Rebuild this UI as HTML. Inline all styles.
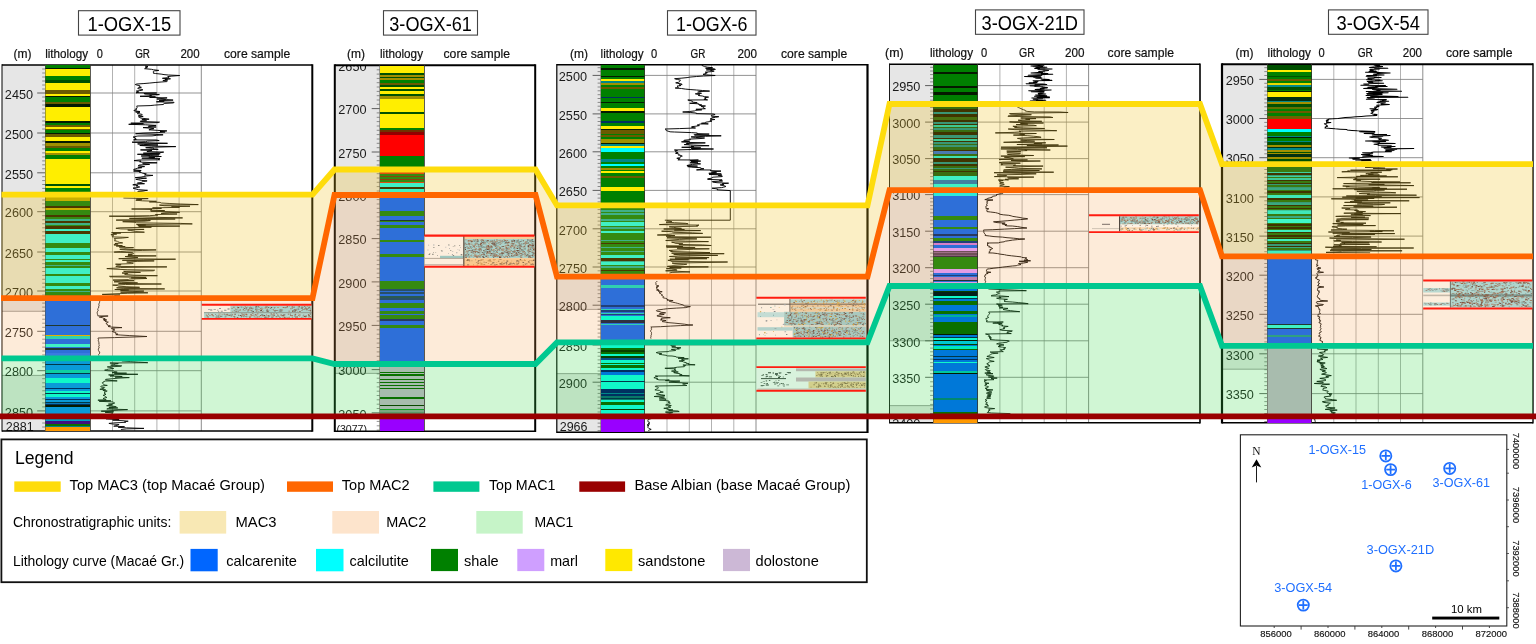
<!DOCTYPE html>
<html lang="en"><head><meta charset="utf-8"><title>Well correlation - Macaé Group</title>
<style>html,body{margin:0;padding:0;background:#fff}body{width:1536px;height:644px;overflow:hidden}svg{display:block}.hd{font-family:"Liberation Sans",sans-serif;font-size:13.6px;fill:#111;stroke:#111;stroke-width:0.22px}.tt{font-family:"Liberation Sans",sans-serif;font-size:19.6px;fill:#000}.dl{font-family:"Liberation Sans",sans-serif;font-size:12.7px;fill:#1a1a1a}.lg{font-family:"Liberation Sans",sans-serif;fill:#000}.mp{font-family:"Liberation Sans",sans-serif;fill:#1f6fff;font-size:12.6px}.ax{font-family:"Liberation Sans",sans-serif;fill:#111;font-size:9.8px;stroke:#111;stroke-width:0.15px}</style></head><body>
<svg width="1536" height="644" viewBox="0 0 1536 644">
<rect width="1536" height="644" fill="#fff"/>
<g id="panels">
<rect x="2.0" y="65.0" width="310.3" height="366.0" fill="#fff"/>
<rect x="2.0" y="65" width="43.2" height="246.3" fill="#e6e6e6"/>
<rect x="2.0" y="375.4" width="43.2" height="55.6" fill="#e6e6e6"/>
<rect x="334.8" y="65.3" width="200.4" height="365.9" fill="#fff"/>
<rect x="334.8" y="65" width="44.9" height="308.4" fill="#e6e6e6"/>
<rect x="556.8" y="64.8" width="310.7" height="367.4" fill="#fff"/>
<rect x="556.8" y="65" width="43.8" height="244.4" fill="#e6e6e6"/>
<rect x="556.8" y="373.6" width="43.8" height="58.4" fill="#e6e6e6"/>
<rect x="889.5" y="64.2" width="310.5" height="358.5" fill="#fff"/>
<rect x="889.5" y="64.5" width="43.6" height="276.3" fill="#e6e6e6"/>
<rect x="889.5" y="405.6" width="43.6" height="16.9" fill="#e6e6e6"/>
<rect x="1222.0" y="64.2" width="311.0" height="358.5" fill="#fff"/>
<rect x="1222.0" y="64.5" width="45.3" height="304.7" fill="#e6e6e6"/>
<line x1="2.0" y1="311.3" x2="45.2" y2="311.3" stroke="#8a8a8a" stroke-width="0.8"/>
<line x1="2.0" y1="375.4" x2="45.2" y2="375.4" stroke="#8a8a8a" stroke-width="0.8"/>
<line x1="334.8" y1="373.4" x2="379.7" y2="373.4" stroke="#8a8a8a" stroke-width="0.8"/>
<line x1="556.8" y1="309.4" x2="600.6" y2="309.4" stroke="#8a8a8a" stroke-width="0.8"/>
<line x1="556.8" y1="373.6" x2="600.6" y2="373.6" stroke="#8a8a8a" stroke-width="0.8"/>
<line x1="889.5" y1="340.8" x2="933.1" y2="340.8" stroke="#8a8a8a" stroke-width="0.8"/>
<line x1="889.5" y1="405.6" x2="933.1" y2="405.6" stroke="#8a8a8a" stroke-width="0.8"/>
<line x1="1222.0" y1="369.2" x2="1267.3" y2="369.2" stroke="#8a8a8a" stroke-width="0.8"/>
</g>
<g id="grid" stroke="#a4a4a4" stroke-width="0.85" fill="none">
<line x1="112.5" y1="65.0" x2="112.5" y2="431.0"/>
<line x1="134.7" y1="65.0" x2="134.7" y2="431.0"/>
<line x1="156.9" y1="65.0" x2="156.9" y2="431.0"/>
<line x1="179.1" y1="65.0" x2="179.1" y2="431.0"/>
<line x1="90.3" y1="93.0" x2="201.3" y2="93.0" stroke="#808080"/>
<line x1="90.3" y1="133.0" x2="201.3" y2="133.0" stroke="#808080"/>
<line x1="90.3" y1="172.8" x2="201.3" y2="172.8" stroke="#808080"/>
<line x1="90.3" y1="211.7" x2="201.3" y2="211.7" stroke="#808080"/>
<line x1="90.3" y1="252.0" x2="201.3" y2="252.0" stroke="#808080"/>
<line x1="90.3" y1="291.0" x2="201.3" y2="291.0" stroke="#808080"/>
<line x1="90.3" y1="331.3" x2="201.3" y2="331.3" stroke="#808080"/>
<line x1="90.3" y1="370.7" x2="201.3" y2="370.7" stroke="#808080"/>
<line x1="90.3" y1="410.9" x2="201.3" y2="410.9" stroke="#808080"/>
<line x1="201.3" y1="65.0" x2="201.3" y2="431.0" stroke="#777"/>
<line x1="667.0" y1="64.8" x2="667.0" y2="432.2"/>
<line x1="689.3" y1="64.8" x2="689.3" y2="432.2"/>
<line x1="711.5" y1="64.8" x2="711.5" y2="432.2"/>
<line x1="733.8" y1="64.8" x2="733.8" y2="432.2"/>
<line x1="644.8" y1="75.4" x2="756.0" y2="75.4" stroke="#808080"/>
<line x1="644.8" y1="113.9" x2="756.0" y2="113.9" stroke="#808080"/>
<line x1="644.8" y1="151.8" x2="756.0" y2="151.8" stroke="#808080"/>
<line x1="644.8" y1="190.4" x2="756.0" y2="190.4" stroke="#808080"/>
<line x1="644.8" y1="228.8" x2="756.0" y2="228.8" stroke="#808080"/>
<line x1="644.8" y1="267.0" x2="756.0" y2="267.0" stroke="#808080"/>
<line x1="644.8" y1="305.2" x2="756.0" y2="305.2" stroke="#808080"/>
<line x1="644.8" y1="345.0" x2="756.0" y2="345.0" stroke="#808080"/>
<line x1="644.8" y1="382.2" x2="756.0" y2="382.2" stroke="#808080"/>
<line x1="756.0" y1="64.8" x2="756.0" y2="432.2" stroke="#777"/>
<line x1="999.9" y1="64.2" x2="999.9" y2="422.7"/>
<line x1="1022.1" y1="64.2" x2="1022.1" y2="422.7"/>
<line x1="1044.2" y1="64.2" x2="1044.2" y2="422.7"/>
<line x1="1066.4" y1="64.2" x2="1066.4" y2="422.7"/>
<line x1="977.7" y1="85.6" x2="1088.6" y2="85.6" stroke="#808080"/>
<line x1="977.7" y1="122.1" x2="1088.6" y2="122.1" stroke="#808080"/>
<line x1="977.7" y1="158.6" x2="1088.6" y2="158.6" stroke="#808080"/>
<line x1="977.7" y1="194.6" x2="1088.6" y2="194.6" stroke="#808080"/>
<line x1="977.7" y1="231.2" x2="1088.6" y2="231.2" stroke="#808080"/>
<line x1="977.7" y1="267.7" x2="1088.6" y2="267.7" stroke="#808080"/>
<line x1="977.7" y1="304.2" x2="1088.6" y2="304.2" stroke="#808080"/>
<line x1="977.7" y1="340.8" x2="1088.6" y2="340.8" stroke="#808080"/>
<line x1="977.7" y1="377.3" x2="1088.6" y2="377.3" stroke="#808080"/>
<line x1="1088.6" y1="64.2" x2="1088.6" y2="422.7" stroke="#777"/>
<line x1="1333.8" y1="64.2" x2="1333.8" y2="422.7"/>
<line x1="1356.0" y1="64.2" x2="1356.0" y2="422.7"/>
<line x1="1378.3" y1="64.2" x2="1378.3" y2="422.7"/>
<line x1="1400.5" y1="64.2" x2="1400.5" y2="422.7"/>
<line x1="1311.5" y1="79.4" x2="1422.8" y2="79.4" stroke="#808080"/>
<line x1="1311.5" y1="118.5" x2="1422.8" y2="118.5" stroke="#808080"/>
<line x1="1311.5" y1="157.7" x2="1422.8" y2="157.7" stroke="#808080"/>
<line x1="1311.5" y1="196.9" x2="1422.8" y2="196.9" stroke="#808080"/>
<line x1="1311.5" y1="236.1" x2="1422.8" y2="236.1" stroke="#808080"/>
<line x1="1311.5" y1="275.2" x2="1422.8" y2="275.2" stroke="#808080"/>
<line x1="1311.5" y1="314.3" x2="1422.8" y2="314.3" stroke="#808080"/>
<line x1="1311.5" y1="353.8" x2="1422.8" y2="353.8" stroke="#808080"/>
<line x1="1311.5" y1="393.6" x2="1422.8" y2="393.6" stroke="#808080"/>
<line x1="1422.8" y1="64.2" x2="1422.8" y2="422.7" stroke="#777"/>
</g>
<g id="ticks" stroke="#3a3a3a" stroke-width="0.8">
<line x1="37.2" y1="93.0" x2="45.2" y2="93.0"/>
<line x1="37.2" y1="133.0" x2="45.2" y2="133.0"/>
<line x1="37.2" y1="172.8" x2="45.2" y2="172.8"/>
<line x1="37.2" y1="211.7" x2="45.2" y2="211.7"/>
<line x1="37.2" y1="252.0" x2="45.2" y2="252.0"/>
<line x1="37.2" y1="291.0" x2="45.2" y2="291.0"/>
<line x1="37.2" y1="331.3" x2="45.2" y2="331.3"/>
<line x1="37.2" y1="370.7" x2="45.2" y2="370.7"/>
<line x1="37.2" y1="410.9" x2="45.2" y2="410.9"/>
<line x1="42.2" y1="97.0" x2="45.2" y2="97.0" stroke-width="0.55"/>
<line x1="42.2" y1="101.0" x2="45.2" y2="101.0" stroke-width="0.55"/>
<line x1="42.2" y1="105.0" x2="45.2" y2="105.0" stroke-width="0.55"/>
<line x1="42.2" y1="109.0" x2="45.2" y2="109.0" stroke-width="0.55"/>
<line x1="42.2" y1="113.0" x2="45.2" y2="113.0" stroke-width="0.55"/>
<line x1="42.2" y1="117.0" x2="45.2" y2="117.0" stroke-width="0.55"/>
<line x1="42.2" y1="121.0" x2="45.2" y2="121.0" stroke-width="0.55"/>
<line x1="42.2" y1="125.0" x2="45.2" y2="125.0" stroke-width="0.55"/>
<line x1="42.2" y1="129.0" x2="45.2" y2="129.0" stroke-width="0.55"/>
<line x1="42.2" y1="137.0" x2="45.2" y2="137.0" stroke-width="0.55"/>
<line x1="42.2" y1="141.0" x2="45.2" y2="141.0" stroke-width="0.55"/>
<line x1="42.2" y1="144.9" x2="45.2" y2="144.9" stroke-width="0.55"/>
<line x1="42.2" y1="148.9" x2="45.2" y2="148.9" stroke-width="0.55"/>
<line x1="42.2" y1="152.9" x2="45.2" y2="152.9" stroke-width="0.55"/>
<line x1="42.2" y1="156.9" x2="45.2" y2="156.9" stroke-width="0.55"/>
<line x1="42.2" y1="160.9" x2="45.2" y2="160.9" stroke-width="0.55"/>
<line x1="42.2" y1="164.8" x2="45.2" y2="164.8" stroke-width="0.55"/>
<line x1="42.2" y1="168.8" x2="45.2" y2="168.8" stroke-width="0.55"/>
<line x1="42.2" y1="176.7" x2="45.2" y2="176.7" stroke-width="0.55"/>
<line x1="42.2" y1="180.6" x2="45.2" y2="180.6" stroke-width="0.55"/>
<line x1="42.2" y1="184.5" x2="45.2" y2="184.5" stroke-width="0.55"/>
<line x1="42.2" y1="188.4" x2="45.2" y2="188.4" stroke-width="0.55"/>
<line x1="42.2" y1="192.2" x2="45.2" y2="192.2" stroke-width="0.55"/>
<line x1="42.2" y1="196.1" x2="45.2" y2="196.1" stroke-width="0.55"/>
<line x1="42.2" y1="200.0" x2="45.2" y2="200.0" stroke-width="0.55"/>
<line x1="42.2" y1="203.9" x2="45.2" y2="203.9" stroke-width="0.55"/>
<line x1="42.2" y1="207.8" x2="45.2" y2="207.8" stroke-width="0.55"/>
<line x1="42.2" y1="215.7" x2="45.2" y2="215.7" stroke-width="0.55"/>
<line x1="42.2" y1="219.8" x2="45.2" y2="219.8" stroke-width="0.55"/>
<line x1="42.2" y1="223.8" x2="45.2" y2="223.8" stroke-width="0.55"/>
<line x1="42.2" y1="227.8" x2="45.2" y2="227.8" stroke-width="0.55"/>
<line x1="42.2" y1="231.8" x2="45.2" y2="231.8" stroke-width="0.55"/>
<line x1="42.2" y1="235.9" x2="45.2" y2="235.9" stroke-width="0.55"/>
<line x1="42.2" y1="239.9" x2="45.2" y2="239.9" stroke-width="0.55"/>
<line x1="42.2" y1="243.9" x2="45.2" y2="243.9" stroke-width="0.55"/>
<line x1="42.2" y1="248.0" x2="45.2" y2="248.0" stroke-width="0.55"/>
<line x1="42.2" y1="255.9" x2="45.2" y2="255.9" stroke-width="0.55"/>
<line x1="42.2" y1="259.8" x2="45.2" y2="259.8" stroke-width="0.55"/>
<line x1="42.2" y1="263.7" x2="45.2" y2="263.7" stroke-width="0.55"/>
<line x1="42.2" y1="267.6" x2="45.2" y2="267.6" stroke-width="0.55"/>
<line x1="42.2" y1="271.5" x2="45.2" y2="271.5" stroke-width="0.55"/>
<line x1="42.2" y1="275.4" x2="45.2" y2="275.4" stroke-width="0.55"/>
<line x1="42.2" y1="279.3" x2="45.2" y2="279.3" stroke-width="0.55"/>
<line x1="42.2" y1="283.2" x2="45.2" y2="283.2" stroke-width="0.55"/>
<line x1="42.2" y1="287.1" x2="45.2" y2="287.1" stroke-width="0.55"/>
<line x1="42.2" y1="295.0" x2="45.2" y2="295.0" stroke-width="0.55"/>
<line x1="42.2" y1="299.1" x2="45.2" y2="299.1" stroke-width="0.55"/>
<line x1="42.2" y1="303.1" x2="45.2" y2="303.1" stroke-width="0.55"/>
<line x1="42.2" y1="307.1" x2="45.2" y2="307.1" stroke-width="0.55"/>
<line x1="42.2" y1="311.1" x2="45.2" y2="311.1" stroke-width="0.55"/>
<line x1="42.2" y1="315.2" x2="45.2" y2="315.2" stroke-width="0.55"/>
<line x1="42.2" y1="319.2" x2="45.2" y2="319.2" stroke-width="0.55"/>
<line x1="42.2" y1="323.2" x2="45.2" y2="323.2" stroke-width="0.55"/>
<line x1="42.2" y1="327.3" x2="45.2" y2="327.3" stroke-width="0.55"/>
<line x1="42.2" y1="335.2" x2="45.2" y2="335.2" stroke-width="0.55"/>
<line x1="42.2" y1="339.2" x2="45.2" y2="339.2" stroke-width="0.55"/>
<line x1="42.2" y1="343.1" x2="45.2" y2="343.1" stroke-width="0.55"/>
<line x1="42.2" y1="347.1" x2="45.2" y2="347.1" stroke-width="0.55"/>
<line x1="42.2" y1="351.0" x2="45.2" y2="351.0" stroke-width="0.55"/>
<line x1="42.2" y1="354.9" x2="45.2" y2="354.9" stroke-width="0.55"/>
<line x1="42.2" y1="358.9" x2="45.2" y2="358.9" stroke-width="0.55"/>
<line x1="42.2" y1="362.8" x2="45.2" y2="362.8" stroke-width="0.55"/>
<line x1="42.2" y1="366.8" x2="45.2" y2="366.8" stroke-width="0.55"/>
<line x1="42.2" y1="374.7" x2="45.2" y2="374.7" stroke-width="0.55"/>
<line x1="42.2" y1="378.7" x2="45.2" y2="378.7" stroke-width="0.55"/>
<line x1="42.2" y1="382.8" x2="45.2" y2="382.8" stroke-width="0.55"/>
<line x1="42.2" y1="386.8" x2="45.2" y2="386.8" stroke-width="0.55"/>
<line x1="42.2" y1="390.8" x2="45.2" y2="390.8" stroke-width="0.55"/>
<line x1="42.2" y1="394.8" x2="45.2" y2="394.8" stroke-width="0.55"/>
<line x1="42.2" y1="398.8" x2="45.2" y2="398.8" stroke-width="0.55"/>
<line x1="42.2" y1="402.9" x2="45.2" y2="402.9" stroke-width="0.55"/>
<line x1="42.2" y1="406.9" x2="45.2" y2="406.9" stroke-width="0.55"/>
<line x1="42.2" y1="89.0" x2="45.2" y2="89.0" stroke-width="0.55"/>
<line x1="42.2" y1="85.0" x2="45.2" y2="85.0" stroke-width="0.55"/>
<line x1="42.2" y1="81.0" x2="45.2" y2="81.0" stroke-width="0.55"/>
<line x1="42.2" y1="77.0" x2="45.2" y2="77.0" stroke-width="0.55"/>
<line x1="42.2" y1="73.0" x2="45.2" y2="73.0" stroke-width="0.55"/>
<line x1="42.2" y1="69.0" x2="45.2" y2="69.0" stroke-width="0.55"/>
<line x1="42.2" y1="414.9" x2="45.2" y2="414.9" stroke-width="0.55"/>
<line x1="42.2" y1="418.9" x2="45.2" y2="418.9" stroke-width="0.55"/>
<line x1="42.2" y1="423.0" x2="45.2" y2="423.0" stroke-width="0.55"/>
<line x1="42.2" y1="427.0" x2="45.2" y2="427.0" stroke-width="0.55"/>
<line x1="371.7" y1="65.5" x2="379.7" y2="65.5"/>
<line x1="371.7" y1="108.6" x2="379.7" y2="108.6"/>
<line x1="371.7" y1="152.0" x2="379.7" y2="152.0"/>
<line x1="371.7" y1="195.3" x2="379.7" y2="195.3"/>
<line x1="371.7" y1="238.6" x2="379.7" y2="238.6"/>
<line x1="371.7" y1="281.9" x2="379.7" y2="281.9"/>
<line x1="371.7" y1="325.4" x2="379.7" y2="325.4"/>
<line x1="371.7" y1="369.6" x2="379.7" y2="369.6"/>
<line x1="371.7" y1="412.8" x2="379.7" y2="412.8"/>
<line x1="376.7" y1="69.8" x2="379.7" y2="69.8" stroke-width="0.55"/>
<line x1="376.7" y1="74.1" x2="379.7" y2="74.1" stroke-width="0.55"/>
<line x1="376.7" y1="78.4" x2="379.7" y2="78.4" stroke-width="0.55"/>
<line x1="376.7" y1="82.7" x2="379.7" y2="82.7" stroke-width="0.55"/>
<line x1="376.7" y1="87.0" x2="379.7" y2="87.0" stroke-width="0.55"/>
<line x1="376.7" y1="91.4" x2="379.7" y2="91.4" stroke-width="0.55"/>
<line x1="376.7" y1="95.7" x2="379.7" y2="95.7" stroke-width="0.55"/>
<line x1="376.7" y1="100.0" x2="379.7" y2="100.0" stroke-width="0.55"/>
<line x1="376.7" y1="104.3" x2="379.7" y2="104.3" stroke-width="0.55"/>
<line x1="376.7" y1="112.9" x2="379.7" y2="112.9" stroke-width="0.55"/>
<line x1="376.7" y1="117.3" x2="379.7" y2="117.3" stroke-width="0.55"/>
<line x1="376.7" y1="121.6" x2="379.7" y2="121.6" stroke-width="0.55"/>
<line x1="376.7" y1="126.0" x2="379.7" y2="126.0" stroke-width="0.55"/>
<line x1="376.7" y1="130.3" x2="379.7" y2="130.3" stroke-width="0.55"/>
<line x1="376.7" y1="134.6" x2="379.7" y2="134.6" stroke-width="0.55"/>
<line x1="376.7" y1="139.0" x2="379.7" y2="139.0" stroke-width="0.55"/>
<line x1="376.7" y1="143.3" x2="379.7" y2="143.3" stroke-width="0.55"/>
<line x1="376.7" y1="147.7" x2="379.7" y2="147.7" stroke-width="0.55"/>
<line x1="376.7" y1="156.3" x2="379.7" y2="156.3" stroke-width="0.55"/>
<line x1="376.7" y1="160.7" x2="379.7" y2="160.7" stroke-width="0.55"/>
<line x1="376.7" y1="165.0" x2="379.7" y2="165.0" stroke-width="0.55"/>
<line x1="376.7" y1="169.3" x2="379.7" y2="169.3" stroke-width="0.55"/>
<line x1="376.7" y1="173.7" x2="379.7" y2="173.7" stroke-width="0.55"/>
<line x1="376.7" y1="178.0" x2="379.7" y2="178.0" stroke-width="0.55"/>
<line x1="376.7" y1="182.3" x2="379.7" y2="182.3" stroke-width="0.55"/>
<line x1="376.7" y1="186.6" x2="379.7" y2="186.6" stroke-width="0.55"/>
<line x1="376.7" y1="191.0" x2="379.7" y2="191.0" stroke-width="0.55"/>
<line x1="376.7" y1="199.6" x2="379.7" y2="199.6" stroke-width="0.55"/>
<line x1="376.7" y1="204.0" x2="379.7" y2="204.0" stroke-width="0.55"/>
<line x1="376.7" y1="208.3" x2="379.7" y2="208.3" stroke-width="0.55"/>
<line x1="376.7" y1="212.6" x2="379.7" y2="212.6" stroke-width="0.55"/>
<line x1="376.7" y1="216.9" x2="379.7" y2="216.9" stroke-width="0.55"/>
<line x1="376.7" y1="221.3" x2="379.7" y2="221.3" stroke-width="0.55"/>
<line x1="376.7" y1="225.6" x2="379.7" y2="225.6" stroke-width="0.55"/>
<line x1="376.7" y1="229.9" x2="379.7" y2="229.9" stroke-width="0.55"/>
<line x1="376.7" y1="234.3" x2="379.7" y2="234.3" stroke-width="0.55"/>
<line x1="376.7" y1="242.9" x2="379.7" y2="242.9" stroke-width="0.55"/>
<line x1="376.7" y1="247.3" x2="379.7" y2="247.3" stroke-width="0.55"/>
<line x1="376.7" y1="251.6" x2="379.7" y2="251.6" stroke-width="0.55"/>
<line x1="376.7" y1="255.9" x2="379.7" y2="255.9" stroke-width="0.55"/>
<line x1="376.7" y1="260.2" x2="379.7" y2="260.2" stroke-width="0.55"/>
<line x1="376.7" y1="264.6" x2="379.7" y2="264.6" stroke-width="0.55"/>
<line x1="376.7" y1="268.9" x2="379.7" y2="268.9" stroke-width="0.55"/>
<line x1="376.7" y1="273.2" x2="379.7" y2="273.2" stroke-width="0.55"/>
<line x1="376.7" y1="277.6" x2="379.7" y2="277.6" stroke-width="0.55"/>
<line x1="376.7" y1="286.2" x2="379.7" y2="286.2" stroke-width="0.55"/>
<line x1="376.7" y1="290.6" x2="379.7" y2="290.6" stroke-width="0.55"/>
<line x1="376.7" y1="294.9" x2="379.7" y2="294.9" stroke-width="0.55"/>
<line x1="376.7" y1="299.3" x2="379.7" y2="299.3" stroke-width="0.55"/>
<line x1="376.7" y1="303.6" x2="379.7" y2="303.6" stroke-width="0.55"/>
<line x1="376.7" y1="308.0" x2="379.7" y2="308.0" stroke-width="0.55"/>
<line x1="376.7" y1="312.3" x2="379.7" y2="312.3" stroke-width="0.55"/>
<line x1="376.7" y1="316.7" x2="379.7" y2="316.7" stroke-width="0.55"/>
<line x1="376.7" y1="321.0" x2="379.7" y2="321.0" stroke-width="0.55"/>
<line x1="376.7" y1="329.8" x2="379.7" y2="329.8" stroke-width="0.55"/>
<line x1="376.7" y1="334.2" x2="379.7" y2="334.2" stroke-width="0.55"/>
<line x1="376.7" y1="338.7" x2="379.7" y2="338.7" stroke-width="0.55"/>
<line x1="376.7" y1="343.1" x2="379.7" y2="343.1" stroke-width="0.55"/>
<line x1="376.7" y1="347.5" x2="379.7" y2="347.5" stroke-width="0.55"/>
<line x1="376.7" y1="351.9" x2="379.7" y2="351.9" stroke-width="0.55"/>
<line x1="376.7" y1="356.3" x2="379.7" y2="356.3" stroke-width="0.55"/>
<line x1="376.7" y1="360.8" x2="379.7" y2="360.8" stroke-width="0.55"/>
<line x1="376.7" y1="365.2" x2="379.7" y2="365.2" stroke-width="0.55"/>
<line x1="376.7" y1="373.9" x2="379.7" y2="373.9" stroke-width="0.55"/>
<line x1="376.7" y1="378.2" x2="379.7" y2="378.2" stroke-width="0.55"/>
<line x1="376.7" y1="382.6" x2="379.7" y2="382.6" stroke-width="0.55"/>
<line x1="376.7" y1="386.9" x2="379.7" y2="386.9" stroke-width="0.55"/>
<line x1="376.7" y1="391.2" x2="379.7" y2="391.2" stroke-width="0.55"/>
<line x1="376.7" y1="395.5" x2="379.7" y2="395.5" stroke-width="0.55"/>
<line x1="376.7" y1="399.8" x2="379.7" y2="399.8" stroke-width="0.55"/>
<line x1="376.7" y1="404.2" x2="379.7" y2="404.2" stroke-width="0.55"/>
<line x1="376.7" y1="408.5" x2="379.7" y2="408.5" stroke-width="0.55"/>
<line x1="376.7" y1="417.1" x2="379.7" y2="417.1" stroke-width="0.55"/>
<line x1="376.7" y1="421.4" x2="379.7" y2="421.4" stroke-width="0.55"/>
<line x1="376.7" y1="425.8" x2="379.7" y2="425.8" stroke-width="0.55"/>
<line x1="376.7" y1="430.1" x2="379.7" y2="430.1" stroke-width="0.55"/>
<line x1="592.6" y1="75.4" x2="600.6" y2="75.4"/>
<line x1="592.6" y1="113.9" x2="600.6" y2="113.9"/>
<line x1="592.6" y1="151.8" x2="600.6" y2="151.8"/>
<line x1="592.6" y1="190.4" x2="600.6" y2="190.4"/>
<line x1="592.6" y1="228.8" x2="600.6" y2="228.8"/>
<line x1="592.6" y1="267.0" x2="600.6" y2="267.0"/>
<line x1="592.6" y1="305.2" x2="600.6" y2="305.2"/>
<line x1="592.6" y1="345.0" x2="600.6" y2="345.0"/>
<line x1="592.6" y1="382.2" x2="600.6" y2="382.2"/>
<line x1="597.6" y1="79.2" x2="600.6" y2="79.2" stroke-width="0.55"/>
<line x1="597.6" y1="83.1" x2="600.6" y2="83.1" stroke-width="0.55"/>
<line x1="597.6" y1="87.0" x2="600.6" y2="87.0" stroke-width="0.55"/>
<line x1="597.6" y1="90.8" x2="600.6" y2="90.8" stroke-width="0.55"/>
<line x1="597.6" y1="94.7" x2="600.6" y2="94.7" stroke-width="0.55"/>
<line x1="597.6" y1="98.5" x2="600.6" y2="98.5" stroke-width="0.55"/>
<line x1="597.6" y1="102.4" x2="600.6" y2="102.4" stroke-width="0.55"/>
<line x1="597.6" y1="106.2" x2="600.6" y2="106.2" stroke-width="0.55"/>
<line x1="597.6" y1="110.1" x2="600.6" y2="110.1" stroke-width="0.55"/>
<line x1="597.6" y1="117.7" x2="600.6" y2="117.7" stroke-width="0.55"/>
<line x1="597.6" y1="121.5" x2="600.6" y2="121.5" stroke-width="0.55"/>
<line x1="597.6" y1="125.3" x2="600.6" y2="125.3" stroke-width="0.55"/>
<line x1="597.6" y1="129.1" x2="600.6" y2="129.1" stroke-width="0.55"/>
<line x1="597.6" y1="132.9" x2="600.6" y2="132.9" stroke-width="0.55"/>
<line x1="597.6" y1="136.6" x2="600.6" y2="136.6" stroke-width="0.55"/>
<line x1="597.6" y1="140.4" x2="600.6" y2="140.4" stroke-width="0.55"/>
<line x1="597.6" y1="144.2" x2="600.6" y2="144.2" stroke-width="0.55"/>
<line x1="597.6" y1="148.0" x2="600.6" y2="148.0" stroke-width="0.55"/>
<line x1="597.6" y1="155.7" x2="600.6" y2="155.7" stroke-width="0.55"/>
<line x1="597.6" y1="159.5" x2="600.6" y2="159.5" stroke-width="0.55"/>
<line x1="597.6" y1="163.4" x2="600.6" y2="163.4" stroke-width="0.55"/>
<line x1="597.6" y1="167.2" x2="600.6" y2="167.2" stroke-width="0.55"/>
<line x1="597.6" y1="171.1" x2="600.6" y2="171.1" stroke-width="0.55"/>
<line x1="597.6" y1="175.0" x2="600.6" y2="175.0" stroke-width="0.55"/>
<line x1="597.6" y1="178.8" x2="600.6" y2="178.8" stroke-width="0.55"/>
<line x1="597.6" y1="182.7" x2="600.6" y2="182.7" stroke-width="0.55"/>
<line x1="597.6" y1="186.5" x2="600.6" y2="186.5" stroke-width="0.55"/>
<line x1="597.6" y1="194.2" x2="600.6" y2="194.2" stroke-width="0.55"/>
<line x1="597.6" y1="198.1" x2="600.6" y2="198.1" stroke-width="0.55"/>
<line x1="597.6" y1="201.9" x2="600.6" y2="201.9" stroke-width="0.55"/>
<line x1="597.6" y1="205.8" x2="600.6" y2="205.8" stroke-width="0.55"/>
<line x1="597.6" y1="209.6" x2="600.6" y2="209.6" stroke-width="0.55"/>
<line x1="597.6" y1="213.4" x2="600.6" y2="213.4" stroke-width="0.55"/>
<line x1="597.6" y1="217.3" x2="600.6" y2="217.3" stroke-width="0.55"/>
<line x1="597.6" y1="221.1" x2="600.6" y2="221.1" stroke-width="0.55"/>
<line x1="597.6" y1="225.0" x2="600.6" y2="225.0" stroke-width="0.55"/>
<line x1="597.6" y1="232.6" x2="600.6" y2="232.6" stroke-width="0.55"/>
<line x1="597.6" y1="236.4" x2="600.6" y2="236.4" stroke-width="0.55"/>
<line x1="597.6" y1="240.3" x2="600.6" y2="240.3" stroke-width="0.55"/>
<line x1="597.6" y1="244.1" x2="600.6" y2="244.1" stroke-width="0.55"/>
<line x1="597.6" y1="247.9" x2="600.6" y2="247.9" stroke-width="0.55"/>
<line x1="597.6" y1="251.7" x2="600.6" y2="251.7" stroke-width="0.55"/>
<line x1="597.6" y1="255.5" x2="600.6" y2="255.5" stroke-width="0.55"/>
<line x1="597.6" y1="259.4" x2="600.6" y2="259.4" stroke-width="0.55"/>
<line x1="597.6" y1="263.2" x2="600.6" y2="263.2" stroke-width="0.55"/>
<line x1="597.6" y1="270.8" x2="600.6" y2="270.8" stroke-width="0.55"/>
<line x1="597.6" y1="274.6" x2="600.6" y2="274.6" stroke-width="0.55"/>
<line x1="597.6" y1="278.5" x2="600.6" y2="278.5" stroke-width="0.55"/>
<line x1="597.6" y1="282.3" x2="600.6" y2="282.3" stroke-width="0.55"/>
<line x1="597.6" y1="286.1" x2="600.6" y2="286.1" stroke-width="0.55"/>
<line x1="597.6" y1="289.9" x2="600.6" y2="289.9" stroke-width="0.55"/>
<line x1="597.6" y1="293.7" x2="600.6" y2="293.7" stroke-width="0.55"/>
<line x1="597.6" y1="297.6" x2="600.6" y2="297.6" stroke-width="0.55"/>
<line x1="597.6" y1="301.4" x2="600.6" y2="301.4" stroke-width="0.55"/>
<line x1="597.6" y1="309.2" x2="600.6" y2="309.2" stroke-width="0.55"/>
<line x1="597.6" y1="313.2" x2="600.6" y2="313.2" stroke-width="0.55"/>
<line x1="597.6" y1="317.1" x2="600.6" y2="317.1" stroke-width="0.55"/>
<line x1="597.6" y1="321.1" x2="600.6" y2="321.1" stroke-width="0.55"/>
<line x1="597.6" y1="325.1" x2="600.6" y2="325.1" stroke-width="0.55"/>
<line x1="597.6" y1="329.1" x2="600.6" y2="329.1" stroke-width="0.55"/>
<line x1="597.6" y1="333.1" x2="600.6" y2="333.1" stroke-width="0.55"/>
<line x1="597.6" y1="337.0" x2="600.6" y2="337.0" stroke-width="0.55"/>
<line x1="597.6" y1="341.0" x2="600.6" y2="341.0" stroke-width="0.55"/>
<line x1="597.6" y1="348.7" x2="600.6" y2="348.7" stroke-width="0.55"/>
<line x1="597.6" y1="352.4" x2="600.6" y2="352.4" stroke-width="0.55"/>
<line x1="597.6" y1="356.2" x2="600.6" y2="356.2" stroke-width="0.55"/>
<line x1="597.6" y1="359.9" x2="600.6" y2="359.9" stroke-width="0.55"/>
<line x1="597.6" y1="363.6" x2="600.6" y2="363.6" stroke-width="0.55"/>
<line x1="597.6" y1="367.3" x2="600.6" y2="367.3" stroke-width="0.55"/>
<line x1="597.6" y1="371.0" x2="600.6" y2="371.0" stroke-width="0.55"/>
<line x1="597.6" y1="374.8" x2="600.6" y2="374.8" stroke-width="0.55"/>
<line x1="597.6" y1="378.5" x2="600.6" y2="378.5" stroke-width="0.55"/>
<line x1="597.6" y1="71.6" x2="600.6" y2="71.6" stroke-width="0.55"/>
<line x1="597.6" y1="67.7" x2="600.6" y2="67.7" stroke-width="0.55"/>
<line x1="597.6" y1="385.9" x2="600.6" y2="385.9" stroke-width="0.55"/>
<line x1="597.6" y1="389.6" x2="600.6" y2="389.6" stroke-width="0.55"/>
<line x1="597.6" y1="393.4" x2="600.6" y2="393.4" stroke-width="0.55"/>
<line x1="597.6" y1="397.1" x2="600.6" y2="397.1" stroke-width="0.55"/>
<line x1="597.6" y1="400.8" x2="600.6" y2="400.8" stroke-width="0.55"/>
<line x1="597.6" y1="404.5" x2="600.6" y2="404.5" stroke-width="0.55"/>
<line x1="597.6" y1="408.2" x2="600.6" y2="408.2" stroke-width="0.55"/>
<line x1="597.6" y1="412.0" x2="600.6" y2="412.0" stroke-width="0.55"/>
<line x1="597.6" y1="415.7" x2="600.6" y2="415.7" stroke-width="0.55"/>
<line x1="597.6" y1="419.4" x2="600.6" y2="419.4" stroke-width="0.55"/>
<line x1="597.6" y1="423.1" x2="600.6" y2="423.1" stroke-width="0.55"/>
<line x1="597.6" y1="426.8" x2="600.6" y2="426.8" stroke-width="0.55"/>
<line x1="597.6" y1="430.6" x2="600.6" y2="430.6" stroke-width="0.55"/>
<line x1="925.1" y1="85.6" x2="933.1" y2="85.6"/>
<line x1="925.1" y1="122.1" x2="933.1" y2="122.1"/>
<line x1="925.1" y1="158.6" x2="933.1" y2="158.6"/>
<line x1="925.1" y1="194.6" x2="933.1" y2="194.6"/>
<line x1="925.1" y1="231.2" x2="933.1" y2="231.2"/>
<line x1="925.1" y1="267.7" x2="933.1" y2="267.7"/>
<line x1="925.1" y1="304.2" x2="933.1" y2="304.2"/>
<line x1="925.1" y1="340.8" x2="933.1" y2="340.8"/>
<line x1="925.1" y1="377.3" x2="933.1" y2="377.3"/>
<line x1="925.1" y1="422.5" x2="933.1" y2="422.5"/>
<line x1="930.1" y1="89.2" x2="933.1" y2="89.2" stroke-width="0.55"/>
<line x1="930.1" y1="92.9" x2="933.1" y2="92.9" stroke-width="0.55"/>
<line x1="930.1" y1="96.5" x2="933.1" y2="96.5" stroke-width="0.55"/>
<line x1="930.1" y1="100.2" x2="933.1" y2="100.2" stroke-width="0.55"/>
<line x1="930.1" y1="103.8" x2="933.1" y2="103.8" stroke-width="0.55"/>
<line x1="930.1" y1="107.5" x2="933.1" y2="107.5" stroke-width="0.55"/>
<line x1="930.1" y1="111.1" x2="933.1" y2="111.1" stroke-width="0.55"/>
<line x1="930.1" y1="114.8" x2="933.1" y2="114.8" stroke-width="0.55"/>
<line x1="930.1" y1="118.4" x2="933.1" y2="118.4" stroke-width="0.55"/>
<line x1="930.1" y1="125.8" x2="933.1" y2="125.8" stroke-width="0.55"/>
<line x1="930.1" y1="129.4" x2="933.1" y2="129.4" stroke-width="0.55"/>
<line x1="930.1" y1="133.0" x2="933.1" y2="133.0" stroke-width="0.55"/>
<line x1="930.1" y1="136.7" x2="933.1" y2="136.7" stroke-width="0.55"/>
<line x1="930.1" y1="140.3" x2="933.1" y2="140.3" stroke-width="0.55"/>
<line x1="930.1" y1="144.0" x2="933.1" y2="144.0" stroke-width="0.55"/>
<line x1="930.1" y1="147.7" x2="933.1" y2="147.7" stroke-width="0.55"/>
<line x1="930.1" y1="151.3" x2="933.1" y2="151.3" stroke-width="0.55"/>
<line x1="930.1" y1="154.9" x2="933.1" y2="154.9" stroke-width="0.55"/>
<line x1="930.1" y1="162.2" x2="933.1" y2="162.2" stroke-width="0.55"/>
<line x1="930.1" y1="165.8" x2="933.1" y2="165.8" stroke-width="0.55"/>
<line x1="930.1" y1="169.4" x2="933.1" y2="169.4" stroke-width="0.55"/>
<line x1="930.1" y1="173.0" x2="933.1" y2="173.0" stroke-width="0.55"/>
<line x1="930.1" y1="176.6" x2="933.1" y2="176.6" stroke-width="0.55"/>
<line x1="930.1" y1="180.2" x2="933.1" y2="180.2" stroke-width="0.55"/>
<line x1="930.1" y1="183.8" x2="933.1" y2="183.8" stroke-width="0.55"/>
<line x1="930.1" y1="187.4" x2="933.1" y2="187.4" stroke-width="0.55"/>
<line x1="930.1" y1="191.0" x2="933.1" y2="191.0" stroke-width="0.55"/>
<line x1="930.1" y1="198.3" x2="933.1" y2="198.3" stroke-width="0.55"/>
<line x1="930.1" y1="201.9" x2="933.1" y2="201.9" stroke-width="0.55"/>
<line x1="930.1" y1="205.6" x2="933.1" y2="205.6" stroke-width="0.55"/>
<line x1="930.1" y1="209.2" x2="933.1" y2="209.2" stroke-width="0.55"/>
<line x1="930.1" y1="212.9" x2="933.1" y2="212.9" stroke-width="0.55"/>
<line x1="930.1" y1="216.6" x2="933.1" y2="216.6" stroke-width="0.55"/>
<line x1="930.1" y1="220.2" x2="933.1" y2="220.2" stroke-width="0.55"/>
<line x1="930.1" y1="223.9" x2="933.1" y2="223.9" stroke-width="0.55"/>
<line x1="930.1" y1="227.5" x2="933.1" y2="227.5" stroke-width="0.55"/>
<line x1="930.1" y1="234.8" x2="933.1" y2="234.8" stroke-width="0.55"/>
<line x1="930.1" y1="238.5" x2="933.1" y2="238.5" stroke-width="0.55"/>
<line x1="930.1" y1="242.1" x2="933.1" y2="242.1" stroke-width="0.55"/>
<line x1="930.1" y1="245.8" x2="933.1" y2="245.8" stroke-width="0.55"/>
<line x1="930.1" y1="249.4" x2="933.1" y2="249.4" stroke-width="0.55"/>
<line x1="930.1" y1="253.1" x2="933.1" y2="253.1" stroke-width="0.55"/>
<line x1="930.1" y1="256.8" x2="933.1" y2="256.8" stroke-width="0.55"/>
<line x1="930.1" y1="260.4" x2="933.1" y2="260.4" stroke-width="0.55"/>
<line x1="930.1" y1="264.1" x2="933.1" y2="264.1" stroke-width="0.55"/>
<line x1="930.1" y1="271.3" x2="933.1" y2="271.3" stroke-width="0.55"/>
<line x1="930.1" y1="275.0" x2="933.1" y2="275.0" stroke-width="0.55"/>
<line x1="930.1" y1="278.6" x2="933.1" y2="278.6" stroke-width="0.55"/>
<line x1="930.1" y1="282.3" x2="933.1" y2="282.3" stroke-width="0.55"/>
<line x1="930.1" y1="285.9" x2="933.1" y2="285.9" stroke-width="0.55"/>
<line x1="930.1" y1="289.6" x2="933.1" y2="289.6" stroke-width="0.55"/>
<line x1="930.1" y1="293.2" x2="933.1" y2="293.2" stroke-width="0.55"/>
<line x1="930.1" y1="296.9" x2="933.1" y2="296.9" stroke-width="0.55"/>
<line x1="930.1" y1="300.6" x2="933.1" y2="300.6" stroke-width="0.55"/>
<line x1="930.1" y1="307.9" x2="933.1" y2="307.9" stroke-width="0.55"/>
<line x1="930.1" y1="311.5" x2="933.1" y2="311.5" stroke-width="0.55"/>
<line x1="930.1" y1="315.2" x2="933.1" y2="315.2" stroke-width="0.55"/>
<line x1="930.1" y1="318.8" x2="933.1" y2="318.8" stroke-width="0.55"/>
<line x1="930.1" y1="322.5" x2="933.1" y2="322.5" stroke-width="0.55"/>
<line x1="930.1" y1="326.2" x2="933.1" y2="326.2" stroke-width="0.55"/>
<line x1="930.1" y1="329.8" x2="933.1" y2="329.8" stroke-width="0.55"/>
<line x1="930.1" y1="333.5" x2="933.1" y2="333.5" stroke-width="0.55"/>
<line x1="930.1" y1="337.1" x2="933.1" y2="337.1" stroke-width="0.55"/>
<line x1="930.1" y1="344.4" x2="933.1" y2="344.4" stroke-width="0.55"/>
<line x1="930.1" y1="348.1" x2="933.1" y2="348.1" stroke-width="0.55"/>
<line x1="930.1" y1="351.8" x2="933.1" y2="351.8" stroke-width="0.55"/>
<line x1="930.1" y1="355.4" x2="933.1" y2="355.4" stroke-width="0.55"/>
<line x1="930.1" y1="359.1" x2="933.1" y2="359.1" stroke-width="0.55"/>
<line x1="930.1" y1="362.7" x2="933.1" y2="362.7" stroke-width="0.55"/>
<line x1="930.1" y1="366.4" x2="933.1" y2="366.4" stroke-width="0.55"/>
<line x1="930.1" y1="370.0" x2="933.1" y2="370.0" stroke-width="0.55"/>
<line x1="930.1" y1="373.7" x2="933.1" y2="373.7" stroke-width="0.55"/>
<line x1="930.1" y1="381.8" x2="933.1" y2="381.8" stroke-width="0.55"/>
<line x1="930.1" y1="386.3" x2="933.1" y2="386.3" stroke-width="0.55"/>
<line x1="930.1" y1="390.9" x2="933.1" y2="390.9" stroke-width="0.55"/>
<line x1="930.1" y1="395.4" x2="933.1" y2="395.4" stroke-width="0.55"/>
<line x1="930.1" y1="399.9" x2="933.1" y2="399.9" stroke-width="0.55"/>
<line x1="930.1" y1="404.4" x2="933.1" y2="404.4" stroke-width="0.55"/>
<line x1="930.1" y1="408.9" x2="933.1" y2="408.9" stroke-width="0.55"/>
<line x1="930.1" y1="413.5" x2="933.1" y2="413.5" stroke-width="0.55"/>
<line x1="930.1" y1="418.0" x2="933.1" y2="418.0" stroke-width="0.55"/>
<line x1="930.1" y1="81.9" x2="933.1" y2="81.9" stroke-width="0.55"/>
<line x1="930.1" y1="78.3" x2="933.1" y2="78.3" stroke-width="0.55"/>
<line x1="930.1" y1="74.6" x2="933.1" y2="74.6" stroke-width="0.55"/>
<line x1="930.1" y1="71.0" x2="933.1" y2="71.0" stroke-width="0.55"/>
<line x1="930.1" y1="67.3" x2="933.1" y2="67.3" stroke-width="0.55"/>
<line x1="1259.3" y1="79.4" x2="1267.3" y2="79.4"/>
<line x1="1259.3" y1="118.5" x2="1267.3" y2="118.5"/>
<line x1="1259.3" y1="157.7" x2="1267.3" y2="157.7"/>
<line x1="1259.3" y1="196.9" x2="1267.3" y2="196.9"/>
<line x1="1259.3" y1="236.1" x2="1267.3" y2="236.1"/>
<line x1="1259.3" y1="275.2" x2="1267.3" y2="275.2"/>
<line x1="1259.3" y1="314.3" x2="1267.3" y2="314.3"/>
<line x1="1259.3" y1="353.8" x2="1267.3" y2="353.8"/>
<line x1="1259.3" y1="393.6" x2="1267.3" y2="393.6"/>
<line x1="1264.3" y1="83.3" x2="1267.3" y2="83.3" stroke-width="0.55"/>
<line x1="1264.3" y1="87.2" x2="1267.3" y2="87.2" stroke-width="0.55"/>
<line x1="1264.3" y1="91.1" x2="1267.3" y2="91.1" stroke-width="0.55"/>
<line x1="1264.3" y1="95.0" x2="1267.3" y2="95.0" stroke-width="0.55"/>
<line x1="1264.3" y1="99.0" x2="1267.3" y2="99.0" stroke-width="0.55"/>
<line x1="1264.3" y1="102.9" x2="1267.3" y2="102.9" stroke-width="0.55"/>
<line x1="1264.3" y1="106.8" x2="1267.3" y2="106.8" stroke-width="0.55"/>
<line x1="1264.3" y1="110.7" x2="1267.3" y2="110.7" stroke-width="0.55"/>
<line x1="1264.3" y1="114.6" x2="1267.3" y2="114.6" stroke-width="0.55"/>
<line x1="1264.3" y1="122.4" x2="1267.3" y2="122.4" stroke-width="0.55"/>
<line x1="1264.3" y1="126.3" x2="1267.3" y2="126.3" stroke-width="0.55"/>
<line x1="1264.3" y1="130.3" x2="1267.3" y2="130.3" stroke-width="0.55"/>
<line x1="1264.3" y1="134.2" x2="1267.3" y2="134.2" stroke-width="0.55"/>
<line x1="1264.3" y1="138.1" x2="1267.3" y2="138.1" stroke-width="0.55"/>
<line x1="1264.3" y1="142.0" x2="1267.3" y2="142.0" stroke-width="0.55"/>
<line x1="1264.3" y1="145.9" x2="1267.3" y2="145.9" stroke-width="0.55"/>
<line x1="1264.3" y1="149.9" x2="1267.3" y2="149.9" stroke-width="0.55"/>
<line x1="1264.3" y1="153.8" x2="1267.3" y2="153.8" stroke-width="0.55"/>
<line x1="1264.3" y1="161.6" x2="1267.3" y2="161.6" stroke-width="0.55"/>
<line x1="1264.3" y1="165.5" x2="1267.3" y2="165.5" stroke-width="0.55"/>
<line x1="1264.3" y1="169.5" x2="1267.3" y2="169.5" stroke-width="0.55"/>
<line x1="1264.3" y1="173.4" x2="1267.3" y2="173.4" stroke-width="0.55"/>
<line x1="1264.3" y1="177.3" x2="1267.3" y2="177.3" stroke-width="0.55"/>
<line x1="1264.3" y1="181.2" x2="1267.3" y2="181.2" stroke-width="0.55"/>
<line x1="1264.3" y1="185.1" x2="1267.3" y2="185.1" stroke-width="0.55"/>
<line x1="1264.3" y1="189.1" x2="1267.3" y2="189.1" stroke-width="0.55"/>
<line x1="1264.3" y1="193.0" x2="1267.3" y2="193.0" stroke-width="0.55"/>
<line x1="1264.3" y1="200.8" x2="1267.3" y2="200.8" stroke-width="0.55"/>
<line x1="1264.3" y1="204.7" x2="1267.3" y2="204.7" stroke-width="0.55"/>
<line x1="1264.3" y1="208.7" x2="1267.3" y2="208.7" stroke-width="0.55"/>
<line x1="1264.3" y1="212.6" x2="1267.3" y2="212.6" stroke-width="0.55"/>
<line x1="1264.3" y1="216.5" x2="1267.3" y2="216.5" stroke-width="0.55"/>
<line x1="1264.3" y1="220.4" x2="1267.3" y2="220.4" stroke-width="0.55"/>
<line x1="1264.3" y1="224.3" x2="1267.3" y2="224.3" stroke-width="0.55"/>
<line x1="1264.3" y1="228.3" x2="1267.3" y2="228.3" stroke-width="0.55"/>
<line x1="1264.3" y1="232.2" x2="1267.3" y2="232.2" stroke-width="0.55"/>
<line x1="1264.3" y1="240.0" x2="1267.3" y2="240.0" stroke-width="0.55"/>
<line x1="1264.3" y1="243.9" x2="1267.3" y2="243.9" stroke-width="0.55"/>
<line x1="1264.3" y1="247.8" x2="1267.3" y2="247.8" stroke-width="0.55"/>
<line x1="1264.3" y1="251.7" x2="1267.3" y2="251.7" stroke-width="0.55"/>
<line x1="1264.3" y1="255.6" x2="1267.3" y2="255.6" stroke-width="0.55"/>
<line x1="1264.3" y1="259.6" x2="1267.3" y2="259.6" stroke-width="0.55"/>
<line x1="1264.3" y1="263.5" x2="1267.3" y2="263.5" stroke-width="0.55"/>
<line x1="1264.3" y1="267.4" x2="1267.3" y2="267.4" stroke-width="0.55"/>
<line x1="1264.3" y1="271.3" x2="1267.3" y2="271.3" stroke-width="0.55"/>
<line x1="1264.3" y1="279.1" x2="1267.3" y2="279.1" stroke-width="0.55"/>
<line x1="1264.3" y1="283.0" x2="1267.3" y2="283.0" stroke-width="0.55"/>
<line x1="1264.3" y1="286.9" x2="1267.3" y2="286.9" stroke-width="0.55"/>
<line x1="1264.3" y1="290.8" x2="1267.3" y2="290.8" stroke-width="0.55"/>
<line x1="1264.3" y1="294.8" x2="1267.3" y2="294.8" stroke-width="0.55"/>
<line x1="1264.3" y1="298.7" x2="1267.3" y2="298.7" stroke-width="0.55"/>
<line x1="1264.3" y1="302.6" x2="1267.3" y2="302.6" stroke-width="0.55"/>
<line x1="1264.3" y1="306.5" x2="1267.3" y2="306.5" stroke-width="0.55"/>
<line x1="1264.3" y1="310.4" x2="1267.3" y2="310.4" stroke-width="0.55"/>
<line x1="1264.3" y1="318.2" x2="1267.3" y2="318.2" stroke-width="0.55"/>
<line x1="1264.3" y1="322.2" x2="1267.3" y2="322.2" stroke-width="0.55"/>
<line x1="1264.3" y1="326.2" x2="1267.3" y2="326.2" stroke-width="0.55"/>
<line x1="1264.3" y1="330.1" x2="1267.3" y2="330.1" stroke-width="0.55"/>
<line x1="1264.3" y1="334.1" x2="1267.3" y2="334.1" stroke-width="0.55"/>
<line x1="1264.3" y1="338.0" x2="1267.3" y2="338.0" stroke-width="0.55"/>
<line x1="1264.3" y1="341.9" x2="1267.3" y2="341.9" stroke-width="0.55"/>
<line x1="1264.3" y1="345.9" x2="1267.3" y2="345.9" stroke-width="0.55"/>
<line x1="1264.3" y1="349.9" x2="1267.3" y2="349.9" stroke-width="0.55"/>
<line x1="1264.3" y1="357.8" x2="1267.3" y2="357.8" stroke-width="0.55"/>
<line x1="1264.3" y1="361.8" x2="1267.3" y2="361.8" stroke-width="0.55"/>
<line x1="1264.3" y1="365.7" x2="1267.3" y2="365.7" stroke-width="0.55"/>
<line x1="1264.3" y1="369.7" x2="1267.3" y2="369.7" stroke-width="0.55"/>
<line x1="1264.3" y1="373.7" x2="1267.3" y2="373.7" stroke-width="0.55"/>
<line x1="1264.3" y1="377.7" x2="1267.3" y2="377.7" stroke-width="0.55"/>
<line x1="1264.3" y1="381.7" x2="1267.3" y2="381.7" stroke-width="0.55"/>
<line x1="1264.3" y1="385.6" x2="1267.3" y2="385.6" stroke-width="0.55"/>
<line x1="1264.3" y1="389.6" x2="1267.3" y2="389.6" stroke-width="0.55"/>
<line x1="1264.3" y1="75.5" x2="1267.3" y2="75.5" stroke-width="0.55"/>
<line x1="1264.3" y1="71.6" x2="1267.3" y2="71.6" stroke-width="0.55"/>
<line x1="1264.3" y1="67.7" x2="1267.3" y2="67.7" stroke-width="0.55"/>
<line x1="1264.3" y1="397.6" x2="1267.3" y2="397.6" stroke-width="0.55"/>
<line x1="1264.3" y1="401.6" x2="1267.3" y2="401.6" stroke-width="0.55"/>
<line x1="1264.3" y1="405.5" x2="1267.3" y2="405.5" stroke-width="0.55"/>
<line x1="1264.3" y1="409.5" x2="1267.3" y2="409.5" stroke-width="0.55"/>
<line x1="1264.3" y1="413.5" x2="1267.3" y2="413.5" stroke-width="0.55"/>
<line x1="1264.3" y1="417.5" x2="1267.3" y2="417.5" stroke-width="0.55"/>
<line x1="1264.3" y1="421.5" x2="1267.3" y2="421.5" stroke-width="0.55"/>
</g>
<defs>
<clipPath id="cp0"><rect x="2.0" y="65.0" width="310.3" height="366.0"/></clipPath>
<clipPath id="cp1"><rect x="334.8" y="65.3" width="200.4" height="365.9"/></clipPath>
<clipPath id="cp2"><rect x="556.8" y="64.8" width="310.7" height="367.4"/></clipPath>
<clipPath id="cp3"><rect x="889.5" y="64.2" width="310.5" height="358.5"/></clipPath>
<clipPath id="cp4"><rect x="1222.0" y="64.2" width="311.0" height="358.5"/></clipPath>
</defs>
<g class="dl" clip-path="url(#cp0)" text-anchor="end">
<text x="33.1" y="98.7">2450</text>
<text x="33.1" y="138.7">2500</text>
<text x="33.1" y="178.5">2550</text>
<text x="33.1" y="217.4">2600</text>
<text x="33.1" y="257.7">2650</text>
<text x="33.1" y="296.7">2700</text>
<text x="33.1" y="337.0">2750</text>
<text x="33.1" y="376.4">2800</text>
<text x="33.1" y="416.6">2850</text>
<text x="33.6" y="431.3" font-size="12.5">2881</text>
</g>
<g class="dl" clip-path="url(#cp1)" text-anchor="end">
<text x="366.5" y="71.2">2650</text>
<text x="366.5" y="114.3">2700</text>
<text x="366.5" y="157.7">2750</text>
<text x="366.5" y="201.0">2800</text>
<text x="366.5" y="244.3">2850</text>
<text x="366.5" y="287.6">2900</text>
<text x="366.5" y="331.1">2950</text>
<text x="366.5" y="375.3">3000</text>
<text x="366.5" y="418.5">3050</text>
<text x="367.0" y="433.2" font-size="10.6">(3077)</text>
</g>
<g class="dl" clip-path="url(#cp2)" text-anchor="end">
<text x="587.0" y="81.1">2500</text>
<text x="587.0" y="119.6">2550</text>
<text x="587.0" y="157.5">2600</text>
<text x="587.0" y="196.1">2650</text>
<text x="587.0" y="234.5">2700</text>
<text x="587.0" y="272.7">2750</text>
<text x="587.0" y="310.9">2800</text>
<text x="587.0" y="350.7">2850</text>
<text x="587.0" y="387.9">2900</text>
<text x="587.5" y="430.6" font-size="12.5">2966</text>
</g>
<g class="dl" clip-path="url(#cp3)" text-anchor="end">
<text x="920.4" y="91.3">2950</text>
<text x="920.4" y="127.8">3000</text>
<text x="920.4" y="164.3">3050</text>
<text x="920.4" y="200.3">3100</text>
<text x="920.4" y="236.9">3150</text>
<text x="920.4" y="273.4">3200</text>
<text x="920.4" y="309.9">3250</text>
<text x="920.4" y="346.5">3300</text>
<text x="920.4" y="383.0">3350</text>
<text x="920.4" y="428.2">3400</text>
</g>
<g class="dl" clip-path="url(#cp4)" text-anchor="end">
<text x="1253.9" y="85.1">2950</text>
<text x="1253.9" y="124.2">3000</text>
<text x="1253.9" y="163.4">3050</text>
<text x="1253.9" y="202.6">3100</text>
<text x="1253.9" y="241.8">3150</text>
<text x="1253.9" y="280.9">3200</text>
<text x="1253.9" y="320.0">3250</text>
<text x="1253.9" y="359.5">3300</text>
<text x="1253.9" y="399.3">3350</text>
</g>
<g id="gr">
<polyline points="145.2,66.0 148.0,66.5 145.3,67.1 147.3,67.6 145.5,68.2 144.6,68.7 151.4,69.3 153.6,69.8 158.8,70.4 154.4,70.9 153.3,71.5 153.1,72.0 153.4,72.6 153.0,73.0 155.3,73.5 161.1,74.1 164.0,74.6 168.3,75.0 179.7,75.5 171.9,76.1 167.7,76.6 169.1,77.2 167.4,77.7 162.4,78.3 170.5,78.8 164.9,79.4 167.6,79.9 162.9,80.5 167.4,81.0 166.6,81.6 161.1,82.0 155.1,82.5 149.2,83.1 143.1,83.6 136.7,84.0 135.3,84.5 137.0,85.1 139.7,85.6 139.5,86.2 139.3,86.7 141.4,87.3 138.2,87.8 137.7,88.4 139.0,88.9 142.5,89.5 142.9,90.0 139.9,90.6 136.3,91.1 138.5,91.7 138.8,92.2 136.0,92.8 156.7,93.0 143.9,93.5 145.1,94.1 159.4,94.6 149.6,95.2 151.6,95.7 140.0,96.3 155.5,96.8 149.6,97.4 167.1,97.9 162.1,98.5 156.8,99.0 166.3,99.6 173.1,100.1 159.0,100.7 164.2,101.2 156.4,101.8 174.1,102.3 173.6,102.9 164.8,103.4 163.3,104.0 163.3,104.5 154.8,105.1 150.1,105.6 136.7,106.0 136.8,106.5 137.3,107.1 137.1,107.6 137.0,108.2 135.8,108.7 135.6,109.3 136.7,109.8 133.9,110.4 134.4,110.9 139.9,111.5 135.6,112.0 139.8,112.6 137.8,113.1 137.2,113.7 141.7,114.2 142.3,114.8 140.7,115.3 138.2,115.9 143.2,116.4 138.7,117.0 139.5,117.5 141.0,118.1 145.0,118.6 149.1,119.2 141.9,119.7 145.5,120.3 146.6,120.8 140.4,121.0 140.3,121.5 159.5,122.1 158.3,122.6 130.8,123.2 143.4,123.7 128.7,124.3 145.6,124.8 156.1,125.4 148.6,125.9 148.5,126.5 156.2,127.0 143.0,127.6 149.1,128.1 154.0,128.7 151.7,129.2 148.9,129.8 157.9,130.4 166.9,130.9 160.0,131.5 165.1,132.0 158.1,132.6 143.1,133.1 135.6,133.7 152.0,134.2 163.1,134.8 156.8,135.3 152.0,135.9 137.9,136.0 134.4,136.6 133.1,137.1 135.1,137.7 134.6,138.2 136.0,138.8 136.5,139.3 133.5,139.9 156.3,140.0 159.2,140.6 147.3,141.1 145.5,141.7 132.1,142.2 149.8,142.8 167.5,143.3 137.6,143.9 143.3,144.4 158.0,145.0 139.8,145.5 151.6,146.1 175.8,146.6 154.6,147.2 145.7,147.7 152.3,148.3 154.4,148.8 158.2,149.4 140.5,149.9 152.0,150.5 149.6,151.0 146.9,151.6 163.7,152.1 159.7,152.7 143.3,153.2 160.2,153.8 137.4,154.3 159.0,154.9 150.8,155.4 141.2,156.0 161.3,156.5 148.8,157.1 154.8,157.6 141.8,158.2 160.0,158.7 158.2,159.3 159.6,159.8 139.0,160.0 134.0,160.6 141.0,161.1 139.6,161.7 142.2,162.2 157.1,162.8 142.6,163.3 143.3,163.9 149.6,164.4 139.5,165.0 138.3,165.5 141.1,166.1 144.6,166.6 137.9,167.2 141.8,167.7 137.4,168.3 135.8,168.8 133.7,169.4 133.9,169.9 141.2,170.5 133.5,171.0 140.4,171.6 139.2,172.1 141.7,172.7 142.6,173.2 146.4,173.8 145.9,174.3 144.5,174.9 152.9,175.4 146.5,176.0 143.9,176.5 141.0,177.1 135.2,177.6 146.5,178.2 140.4,178.7 135.8,179.3 138.5,179.8 141.7,180.4 147.1,180.9 143.4,181.5 141.9,182.0 141.1,182.6 137.4,183.1 144.5,183.7 136.7,184.2 132.8,184.8 137.8,185.3 136.0,185.9 138.4,186.4 139.7,187.0 138.2,187.5 133.0,188.1 134.7,188.6 136.2,189.2 138.7,189.7 147.5,190.3 143.9,190.8 138.1,191.4 137.6,191.9 142.4,192.0 145.8,192.6 147.7,193.1 151.9,193.7 153.0,194.2 155.0,194.8 160.6,195.3 158.4,195.9" fill="none" stroke="#000" stroke-width="0.94" stroke-linejoin="round"/>
<polyline points="123.4,198.0 148.2,198.6 136.4,199.1 141.9,199.7 135.8,200.2 142.3,200.8 156.5,201.3 149.3,201.9 160.0,202.4 161.3,203.0 169.9,203.5 180.7,204.0 198.3,204.6 159.4,205.1 164.1,205.7 190.0,206.2 171.5,206.8 179.5,207.3 152.5,207.9 161.5,208.4 131.6,209.0 152.0,209.5 150.4,210.1 164.7,210.6 150.7,211.2 168.1,211.7 179.7,212.3 164.4,212.8 161.1,213.4 169.8,213.9 177.1,214.0 155.4,214.6 157.8,215.1 149.4,215.7 109.2,216.2 142.9,216.8 155.6,217.3 182.6,217.9 129.4,218.4 175.2,219.0 147.2,219.5 116.1,220.1 150.4,220.6 145.1,221.2 122.7,221.7 135.0,222.3 136.6,222.8 180.3,223.4 192.3,223.9 136.5,224.5 145.7,225.0 137.8,225.6 179.8,226.1 138.7,226.7 151.4,227.2 119.2,227.8 115.9,228.3 120.8,228.9 144.1,229.4 127.7,230.0 130.5,230.5 134.1,231.1 135.6,231.6 144.4,232.2 111.5,232.7 120.9,233.0 113.0,233.6 116.7,234.1 110.9,234.7 112.8,235.2 113.7,235.8 111.9,236.3 112.5,236.9 128.4,237.4 122.7,238.0 114.3,238.5 114.3,239.1 115.3,239.6 115.4,240.2 114.4,240.7 117.5,241.3 118.0,241.8 119.6,242.4 122.7,242.9 114.9,243.5 118.1,244.0 114.0,244.6 114.0,245.1 122.4,245.7 116.1,246.0 125.2,246.6 119.2,247.1 133.6,247.7 125.7,248.2 125.2,248.8 119.8,249.3 156.1,249.9 142.6,250.4 126.8,251.0 120.5,251.5 114.2,252.1 132.7,252.6 133.4,253.2 133.5,253.7 128.0,254.3 132.3,254.8 127.9,255.4 156.2,255.9 125.1,256.5 130.0,257.0 137.9,257.6 131.0,258.1 118.7,258.7 175.6,259.2 143.7,259.8 122.3,260.3 154.2,260.9 137.2,261.4 126.7,262.0 130.0,262.5 133.4,263.1 131.8,263.6 115.5,264.2 121.1,264.7 118.5,265.3 117.4,265.8 115.8,266.4 166.9,266.9 120.6,267.5 117.0,268.0 106.8,268.6 113.3,269.1 127.1,269.7 154.6,270.2 153.3,270.8 123.6,271.3 126.6,271.9 140.5,272.4 122.0,273.0 127.7,273.5 124.5,274.1 126.2,274.6 134.3,275.2 157.4,275.7 109.5,276.3 110.2,276.8 146.2,277.4 131.2,277.9 146.9,278.5 129.6,279.0 128.6,279.6 113.0,280.1 134.1,280.7 120.8,281.2 114.0,281.8 121.6,282.3 137.6,282.9 118.5,283.4 161.4,284.0 125.7,284.5 112.7,285.1 117.5,285.6 118.5,286.2 126.9,286.7 139.6,287.3 116.6,287.8 123.2,288.4 164.7,288.9 114.8,289.5 128.7,290.0 120.5,290.6 143.9,291.1 132.9,291.7 120.6,292.2 147.9,292.8 127.8,293.3 112.5,293.9 102.2,294.4 120.0,295.0 114.4,295.5" fill="none" stroke="#000" stroke-width="0.86" stroke-linejoin="round"/>
<polyline points="99.3,301.0 99.7,301.6 99.5,302.1 99.5,302.7 99.3,303.2 98.9,303.8 98.8,304.3 99.0,304.9 99.1,305.4 98.9,306.0 98.9,306.5 98.2,307.1 98.8,307.6 98.4,308.2 97.8,308.7 97.9,309.3 97.7,309.8 98.1,310.4 98.2,310.9 97.5,311.5 97.1,312.0 97.2,312.6 97.1,313.1 97.4,313.7 97.4,314.2 97.7,314.8 97.8,315.3 97.8,315.9 108.1,316.0 100.7,316.6 99.3,317.1 102.4,317.7 103.3,318.2 105.2,318.8 103.3,319.3 106.7,319.9 103.8,320.4 106.2,321.0 105.3,321.5 108.3,322.1 107.4,322.6 106.2,323.2 106.1,323.7 107.4,324.3 107.1,324.8 108.2,325.4 110.4,325.9 108.1,326.5 111.2,327.0 122.0,327.6 111.6,328.1 111.4,328.7 114.7,329.2 113.1,329.8 114.5,330.3 113.9,330.9 112.2,331.4 113.3,332.0 115.9,332.5 115.8,333.1 115.5,333.6 118.0,334.2 115.8,334.7 120.1,335.0 129.8,335.6 139.8,336.1 147.0,336.5 131.0,337.1 114.5,337.6 98.1,338.0 98.1,338.6 98.4,339.1 98.5,339.7 98.4,340.2 98.3,340.8 98.7,341.3 98.4,341.9 98.8,342.4 99.1,343.0 99.0,343.5 98.6,344.1 99.2,344.6 99.3,345.2 99.1,345.7 98.7,346.3 98.8,346.8 98.9,347.4 99.4,347.9 98.5,348.5 98.6,349.0 98.3,349.6 98.2,350.1 98.8,350.7 99.2,351.2 98.9,351.8 99.8,352.3 99.6,352.9 99.5,353.4 99.2,354.0 98.6,354.5 98.5,355.1 99.0,355.6" fill="none" stroke="#000" stroke-width="0.86" stroke-linejoin="round"/>
<polyline points="121.8,361.0 130.8,361.6 138.5,362.1 147.8,362.7 109.9,363.0 118.3,363.6 115.3,364.1 114.1,364.7 110.7,365.2 121.7,365.8 120.9,366.3 107.3,366.9 111.4,367.4 110.7,368.0 113.7,368.5 108.6,369.1 106.6,369.6 104.6,370.2 107.0,370.7 113.9,371.0 114.4,371.6 117.2,372.1 112.0,372.7 126.6,373.2 114.3,373.8 137.9,374.3 108.6,374.9 113.8,375.4 110.0,376.0 122.2,376.5 115.1,377.1 129.3,377.6 118.0,378.2 112.5,378.7 105.8,379.3 105.3,379.8 109.9,380.4 117.2,380.9 105.6,381.0 103.7,381.6 103.8,382.1 102.3,382.7 102.4,383.2 103.1,383.8 103.9,384.3 104.1,384.9 107.3,385.4 101.6,386.0 100.7,386.5 101.2,387.1 104.6,387.6 104.1,388.2 101.8,388.7 99.9,389.3 105.6,389.8 102.9,390.4 107.2,390.9 106.7,391.5 104.0,392.0 104.9,392.6 105.0,393.1 104.2,393.7 106.0,394.2 105.0,394.8 103.1,395.3 104.7,395.9 105.3,396.4 106.1,397.0 106.9,397.5 104.2,398.0 103.0,398.6 104.9,399.1 106.2,399.7 97.9,400.2 110.9,400.8 99.2,401.3 112.7,401.9 113.6,402.4 114.7,403.0 114.0,403.5 108.4,404.1 112.2,404.6 111.9,405.2 106.6,405.7 114.0,406.3 116.3,406.8 108.9,407.4 117.8,407.9 108.2,408.5 106.8,409.0 127.6,409.6 118.8,410.1 110.0,410.7 101.2,411.2 113.7,411.8 105.1,412.3 112.8,412.9 106.1,419.0 119.1,419.6 112.7,420.1 123.0,420.7 128.2,421.2 124.5,421.8 125.7,422.3 113.7,422.9 108.9,423.4 112.5,424.0 119.1,424.5 118.0,425.1 115.9,425.6 113.7,426.2 124.5,426.7 118.2,427.3 126.6,427.8 144.0,428.4 126.8,428.9 120.9,429.5" fill="none" stroke="#000" stroke-width="0.86" stroke-linejoin="round"/>
<polyline points="702.5,65.0 702.1,65.5 703.4,66.1 704.5,66.6 707.4,67.2 712.6,67.7 705.6,68.3 714.2,68.8 715.4,69.4 706.3,69.9 712.3,70.0 710.6,70.5 714.2,71.1 711.6,71.6 705.2,72.2 707.4,72.7 706.6,73.3 704.5,73.8 703.0,74.4 706.7,74.9 715.2,75.5 703.6,76.0 696.5,76.5 689.9,77.1 687.1,77.6 681.1,78.2 674.6,78.7 675.5,79.0 677.5,79.5 680.5,80.1 680.1,80.6 679.6,81.2 679.6,81.7 678.6,82.3 675.7,82.8 677.7,83.4 681.3,83.9 682.2,84.5 679.0,85.0 680.8,85.6 677.0,86.1 677.8,86.7 678.0,87.2 678.4,87.8 675.2,88.0 681.6,88.5 685.3,89.1 690.9,89.6 696.5,90.0 702.5,90.5 709.6,91.1 698.5,91.6 697.7,92.2 698.5,92.7 701.5,93.3 695.3,93.8 698.2,94.4 699.9,94.9 698.3,95.5 702.3,96.0 704.3,96.6 708.6,97.1 704.7,97.7 706.1,98.2 704.8,98.8 703.9,99.3 707.6,99.9 687.8,100.0 689.8,100.5 692.3,101.1 692.0,101.6 693.3,102.2 697.2,102.7 689.7,103.3 698.8,103.8 698.4,104.4 701.7,104.9 699.6,105.5 705.5,106.0 701.2,106.5 703.8,107.1 703.6,107.6 703.3,108.2 705.4,108.7 695.9,109.3 701.8,109.8 695.7,110.4 694.5,110.9 689.7,111.5 682.7,112.0 690.8,112.5 696.5,113.1 696.2,113.6 713.3,114.0 715.1,114.5 712.6,115.1 711.3,115.6 711.6,116.2 718.8,116.7 715.5,117.3 712.0,117.8 711.7,118.4 710.2,118.9 714.9,119.5 710.1,120.0 710.2,120.6 712.0,121.1 709.1,121.7 705.9,122.2 704.8,122.8 701.4,123.3 708.3,123.9 700.3,124.0 698.7,124.5 697.2,125.1 699.4,125.6 695.9,126.2 691.7,126.7 691.5,127.3 694.1,127.8 695.5,128.0 679.3,128.6 665.2,129.0 666.1,129.6 665.8,130.1 666.7,130.7 668.1,131.2 670.1,131.8 674.4,132.0 691.3,132.6 697.4,133.0 696.9,133.6 709.2,134.1 694.1,134.7 694.6,135.2 721.2,135.8 705.7,136.3 691.1,136.9 695.4,137.4 704.6,138.0 701.0,138.5 689.6,139.1 690.5,139.6 684.6,140.2 683.7,140.7 689.5,141.3 681.5,141.8 688.4,142.4 705.3,142.9 686.4,143.5 688.9,144.0 684.2,144.6 693.4,145.1 709.1,145.7 690.9,146.2 694.0,146.8 681.7,147.3 700.8,147.9 691.1,148.4 713.5,149.0 691.3,149.5 674.4,150.0 677.5,150.6 675.4,151.1 675.7,151.7 675.9,152.2 678.1,152.8 675.5,153.3 678.4,153.9 679.3,154.4 678.3,155.0 681.4,155.5 682.3,156.1 680.4,156.6 680.5,157.2 679.4,157.7 676.8,158.3 680.1,158.8 678.9,159.4 677.9,159.9 698.4,160.0 690.2,160.6 700.7,161.1 690.9,161.7 698.0,162.2 690.1,162.8 696.1,163.3 700.6,163.9 692.4,164.4 689.2,165.0 686.9,165.5 697.5,166.1 687.6,166.6 691.7,167.2 700.6,167.7 700.6,168.3 704.0,168.8 701.3,169.4 696.5,169.9 710.9,170.0 710.1,170.6 721.0,171.1 713.1,171.7 711.5,172.2 716.6,172.8 708.8,173.3 721.3,173.9 709.1,174.4 721.8,175.0 718.3,175.5 722.5,176.1 722.1,176.6 712.5,177.2 712.5,177.7 711.1,178.3 707.6,178.8 707.7,179.4 722.1,179.9 719.5,180.5 722.6,181.0 712.2,181.6 712.6,182.1 717.0,182.7 728.6,183.2 722.1,183.8 724.0,184.3 720.1,184.9 722.1,185.4 725.0,186.0 725.9,186.5 723.8,187.1 721.7,187.6 712.1,188.2 715.7,188.7 717.9,189.3 717.2,189.8 730.3,190.6 730.3,220.2 664.8,220.2" fill="none" stroke="#000" stroke-width="0.94" stroke-linejoin="round"/>
<polyline points="666.9,220.5 669.7,221.1 671.8,221.6 666.0,222.2 674.5,222.7 685.7,223.3 688.1,223.8 669.4,224.0 659.3,224.6 699.0,225.1 696.5,225.7 697.6,226.2 669.2,226.8 673.6,227.3 676.9,227.9 681.5,228.4 663.7,229.0 684.4,229.5 674.3,230.1 700.7,230.6 661.6,231.2 671.5,231.7 673.3,232.3 692.4,232.8 702.7,233.4 672.6,233.9 666.3,234.5 657.3,235.0 674.9,235.6 666.0,236.1 671.9,236.7 710.9,237.2 667.0,237.8 681.1,238.3 696.9,238.9 679.7,239.4 670.9,240.0 665.7,240.5 685.5,241.1 708.5,241.6 671.6,242.2 674.1,242.7 675.2,243.3 682.9,243.8 678.9,244.4 702.5,244.9 711.2,245.5 666.0,246.0 682.9,246.6 666.5,247.1 695.1,247.7 677.0,248.2 709.3,248.8 693.3,249.3 677.9,249.9 669.0,250.4 672.4,251.0 670.6,251.5 694.2,252.1 710.0,252.6 671.6,253.2 724.2,253.7 673.7,254.3 680.4,254.8 717.8,255.4 678.7,255.9 669.4,256.5 677.6,257.0 709.1,257.6 675.0,258.1 707.0,258.7 669.8,259.2 688.7,259.8 667.9,260.3 671.3,260.9 671.3,261.4 727.6,262.0 706.1,262.5 672.1,263.1 674.9,263.6 686.8,264.2 683.5,264.7 673.4,265.3 673.1,265.8 667.3,266.4 708.4,266.9 669.7,267.5 681.3,268.0 666.4,268.6 671.6,269.1 676.4,269.7 677.1,270.2 665.6,270.8 677.8,271.3 690.0,271.9 672.1,272.4 669.4,273.0" fill="none" stroke="#000" stroke-width="0.86" stroke-linejoin="round"/>
<polyline points="656.8,281.0 656.8,281.6 656.3,282.1 655.6,282.7 656.0,283.2 655.9,283.8 655.8,284.3 656.4,284.9 656.6,285.4 659.0,286.0 656.6,286.5 657.8,287.1 656.0,287.6 656.7,288.2 656.9,288.7 657.2,289.3 658.6,289.8 656.5,290.0 659.3,290.6 658.0,291.1 662.2,291.7 660.3,292.2 659.0,292.8 660.1,293.3 661.1,293.9 661.3,294.4 662.5,295.0 661.6,295.5 662.8,296.1 663.6,296.6 663.2,297.2 662.9,297.7 665.4,298.3 667.0,298.8 667.0,299.4 668.3,299.9 667.0,300.0 673.1,300.6 669.2,301.1 670.7,301.7 672.6,302.2 675.6,302.8 677.4,303.3 679.5,303.9 680.9,304.4 683.5,305.0 683.7,305.5 684.7,306.1 690.4,306.6 688.1,307.0 685.9,307.6 676.6,308.1 667.5,308.7 663.6,309.2 658.9,309.8 657.5,310.0 656.4,310.6 656.7,311.1 660.4,311.7 660.5,312.2 665.6,312.8 661.2,313.3 659.3,313.9 664.2,314.4 660.0,315.0 657.2,315.5 657.1,316.1 661.0,316.6 663.2,317.2 670.3,317.7 661.3,318.3 661.0,318.8 662.1,319.4 660.4,319.9 666.1,320.5 662.8,321.0 662.1,321.6 665.1,322.0 668.0,322.6 674.1,323.1 680.0,323.7 684.7,324.2 688.2,324.8 692.9,325.0 680.5,325.6 670.6,326.1 660.4,326.7 650.8,327.0 651.5,327.6 651.8,328.1 651.1,328.7 651.5,329.2 651.3,329.8 650.7,330.3 650.9,330.9 650.7,331.4 651.0,332.0 651.5,332.5 651.1,333.1 651.5,333.6 651.3,334.2 651.6,334.7 650.9,335.3 651.0,335.8 651.0,336.4 651.1,336.9 650.7,337.5 651.0,338.0 650.9,338.6" fill="none" stroke="#000" stroke-width="0.86" stroke-linejoin="round"/>
<polyline points="670.2,345.0 672.1,345.6 675.7,346.1 671.7,346.7 671.9,347.2 681.0,347.8 677.1,348.3 679.4,348.9 671.3,349.4 675.1,350.0 675.7,350.5 669.4,351.1 668.2,351.6 658.6,352.0 656.2,352.6 657.7,353.1 661.8,353.7 659.2,354.2 662.5,354.8 666.1,355.3 667.5,355.9 672.0,356.0 675.9,356.6 676.1,357.1 684.2,357.7 678.0,358.2 688.4,358.8 683.1,359.3 681.4,359.9 684.4,360.4 679.1,361.0 683.0,361.5 683.5,362.1 686.2,362.6 686.0,363.2 689.1,363.7 688.4,364.3 695.1,364.8 682.9,365.0 685.6,365.6 683.9,366.1 684.3,366.7 677.3,367.2 673.8,367.8 664.9,368.3 675.6,368.9 674.3,369.4 675.7,370.0 676.0,370.5 671.5,371.1 675.7,371.6 678.3,372.0 673.7,372.6 675.4,373.1 679.8,373.7 679.6,374.2 682.1,374.8 679.5,375.3 689.4,375.9 655.3,376.0 657.7,376.6 655.4,377.1 653.9,377.7 655.4,378.2 657.9,378.8 656.7,379.3 659.2,379.9 669.3,380.0 665.4,380.6 679.9,381.1 670.5,381.7 669.0,382.2 682.1,382.8 688.0,383.3 682.6,383.9 684.8,384.4 685.5,385.0 686.9,385.5 655.5,386.0 655.3,386.6 657.9,387.1 658.5,387.7 657.8,388.2 656.9,388.8 656.2,389.3 654.9,389.9 659.5,390.4 660.6,391.0 660.5,391.5 663.3,392.1 659.9,392.6 658.6,393.2 656.2,393.7 658.1,394.3 661.8,394.8 665.0,395.4 659.9,395.9 654.1,396.5 664.5,397.0 660.8,397.6 659.2,398.1 665.0,398.7 666.1,399.2 665.1,399.8 659.3,400.0 666.1,400.6 668.8,401.1 669.5,401.7 667.9,402.2 670.1,402.8 670.1,403.3 669.7,403.9 666.8,404.4 665.6,405.0 671.3,405.5 668.7,406.1 668.5,406.6 670.8,407.2 669.1,407.7 663.8,408.3 668.1,408.8 667.5,409.4 672.9,409.9 668.6,410.5 677.9,411.0 679.2,411.6 665.4,412.1 672.7,412.7 648.0,419.5 647.8,420.1 647.9,420.6 647.7,421.2 648.1,421.7 649.6,422.3 649.2,422.8 648.2,423.4 649.8,423.9 647.8,424.5 647.0,425.0 649.0,425.6 647.5,426.1 648.3,426.7 647.8,427.2 648.2,427.8 648.7,428.3 650.0,428.9 651.2,429.4 649.4,430.0 648.3,430.5" fill="none" stroke="#000" stroke-width="0.86" stroke-linejoin="round"/>
<polyline points="1042.0,65.0 1043.5,65.3 1034.6,65.7 1030.9,66.0 1042.9,66.3 1032.8,66.6 1037.1,67.0 1046.9,67.3 1037.9,67.6 1035.8,68.0 1039.5,68.3 1034.7,68.6 1052.1,69.0 1045.3,69.3 1037.9,69.6 1044.2,69.9 1043.0,70.3 1048.5,70.6 1043.7,70.9 1044.7,71.3 1038.7,71.6 1041.2,71.9 1042.5,72.3 1037.9,72.6 1031.0,72.9 1042.9,73.2 1047.9,73.6 1041.4,73.9 1052.8,74.2 1044.4,74.6 1033.3,74.9 1028.1,75.2 1041.9,75.6 1030.0,75.9 1040.3,76.2 1024.5,76.5 1040.8,76.9 1036.3,77.2 1033.6,77.5 1042.0,77.9 1035.7,78.2 1040.5,78.5 1041.0,78.9 1044.6,79.2 1049.3,79.5 1041.8,79.8 1051.9,80.2 1051.8,80.5 1033.1,80.8 1035.2,81.2 1038.0,81.5 1036.5,81.8 1033.4,82.2 1037.1,82.5 1029.1,82.8 1036.3,83.1 1032.5,83.5 1026.1,83.8 1042.7,84.1 1046.8,84.5 1041.6,84.8 1034.9,85.1 1039.9,85.5 1030.0,85.8 1033.7,86.1 1035.1,86.4 1043.1,86.8 1041.0,87.1 1047.5,87.4 1042.1,87.8 1047.1,88.1 1040.2,88.4 1044.0,88.8 1040.1,89.1 1035.1,89.4 1042.1,89.7 1051.2,90.1 1040.7,90.4 1028.7,90.7 1039.4,91.1 1044.0,91.4 1031.3,91.7 1037.5,92.1 1040.3,92.4 1043.6,92.7 1041.8,93.0 1038.2,93.4 1038.6,93.7 1045.8,94.0 1038.5,94.4 1038.4,94.7 1035.6,95.0 1043.8,95.4 1046.7,95.7 1044.1,96.0 1034.4,96.3 1046.9,96.7 1049.5,97.0 1037.1,97.3 1049.6,97.7 1031.8,98.0 1040.7,98.3 1042.7,98.7 1034.6,99.0 1033.3,99.3 1037.7,99.6 1036.5,100.0 1045.8,100.3 1042.0,100.6 1029.8,101.0" fill="none" stroke="#000" stroke-width="1.01" stroke-linejoin="round"/>
<polyline points="1017.3,107.0 1018.4,107.5 1019.8,108.1 1021.0,108.6 1022.0,109.2 1023.4,109.7 1025.3,110.3 1025.0,110.8 1027.1,111.4 1034.3,111.9 1059.8,112.0 1068.1,112.5 1028.0,113.1 1009.5,113.6 1011.0,114.2 1031.4,114.7 1022.2,115.3 1008.3,115.8 1008.0,116.4 1049.9,116.9 1052.9,117.5 1020.7,118.0 1036.0,118.6 1025.5,119.1 1030.0,119.7 1018.1,120.2 1022.6,120.8 1041.8,121.3 1009.5,121.9 1015.0,122.4 1043.5,123.0 1020.5,123.5 1027.8,124.1 1016.0,124.6 1033.7,125.2 1036.4,125.7 1012.9,126.3 1016.9,126.8 1014.5,127.4 1023.9,127.9 1044.6,128.5 1008.2,129.0 1014.1,129.6 1040.8,130.1 1056.8,130.7 1019.1,131.2 1020.9,131.8 1014.2,132.3 995.3,132.9 1036.4,133.5 1019.5,134.0 1024.7,134.6 1013.4,135.1 1027.8,135.7 1033.3,136.2 1039.2,136.8 1041.1,137.3 1023.3,137.9 1017.4,138.4 1021.2,139.0 1054.3,139.5 1020.5,140.1 1027.3,140.6 1034.7,141.2 1017.7,141.7 1003.6,142.3 1045.8,142.8 1033.9,143.4 1042.1,143.9 1016.9,144.5 1058.5,145.0 1026.9,145.6 1067.4,146.1 1034.9,146.7 1001.0,147.2 1047.0,147.8 1022.2,148.3 1000.9,148.9 1017.6,149.4 1050.3,150.0 1024.7,150.0 1027.1,150.6 1006.7,151.1 1020.8,151.7 1007.6,152.2 1006.8,152.8 1020.5,153.3 1019.3,153.9 1007.4,154.4 1012.5,155.0 1033.7,155.5 1000.9,156.1 1024.8,156.6 1004.3,157.2 1009.1,157.7 1011.1,158.3 1013.4,158.8 999.1,159.4 1027.5,159.9 1011.1,160.5 1040.4,161.0 1021.1,161.6 1002.6,162.1 999.2,162.7 1020.4,163.2 1000.9,163.8 1002.7,164.3 1000.8,164.9 1015.6,165.0 1013.3,165.6 1043.1,166.1 1020.9,166.7 1005.6,167.2 1014.3,167.8 1018.7,168.3 1041.9,168.9 1011.5,169.4 1003.7,170.0 1039.4,170.5 1003.0,171.1 1004.9,171.6 1053.7,172.2 994.0,172.7 1020.4,173.3 1036.2,173.8 1022.1,174.4 997.0,174.9 1006.6,175.5 1005.6,176.0 994.3,176.6 1033.9,177.1 1007.6,177.7 1008.2,178.2 1018.7,178.8 1005.1,179.3 1008.5,179.9 998.3,180.0 1003.2,180.6 999.2,181.1 1000.2,181.7 1000.0,182.2 1003.7,182.8 999.9,183.3 1000.1,183.9 1004.3,184.4 1002.9,185.0 1000.5,185.5 999.8,186.1 1009.4,186.6 1004.2,187.2 1004.1,187.7" fill="none" stroke="#000" stroke-width="0.86" stroke-linejoin="round"/>
<polyline points="1003.2,193.0 1001.6,193.6 998.9,194.1 996.2,194.7 996.9,195.2 995.6,195.8 992.7,196.3 991.7,196.9 992.1,197.4 989.1,198.0 987.3,198.5 986.9,199.1 984.8,199.6 993.0,200.0 987.2,200.6 986.6,201.1 987.7,201.7 987.7,202.2 986.6,202.8 987.2,203.3 987.3,203.9 986.5,204.4 987.0,205.0 987.3,205.5 986.0,206.1 985.8,206.6 986.2,207.2 985.8,207.7 985.8,208.3 988.8,208.8 987.2,209.4 986.5,209.9 986.9,210.5 986.9,211.0 987.0,211.6 990.5,212.0 995.4,212.6 997.3,213.1 999.5,213.7 999.5,214.2 1003.2,214.8 1008.8,215.3 1011.3,215.9 1012.8,216.4 1016.8,217.0 1020.1,217.5 1022.5,218.1 1027.4,218.6 1027.8,219.0 1020.3,219.6 1014.2,220.1 1007.9,220.7 1001.9,221.2 993.5,221.8 994.2,222.0 997.0,222.6 1005.2,223.1 1002.0,223.7 1002.8,224.2 1007.0,224.8 1004.9,225.3 1006.9,225.9 1012.3,226.0 1017.7,226.6 1020.3,227.1 1024.0,227.7 1026.9,228.0 1014.7,228.6 1004.5,229.1 992.8,229.7 983.5,230.0 983.6,230.6 983.6,231.1 983.9,231.7 984.0,232.2 983.8,232.8 984.4,233.3 984.6,233.9 985.4,234.4 985.5,235.0 985.1,235.5 989.5,236.0 994.0,236.6 1002.4,237.1 1007.0,237.7 1013.6,238.2 1019.3,238.8 1024.8,239.0 1017.5,239.6 1012.5,240.1 1008.9,240.7 1005.3,241.2 1004.1,241.8 1000.1,242.3 998.4,242.9 987.0,243.0 988.4,243.6 987.2,244.1 988.0,244.7 987.0,245.2 987.9,245.8 989.5,246.3 988.8,246.9 991.1,247.4 991.2,248.0 992.7,248.5 991.7,249.1 989.9,249.6 989.9,250.2 990.5,250.7 989.3,251.3 989.4,251.8 989.6,252.4 988.7,252.9 992.9,253.0 997.7,253.6 999.9,254.1 1004.5,254.7 1006.6,255.2 1011.5,255.8 1016.1,256.3 1021.4,256.9 1021.9,257.4 1026.8,258.0 1025.3,258.0 1025.7,258.6 1026.1,259.1 1027.7,259.7 1023.9,260.2 1030.6,260.8 1019.1,261.3 1028.0,261.9 1027.2,262.4 1023.7,263.0 1018.5,263.5 1019.5,264.1 1021.0,264.6 1017.6,265.2 1016.2,265.7 1012.3,266.0 1006.9,266.6 1002.6,267.1 998.2,267.7 993.9,268.2 989.5,268.8 987.3,269.0 987.1,269.6 986.3,270.1 986.5,270.7 986.4,271.2 987.1,271.8 990.9,272.3 986.4,272.9 988.1,273.4 986.2,274.0 985.4,274.5 985.8,275.1 984.7,275.6 984.7,276.2 984.4,276.7 985.6,277.3 985.4,277.8 985.4,278.4 985.2,278.9 985.0,279.5 985.4,280.0 985.1,280.6 985.5,281.1 985.7,281.7 985.1,282.2 985.3,282.8" fill="none" stroke="#000" stroke-width="0.92" stroke-linejoin="round"/>
<polyline points="988.4,289.0 1002.1,289.6 1014.1,290.1 1026.4,290.7 998.9,291.0 999.5,291.6 996.4,292.1 997.5,292.7 999.5,293.2 998.5,293.8 997.0,294.3 995.7,294.9 991.6,295.4 991.0,296.0 1001.8,296.0 1009.0,296.6 998.9,297.1 1001.1,297.7 996.6,298.2 999.1,298.8 1007.5,299.3 1003.9,299.9 1004.8,300.4 1005.0,301.0 1004.3,301.5 1012.4,302.0 1018.2,302.6 1024.0,303.1 1028.2,303.7 996.5,304.0 999.0,304.6 1002.3,305.1 998.2,305.7 998.8,306.2 1000.4,306.8 1003.0,307.3 999.1,307.9 1008.0,308.4 1004.8,309.0 1003.0,309.5 1005.9,310.0 1010.4,310.6 1014.1,311.1 1019.8,311.7 988.7,312.0 988.8,312.6 989.7,313.1 989.6,313.7 989.0,314.2 988.5,314.8 988.0,315.3 988.3,315.9 987.8,316.4 987.4,317.0 988.6,317.5 987.4,318.1 985.9,318.6 985.8,319.2 986.4,319.7 986.4,320.3 987.5,320.8 986.1,321.4 986.9,321.9 1003.3,322.0 996.4,322.6 992.8,323.1 1002.2,323.7 998.6,324.2 1000.3,324.8 1003.0,325.3 1001.7,325.9 1008.2,326.4 1004.3,327.0 1004.9,327.5 1003.0,328.1 1004.7,328.6 1002.2,329.2 999.8,329.7 1001.6,330.3 1012.4,330.8 1011.9,331.4 1007.4,331.9 1008.3,332.5 1006.7,333.0 1011.3,333.6 985.5,334.0 988.0,334.6 989.6,335.1 988.7,335.7 988.2,336.2 990.7,336.8 989.1,337.3 991.5,337.9 989.6,338.4 991.1,339.0 990.0,339.5 995.7,340.0 1008.3,340.6 1009.3,341.1 1007.4,341.7 1007.3,342.2 1002.5,342.8 998.3,343.3 996.6,343.9 1001.1,344.4 1004.0,345.0 998.9,345.5 1000.3,346.1 998.1,346.6 1002.5,347.2 1005.8,347.7 1005.0,348.3 1003.6,348.8 1004.6,349.4 1000.2,349.9 1001.6,350.5 1001.8,351.0 1003.3,351.6 990.2,352.0 991.3,352.6 998.2,353.1 992.4,353.7 991.1,354.2 990.3,354.8 989.1,355.3 988.5,355.9 986.9,356.4 991.0,357.0 994.2,357.5 989.6,358.1 986.3,358.6 987.7,359.2 988.5,359.7 989.9,360.3 990.9,360.8 994.2,361.4 989.6,361.9 988.7,362.5 988.6,363.0 986.9,363.6 986.9,364.1 988.7,364.7 988.4,365.2 990.0,365.8 987.4,366.3 984.9,366.9 985.3,367.4 988.5,368.0 988.8,368.5 986.5,369.1 985.3,369.6 985.9,370.2 990.3,370.7 989.2,371.3 989.2,371.8 986.9,372.0 990.6,372.6 984.8,373.1 993.0,373.7 987.0,374.2 986.2,374.8 987.3,375.3 993.6,375.9 993.7,376.4 988.3,377.0 991.0,377.5 997.2,378.1 991.0,378.6 993.0,379.2 994.0,379.7 984.0,380.0 986.4,380.6 985.0,381.1 984.2,381.7 985.1,382.2 985.9,382.8 989.0,383.3 984.9,383.9 987.0,384.4 985.4,385.0 984.7,385.5 986.4,386.1 988.4,386.6 988.3,387.2 987.2,387.7 985.1,388.3 987.1,388.8 986.1,389.4 992.9,389.9 986.6,390.5 989.0,391.0 989.8,391.6 991.9,392.1 987.2,392.7 986.4,393.2 991.5,393.8 991.2,394.3 987.5,394.9 990.8,395.4 987.4,396.0 990.5,396.5 986.7,397.1 988.4,397.6 990.7,398.2 986.6,398.7 986.2,399.3 985.2,399.8 986.9,400.4 985.9,400.9 985.5,401.5 985.7,402.0 987.2,402.6 987.3,403.1 986.3,403.7 985.5,404.2 988.0,404.8 987.4,405.3 988.6,405.9 986.0,406.4 984.5,407.0 985.3,407.5 988.9,408.1 994.7,408.6 988.6,409.2 989.6,409.7 990.0,410.3 988.4,410.8 989.0,411.4 987.8,411.9 987.3,412.5 991.6,413.0 1010.4,413.6" fill="none" stroke="#000" stroke-width="0.86" stroke-linejoin="round"/>
<polyline points="1373.7,65.0 1379.6,65.4 1375.2,65.8 1380.2,66.2 1382.6,66.6 1373.2,67.0 1369.3,67.4 1370.4,67.8 1387.9,68.2 1374.6,68.6 1379.5,69.0 1370.8,69.4 1369.8,69.8 1373.2,70.2 1370.1,70.6 1376.0,71.0 1369.0,71.4 1377.1,71.8 1365.5,72.2 1379.1,72.6 1390.2,73.0 1377.7,73.4 1376.5,73.8 1373.3,74.2 1375.6,74.6 1384.1,75.0 1366.8,75.4 1376.8,75.8 1366.1,76.2 1368.5,76.6 1367.8,77.0 1381.2,77.4 1374.7,77.8 1374.1,78.2 1367.9,78.6 1369.5,79.0 1372.0,79.4 1366.6,79.8 1380.0,80.0 1375.4,80.4 1382.3,80.8 1371.7,81.2 1367.3,81.6 1372.0,82.0 1372.9,82.4 1368.4,82.8 1383.7,83.2 1374.3,83.6 1363.7,84.0 1368.3,84.4 1368.7,84.8 1360.8,85.2 1385.5,85.6 1375.6,86.0 1387.2,86.4 1373.4,86.8 1367.8,87.2 1377.4,87.6 1369.7,88.0 1363.6,88.4 1379.4,88.8 1397.0,89.2 1372.5,89.6 1375.1,90.0 1380.2,90.4 1376.6,90.8 1401.6,91.2 1366.2,91.6 1382.9,92.0 1368.6,92.4 1388.2,92.8 1371.1,93.2 1366.8,93.6 1382.1,94.0 1382.1,94.4 1367.2,94.8 1377.3,95.2 1366.0,95.6 1379.8,96.0 1398.1,96.4 1370.6,96.8 1407.9,97.2 1367.1,97.6 1374.4,98.0 1367.9,98.4 1369.2,98.8 1366.3,99.2 1386.4,99.6 1379.8,100.0 1386.0,100.4 1382.4,100.8 1388.7,101.2 1380.3,101.6 1378.4,102.0 1376.9,102.4 1385.4,102.8 1382.6,103.2 1381.0,103.6 1381.3,104.0 1389.4,104.4 1385.3,104.8 1376.6,105.2 1378.7,105.6 1377.1,106.0 1379.0,106.4 1376.8,106.8 1374.4,107.2 1376.8,107.6 1375.1,108.0 1375.9,108.4 1369.9,108.8 1374.2,109.2 1377.7,109.6 1376.3,110.0 1371.1,110.4 1373.5,110.8 1374.0,111.2 1371.7,111.6 1373.2,112.0 1372.0,112.4 1372.6,112.8 1370.9,113.2 1372.1,113.6 1372.5,114.0 1377.1,114.4 1376.2,114.8 1373.8,115.2 1376.8,115.6 1366.2,116.0 1361.4,116.4 1355.9,116.8 1350.8,117.2 1345.2,117.6 1341.6,118.0 1338.1,118.4 1333.0,118.8 1329.3,119.0 1327.8,119.4 1328.5,119.8 1326.2,120.2 1326.8,120.6 1328.3,121.0 1326.4,121.4 1326.8,121.8 1326.6,122.2 1330.8,122.6 1326.8,123.0 1326.2,123.4 1324.4,123.8 1325.2,124.2 1325.8,124.6 1326.2,125.0 1327.1,125.4 1326.7,125.8 1327.6,126.2 1326.2,126.6 1325.2,127.0 1325.7,127.4 1325.7,127.8 1325.0,128.0 1331.3,128.4 1335.1,128.8 1340.1,129.2 1347.0,129.6 1347.1,130.0 1351.9,130.4 1357.3,130.8 1362.0,131.0 1374.9,131.4 1359.6,131.8 1366.3,132.2 1374.8,132.6 1371.4,133.0 1364.1,133.4 1373.5,133.8 1374.8,134.2 1386.7,134.6 1372.2,135.0 1390.2,135.4 1382.5,135.8 1382.9,136.2 1373.5,136.6 1369.7,137.0 1372.2,137.4 1378.1,137.8 1381.6,138.2 1378.7,138.6 1380.2,139.0 1378.9,139.4 1385.0,139.8 1388.5,140.2 1383.4,140.6 1365.5,141.0 1385.7,141.4 1372.8,141.8 1377.1,142.2 1379.6,142.6 1377.9,143.0 1395.2,143.4 1379.1,143.8 1374.0,144.2 1376.7,144.6 1378.7,145.0 1378.7,145.4 1391.3,145.8 1387.3,146.2 1395.1,146.6 1381.3,147.0 1384.9,147.4 1391.1,147.8 1384.1,148.2 1413.8,148.6 1385.2,149.0 1396.8,149.4 1387.8,149.8 1386.2,150.2 1394.1,150.6 1385.3,151.0 1388.1,151.4 1391.5,151.8 1373.9,152.0 1371.0,152.4 1362.6,152.8 1372.7,153.2 1370.4,153.6 1369.5,154.0 1361.4,154.4 1369.3,154.8 1372.5,155.2 1371.0,155.6 1362.6,156.0 1383.3,156.4 1370.0,156.8 1363.7,157.2 1361.7,157.6 1349.2,158.0 1359.4,158.4 1352.7,158.8 1353.0,159.2 1370.5,159.6 1355.7,160.0 1371.2,160.4 1361.1,160.8" fill="none" stroke="#000" stroke-width="1.01" stroke-linejoin="round"/>
<polyline points="1370.5,167.0 1365.1,167.4 1380.0,167.8 1385.1,168.2 1373.1,168.6 1397.5,169.0 1386.3,169.4 1392.3,169.8 1350.5,170.2 1390.7,170.6 1347.5,171.0 1349.7,171.4 1341.8,171.8 1381.8,172.2 1370.7,172.6 1377.8,173.0 1367.3,173.4 1365.8,173.8 1373.4,174.2 1368.4,174.6 1379.5,175.0 1360.4,175.4 1364.4,175.8 1386.7,176.0 1356.2,176.4 1397.9,176.8 1352.6,177.2 1337.1,177.6 1357.2,178.0 1356.4,178.4 1354.6,178.8 1380.1,179.2 1353.3,179.6 1360.0,180.0 1360.8,180.4 1356.2,180.8 1361.9,181.2 1372.6,181.6 1400.1,182.0 1371.6,182.4 1410.6,182.8 1363.0,183.2 1343.5,183.6 1356.0,184.0 1384.4,184.4 1368.7,184.8 1396.1,185.2 1413.9,185.6 1342.7,186.0 1349.3,186.4 1345.9,186.8 1357.6,187.2 1379.7,187.6 1372.3,188.0 1387.0,188.4 1332.7,188.8 1407.0,189.2 1354.3,189.6 1384.6,190.0 1376.7,190.4 1373.4,190.8 1356.8,191.2 1358.5,191.6 1376.4,192.0 1390.2,192.4 1395.8,192.8 1362.9,193.2 1359.2,193.6 1369.8,194.0 1367.2,194.4 1396.0,194.8 1416.5,195.2 1375.7,195.6 1346.3,196.0 1364.0,196.4 1381.7,196.8 1342.3,197.2 1419.5,197.6 1355.6,198.0 1374.2,198.4 1331.3,198.8 1350.8,199.2 1356.2,199.6 1368.1,200.0 1354.2,200.4 1409.2,200.8 1352.7,201.2 1350.1,201.6 1361.9,202.0 1344.5,202.4 1390.3,202.8 1373.5,203.2 1361.3,203.6 1357.2,204.0 1384.6,204.4 1381.0,204.8 1362.4,205.2 1343.5,205.6 1372.9,206.0 1373.1,206.4 1353.6,206.8 1397.0,207.2 1376.9,207.6 1341.7,208.0 1348.2,208.4 1350.1,208.8 1347.4,209.2 1345.4,209.6 1357.5,210.0 1354.5,210.4 1358.7,210.8 1356.6,211.2 1365.6,211.6 1356.3,212.0 1362.7,212.4 1359.0,212.8 1343.8,213.2 1400.8,213.6 1354.2,214.0 1362.5,214.4 1350.9,214.8 1363.2,215.2 1370.5,215.6 1341.6,216.0 1335.7,216.4 1352.3,216.8 1365.0,217.2 1351.2,217.6 1368.9,218.0 1341.2,218.4 1341.1,218.8 1336.5,219.2 1368.5,219.6 1344.0,220.0 1339.1,220.4 1335.9,220.8 1339.7,221.2 1336.2,221.6 1337.1,222.0 1343.5,222.4 1340.8,222.8 1366.0,223.2 1332.7,223.6 1340.5,224.0 1363.3,224.4 1339.0,224.8 1337.5,225.2 1375.6,225.6 1345.4,226.0 1334.0,226.4 1331.9,226.8 1334.1,227.2 1337.6,227.6 1336.7,228.0 1337.5,228.4 1342.3,228.8 1346.9,229.2 1342.8,229.6 1331.1,230.0 1374.5,230.4 1394.0,230.8 1369.9,231.2 1382.4,231.6 1328.4,232.0 1349.4,232.4 1349.5,232.8 1332.7,233.2 1394.8,233.6 1341.9,234.0 1374.9,234.4 1340.5,234.8 1337.3,235.2 1336.5,235.6 1339.8,236.0 1334.1,236.4 1370.9,236.8 1371.0,237.2 1352.4,237.6 1329.5,238.0 1333.7,238.4 1378.4,238.8 1404.5,239.2 1378.0,239.6 1336.2,240.0 1340.7,240.4 1333.7,240.8 1334.1,241.2 1352.4,241.6 1381.6,242.0 1341.5,242.4 1369.2,242.8 1344.2,243.2 1344.9,243.6 1339.9,244.0 1369.7,244.4 1333.9,244.8 1340.5,245.2 1339.3,245.6 1341.7,246.0 1333.1,246.4 1376.6,246.8 1325.3,247.2 1334.0,247.6 1413.7,248.0 1361.5,248.4 1333.3,248.8 1331.1,249.2 1371.4,249.6 1330.7,250.0 1330.0,250.4 1402.1,250.8 1342.3,251.2 1341.6,251.6 1333.3,252.0 1326.0,252.4 1370.1,252.8" fill="none" stroke="#000" stroke-width="0.84" stroke-linejoin="round"/>
<polyline points="1315.8,259.0 1315.3,259.7 1317.9,260.4 1317.2,261.1 1317.6,261.8 1317.4,262.5 1317.5,263.2 1316.8,263.9 1316.6,264.6 1318.2,265.3 1316.4,266.0 1317.2,266.7 1317.9,267.4 1320.9,268.1 1316.9,268.8 1317.5,269.5 1319.6,270.2 1319.0,270.9 1317.7,271.6 1323.5,272.3 1317.3,273.0 1316.6,273.7 1317.6,274.4 1317.5,275.1 1318.2,275.8 1316.7,276.5 1317.2,277.2 1315.3,277.9 1316.7,278.6 1317.0,279.3 1319.5,280.0 1319.3,280.7 1319.0,281.4 1317.8,282.1 1318.3,282.8 1319.6,283.5 1318.1,284.2 1319.0,284.9 1317.5,285.6 1319.0,286.3 1323.9,287.0 1317.9,287.7 1318.1,288.4 1317.1,289.1 1317.7,289.8 1317.5,290.5 1319.6,291.2 1318.3,291.9 1319.5,292.6 1318.5,293.3 1317.8,294.0 1318.4,294.7 1317.5,295.4 1317.5,296.1 1317.0,296.8 1318.3,297.5 1318.3,298.2 1320.1,298.9 1319.7,299.6 1320.2,300.3 1327.7,301.0 1316.8,301.7 1316.3,302.4 1317.3,303.1 1317.1,303.8 1323.4,304.5 1322.8,305.2 1315.4,305.9 1318.3,306.6 1318.5,307.3 1318.2,308.0 1319.4,308.7 1318.9,309.4 1320.3,310.1 1319.5,310.8 1319.6,311.5 1319.3,312.2 1320.1,312.9 1320.4,313.6 1318.2,314.3 1317.7,315.0 1318.1,315.7 1317.8,316.4 1320.1,317.1 1319.2,317.8 1318.7,318.5 1320.1,319.2 1319.0,319.9 1320.6,320.6 1320.5,321.3 1319.1,322.0 1319.0,322.7 1320.8,323.4 1321.3,324.1 1321.0,324.8 1320.1,325.5 1321.0,326.2 1320.4,326.9 1320.3,327.6 1321.0,328.3 1320.8,329.0 1320.5,329.7 1320.0,330.4 1320.7,331.1 1321.4,331.8 1320.1,332.5 1319.0,333.2 1319.4,333.9 1320.2,334.6 1319.8,335.3 1318.5,336.0 1319.7,336.7 1321.0,337.4 1321.1,338.1 1320.0,338.8 1320.2,339.5 1319.6,340.2 1321.0,340.9 1322.7,341.6 1321.9,342.3 1323.0,343.0 1317.3,349.0 1327.9,349.7 1326.2,350.4 1324.0,351.1 1325.3,351.8 1319.5,352.5 1321.6,353.2 1322.1,353.9 1323.6,354.6 1323.2,355.3 1318.4,356.0 1321.9,356.7 1327.6,357.4 1320.4,358.1 1322.0,358.8 1322.9,359.5 1317.0,360.2 1320.2,360.9 1316.9,361.6 1318.7,362.3 1325.2,363.0 1319.8,363.7 1321.9,364.4 1323.5,365.1 1320.8,365.8 1324.4,366.5 1321.1,367.2 1324.6,367.9 1326.9,368.6 1319.9,369.3 1321.2,370.0 1325.4,370.7 1322.3,371.4 1325.8,372.1 1326.4,372.8 1324.0,373.5 1321.6,374.2 1326.9,374.9 1331.3,375.6 1325.8,376.3 1328.7,377.0 1326.1,377.7 1319.8,378.4 1324.6,379.1 1324.9,379.8 1326.0,380.0 1324.3,380.7 1316.8,381.4 1323.1,382.1 1323.2,382.8 1314.3,383.5 1329.6,384.2 1322.1,384.9 1321.7,385.6 1320.8,386.3 1325.5,387.0 1326.9,387.7 1323.2,388.4 1323.4,389.1 1322.6,389.8 1324.7,390.5 1328.2,391.2 1327.8,391.9 1327.2,392.6 1327.4,393.3 1331.9,394.0 1329.0,394.7 1330.9,395.4 1330.8,396.1 1324.3,396.8 1324.2,397.5 1325.6,398.2 1325.4,398.9 1332.5,399.6 1336.7,400.3 1326.5,401.0 1322.3,401.7 1323.4,402.4 1330.4,403.1 1329.4,403.8 1327.7,404.5 1328.5,405.2 1325.4,405.9 1326.1,406.6 1327.1,407.3 1335.1,408.0 1329.3,408.7 1325.2,409.4 1337.2,410.1 1329.8,410.8 1332.3,411.5 1331.1,412.2 1335.4,412.9 1314.7,419.0 1314.4,419.7 1314.9,420.4 1315.3,421.1 1315.1,421.8" fill="none" stroke="#000" stroke-width="0.92" stroke-linejoin="round"/>
</g>
<g id="borders" fill="none" stroke="#000">
<line x1="2.0" y1="64.2" x2="2.0" y2="431.7" stroke-width="1.0"/>
<line x1="312.3" y1="64.2" x2="312.3" y2="431.7" stroke-width="2.0"/>
<line x1="2.0" y1="65.0" x2="312.3" y2="65.0" stroke-width="1.5"/>
<line x1="2.0" y1="431.0" x2="312.3" y2="431.0" stroke-width="1.4"/>
<line x1="334.8" y1="64.3" x2="334.8" y2="431.9" stroke-width="2.0"/>
<line x1="535.2" y1="64.3" x2="535.2" y2="431.9" stroke-width="2.0"/>
<line x1="334.8" y1="65.3" x2="535.2" y2="65.3" stroke-width="1.9"/>
<line x1="334.8" y1="431.2" x2="535.2" y2="431.2" stroke-width="1.4"/>
<line x1="556.8" y1="64.0" x2="556.8" y2="432.9" stroke-width="1.2"/>
<line x1="867.5" y1="64.0" x2="867.5" y2="432.9" stroke-width="2.2"/>
<line x1="556.8" y1="64.8" x2="867.5" y2="64.8" stroke-width="1.5"/>
<line x1="556.8" y1="432.2" x2="867.5" y2="432.2" stroke-width="1.4"/>
<line x1="889.5" y1="63.5" x2="889.5" y2="423.4" stroke-width="0.9"/>
<line x1="1200.0" y1="63.5" x2="1200.0" y2="423.4" stroke-width="1.6"/>
<line x1="889.5" y1="64.2" x2="1200.0" y2="64.2" stroke-width="1.5"/>
<line x1="889.5" y1="422.7" x2="1200.0" y2="422.7" stroke-width="1.5"/>
<line x1="1222.0" y1="63.2" x2="1222.0" y2="423.4" stroke-width="2.2"/>
<line x1="1533.0" y1="63.2" x2="1533.0" y2="423.4" stroke-width="1.4"/>
<line x1="1222.0" y1="64.2" x2="1533.0" y2="64.2" stroke-width="1.9"/>
<line x1="1222.0" y1="422.7" x2="1533.0" y2="422.7" stroke-width="1.4"/>
</g>
<g id="zones">
<polygon points="1.5,194.7 312.5,194.7 334.5,169.5 535.5,169.5 557.0,205.4 867.5,205.4 889.5,104.0 1200.0,104.0 1222.0,164.2 1533.0,164.2 1533.0,256.4 1222.0,256.4 1200.0,190.2 889.5,190.2 867.5,276.7 557.0,276.7 535.5,195.0 334.5,195.0 312.5,298.1 1.0,298.1" fill="#f0c220" fill-opacity="0.26"/>
<polygon points="1.0,298.1 312.5,298.1 334.5,195.0 535.5,195.0 557.0,276.7 867.5,276.7 889.5,190.2 1200.0,190.2 1222.0,256.4 1533.0,256.4 1533.0,345.8 1222.0,345.8 1200.0,286.0 889.5,286.0 867.5,342.4 557.0,342.4 535.5,364.0 334.5,364.0 312.5,358.4 1.5,358.4" fill="#f8a050" fill-opacity="0.215"/>
<polygon points="1.5,358.4 312.5,358.4 334.5,364.0 535.5,364.0 557.0,342.4 867.5,342.4 889.5,286.0 1200.0,286.0 1222.0,345.8 1533.0,345.8 1533.0,416.3 1.5,416.3" fill="#38d848" fill-opacity="0.235"/>
</g>
<g id="litho" shape-rendering="crispEdges">
<rect x="45.2" y="65.00" width="45.1" height="3.45" fill="#008000"/><rect x="45.2" y="68.20" width="45.1" height="1.15" fill="#051a00"/><rect x="45.2" y="69.10" width="45.1" height="6.85" fill="#ffee00"/><rect x="45.2" y="75.70" width="45.1" height="4.95" fill="#008000"/><rect x="45.2" y="80.40" width="45.1" height="2.35" fill="#005000"/><rect x="45.2" y="82.50" width="45.1" height="7.75" fill="#ffee00"/><rect x="45.2" y="90.00" width="45.1" height="3.95" fill="#6b5a00"/><rect x="45.2" y="93.70" width="45.1" height="2.45" fill="#ffee00"/><rect x="45.2" y="95.90" width="45.1" height="1.65" fill="#051a00"/><rect x="45.2" y="97.30" width="45.1" height="5.25" fill="#008000"/><rect x="45.2" y="102.30" width="45.1" height="2.05" fill="#6b5a00"/><rect x="45.2" y="104.10" width="45.1" height="2.95" fill="#051a00"/><rect x="45.2" y="106.80" width="45.1" height="14.45" fill="#ffee00"/><rect x="45.2" y="121.00" width="45.1" height="2.05" fill="#051a00"/><rect x="45.2" y="122.80" width="45.1" height="2.45" fill="#008000"/><rect x="45.2" y="125.00" width="45.1" height="2.55" fill="#6b5a00"/><rect x="45.2" y="127.30" width="45.1" height="1.95" fill="#ffee00"/><rect x="45.2" y="129.00" width="45.1" height="1.65" fill="#6b5a00"/><rect x="45.2" y="130.40" width="45.1" height="2.85" fill="#008000"/><rect x="45.2" y="133.00" width="45.1" height="1.45" fill="#051a00"/><rect x="45.2" y="134.20" width="45.1" height="2.55" fill="#6b5a00"/><rect x="45.2" y="136.50" width="45.1" height="4.75" fill="#ffee00"/><rect x="45.2" y="141.00" width="45.1" height="1.95" fill="#051a00"/><rect x="45.2" y="142.70" width="45.1" height="3.05" fill="#a09000"/><rect x="45.2" y="145.50" width="45.1" height="2.25" fill="#6b5a00"/><rect x="45.2" y="147.50" width="45.1" height="3.75" fill="#008000"/><rect x="45.2" y="151.00" width="45.1" height="2.25" fill="#ffee00"/><rect x="45.2" y="153.00" width="45.1" height="2.25" fill="#a09000"/><rect x="45.2" y="155.00" width="45.1" height="4.35" fill="#008000"/><rect x="45.2" y="159.10" width="45.1" height="25.55" fill="#ffee00"/><rect x="45.2" y="184.40" width="45.1" height="1.85" fill="#005000"/><rect x="45.2" y="186.00" width="45.1" height="2.35" fill="#ffee00"/><rect x="45.2" y="188.10" width="45.1" height="4.15" fill="#008000"/><rect x="45.2" y="192.00" width="45.1" height="5.65" fill="#ffee00"/><rect x="45.2" y="197.40" width="45.1" height="3.65" fill="#c8b000"/><rect x="45.2" y="200.80" width="45.1" height="5.75" fill="#358a10"/><rect x="45.2" y="206.30" width="45.1" height="1.95" fill="#4a3800"/><rect x="45.2" y="208.00" width="45.1" height="2.65" fill="#c8b000"/><rect x="45.2" y="210.40" width="45.1" height="4.35" fill="#358a10"/><rect x="45.2" y="214.50" width="45.1" height="2.55" fill="#4a3800"/><rect x="45.2" y="216.80" width="45.1" height="2.45" fill="#358a10"/><rect x="45.2" y="219.00" width="45.1" height="2.25" fill="#40b088"/><rect x="45.2" y="221.00" width="45.1" height="2.65" fill="#4a3800"/><rect x="45.2" y="223.40" width="45.1" height="1.45" fill="#40b088"/><rect x="45.2" y="224.60" width="45.1" height="1.65" fill="#358a10"/><rect x="45.2" y="226.00" width="45.1" height="3.65" fill="#4a3800"/><rect x="45.2" y="229.40" width="45.1" height="2.25" fill="#40f0c4"/><rect x="45.2" y="231.40" width="45.1" height="2.75" fill="#4a3800"/><rect x="45.2" y="233.90" width="45.1" height="9.75" fill="#40f0c4"/><rect x="45.2" y="243.40" width="45.1" height="4.65" fill="#358a10"/><rect x="45.2" y="247.80" width="45.1" height="4.05" fill="#40f0c4"/><rect x="45.2" y="251.60" width="45.1" height="3.25" fill="#358a10"/><rect x="45.2" y="254.60" width="45.1" height="4.15" fill="#40f0c4"/><rect x="45.2" y="258.50" width="45.1" height="1.75" fill="#358a10"/><rect x="45.2" y="260.00" width="45.1" height="2.05" fill="#40f0c4"/><rect x="45.2" y="261.80" width="45.1" height="3.45" fill="#358a10"/><rect x="45.2" y="265.00" width="45.1" height="1.05" fill="#40b088"/><rect x="45.2" y="265.80" width="45.1" height="2.75" fill="#358a10"/><rect x="45.2" y="268.30" width="45.1" height="5.95" fill="#40f0c4"/><rect x="45.2" y="274.00" width="45.1" height="2.55" fill="#358a10"/><rect x="45.2" y="276.30" width="45.1" height="6.95" fill="#40f0c4"/><rect x="45.2" y="283.00" width="45.1" height="2.75" fill="#358a10"/><rect x="45.2" y="285.50" width="45.1" height="3.55" fill="#40f0c4"/><rect x="45.2" y="288.80" width="45.1" height="1.95" fill="#358a10"/><rect x="45.2" y="290.50" width="45.1" height="1.25" fill="#40b088"/><rect x="45.2" y="291.50" width="45.1" height="2.25" fill="#358a10"/><rect x="45.2" y="293.50" width="45.1" height="1.05" fill="#40b088"/><rect x="45.2" y="294.30" width="45.1" height="2.95" fill="#358a10"/><rect x="45.2" y="297.00" width="45.1" height="27.95" fill="#2e6fd8"/><rect x="45.2" y="324.70" width="45.1" height="1.25" fill="#203830"/><rect x="45.2" y="325.70" width="45.1" height="9.25" fill="#2e6fd8"/><rect x="45.2" y="334.70" width="45.1" height="1.95" fill="#e0b000"/><rect x="45.2" y="336.40" width="45.1" height="2.85" fill="#30d0b0"/><rect x="45.2" y="339.00" width="45.1" height="5.15" fill="#2e6fd8"/><rect x="45.2" y="343.90" width="45.1" height="3.15" fill="#40f0c4"/><rect x="45.2" y="346.80" width="45.1" height="1.45" fill="#2e6fd8"/><rect x="45.2" y="348.00" width="45.1" height="2.25" fill="#203830"/><rect x="45.2" y="350.00" width="45.1" height="2.95" fill="#2e6fd8"/><rect x="45.2" y="352.70" width="45.1" height="4.55" fill="#3a7ae0"/><rect x="45.2" y="357.00" width="45.1" height="6.75" fill="#0a9ad8"/><rect x="45.2" y="363.50" width="45.1" height="1.55" fill="#003848"/><rect x="45.2" y="364.80" width="45.1" height="5.75" fill="#0a9ad8"/><rect x="45.2" y="370.30" width="45.1" height="2.75" fill="#10d0a0"/><rect x="45.2" y="372.80" width="45.1" height="0.95" fill="#003848"/><rect x="45.2" y="373.50" width="45.1" height="4.95" fill="#0a9ad8"/><rect x="45.2" y="378.20" width="45.1" height="5.05" fill="#10f8c8"/><rect x="45.2" y="383.00" width="45.1" height="5.05" fill="#0a9ad8"/><rect x="45.2" y="387.80" width="45.1" height="0.95" fill="#003060"/><rect x="45.2" y="388.50" width="45.1" height="2.95" fill="#0a9ad8"/><rect x="45.2" y="391.20" width="45.1" height="2.05" fill="#10f8c8"/><rect x="45.2" y="393.00" width="45.1" height="1.25" fill="#003848"/><rect x="45.2" y="394.00" width="45.1" height="2.95" fill="#10f8c8"/><rect x="45.2" y="396.70" width="45.1" height="2.55" fill="#0a9ad8"/><rect x="45.2" y="399.00" width="45.1" height="1.05" fill="#003060"/><rect x="45.2" y="399.80" width="45.1" height="1.95" fill="#0a9ad8"/><rect x="45.2" y="401.50" width="45.1" height="1.25" fill="#003848"/><rect x="45.2" y="402.50" width="45.1" height="1.75" fill="#0878b8"/><rect x="45.2" y="404.00" width="45.1" height="1.25" fill="#003060"/><rect x="45.2" y="405.00" width="45.1" height="1.75" fill="#051a00"/><rect x="45.2" y="406.50" width="45.1" height="8.75" fill="#0a9ad8"/><rect x="45.2" y="415.00" width="45.1" height="6.25" fill="#00a0c0"/><rect x="45.2" y="421.00" width="45.1" height="2.75" fill="#401080"/><rect x="45.2" y="423.50" width="45.1" height="2.25" fill="#0a7000"/><rect x="45.2" y="425.50" width="45.1" height="1.75" fill="#008888"/><rect x="45.2" y="427.00" width="45.1" height="4.05" fill="#ff9900"/>
<line x1="45.2" y1="65.0" x2="45.2" y2="431.0" stroke="#4a4a3a" stroke-width="0.5"/>
<line x1="90.3" y1="65.0" x2="90.3" y2="431.0" stroke="#33332a" stroke-width="0.8"/>
<rect x="379.7" y="65.80" width="44.3" height="7.65" fill="#ffee00"/><rect x="379.7" y="73.20" width="44.3" height="2.05" fill="#005000"/><rect x="379.7" y="75.00" width="44.3" height="2.25" fill="#a09000"/><rect x="379.7" y="77.00" width="44.3" height="1.25" fill="#005000"/><rect x="379.7" y="78.00" width="44.3" height="2.25" fill="#a09000"/><rect x="379.7" y="80.00" width="44.3" height="3.05" fill="#008000"/><rect x="379.7" y="82.80" width="44.3" height="1.95" fill="#6b5a00"/><rect x="379.7" y="84.50" width="44.3" height="2.35" fill="#005000"/><rect x="379.7" y="86.60" width="44.3" height="2.65" fill="#ffee00"/><rect x="379.7" y="89.00" width="44.3" height="2.65" fill="#005000"/><rect x="379.7" y="91.40" width="44.3" height="2.55" fill="#ffee00"/><rect x="379.7" y="93.70" width="44.3" height="2.55" fill="#005000"/><rect x="379.7" y="96.00" width="44.3" height="2.85" fill="#a09000"/><rect x="379.7" y="98.60" width="44.3" height="13.95" fill="#ffee00"/><rect x="379.7" y="112.30" width="44.3" height="1.45" fill="#005000"/><rect x="379.7" y="113.50" width="44.3" height="14.65" fill="#ffee00"/><rect x="379.7" y="127.90" width="44.3" height="2.35" fill="#008000"/><rect x="379.7" y="130.00" width="44.3" height="2.65" fill="#703000"/><rect x="379.7" y="132.40" width="44.3" height="2.55" fill="#900000"/><rect x="379.7" y="134.70" width="44.3" height="21.75" fill="#ff0000"/><rect x="379.7" y="156.20" width="44.3" height="12.05" fill="#008000"/><rect x="379.7" y="168.00" width="44.3" height="6.25" fill="#e05010"/><rect x="379.7" y="174.00" width="44.3" height="1.75" fill="#358a10"/><rect x="379.7" y="175.50" width="44.3" height="1.75" fill="#8a4010"/><rect x="379.7" y="177.00" width="44.3" height="1.75" fill="#358a10"/><rect x="379.7" y="178.50" width="44.3" height="1.75" fill="#8a4010"/><rect x="379.7" y="180.00" width="44.3" height="1.75" fill="#358a10"/><rect x="379.7" y="181.50" width="44.3" height="2.05" fill="#e05010"/><rect x="379.7" y="183.30" width="44.3" height="4.35" fill="#40f0c4"/><rect x="379.7" y="187.40" width="44.3" height="1.65" fill="#4a3800"/><rect x="379.7" y="188.80" width="44.3" height="4.45" fill="#40f0c4"/><rect x="379.7" y="193.00" width="44.3" height="18.25" fill="#2e6fd8"/><rect x="379.7" y="211.00" width="44.3" height="5.65" fill="#358a10"/><rect x="379.7" y="216.40" width="44.3" height="3.35" fill="#2e6fd8"/><rect x="379.7" y="219.50" width="44.3" height="1.25" fill="#203830"/><rect x="379.7" y="220.50" width="44.3" height="1.25" fill="#358a10"/><rect x="379.7" y="221.50" width="44.3" height="1.05" fill="#203830"/><rect x="379.7" y="222.30" width="44.3" height="2.95" fill="#2e6fd8"/><rect x="379.7" y="225.00" width="44.3" height="2.95" fill="#358a10"/><rect x="379.7" y="227.70" width="44.3" height="12.55" fill="#2e6fd8"/><rect x="379.7" y="240.00" width="44.3" height="2.25" fill="#358a10"/><rect x="379.7" y="242.00" width="44.3" height="12.25" fill="#2e6fd8"/><rect x="379.7" y="254.00" width="44.3" height="2.95" fill="#358a10"/><rect x="379.7" y="256.70" width="44.3" height="24.85" fill="#2e6fd8"/><rect x="379.7" y="281.30" width="44.3" height="7.75" fill="#358a10"/><rect x="379.7" y="288.80" width="44.3" height="1.95" fill="#28506a"/><rect x="379.7" y="290.50" width="44.3" height="1.25" fill="#2e6fd8"/><rect x="379.7" y="291.50" width="44.3" height="2.25" fill="#28506a"/><rect x="379.7" y="293.50" width="44.3" height="2.25" fill="#2e6fd8"/><rect x="379.7" y="295.50" width="44.3" height="2.75" fill="#2a5a50"/><rect x="379.7" y="298.00" width="44.3" height="2.25" fill="#28506a"/><rect x="379.7" y="300.00" width="44.3" height="3.65" fill="#2e6fd8"/><rect x="379.7" y="303.40" width="44.3" height="4.35" fill="#358a10"/><rect x="379.7" y="307.50" width="44.3" height="3.75" fill="#2e6fd8"/><rect x="379.7" y="311.00" width="44.3" height="3.25" fill="#358a10"/><rect x="379.7" y="314.00" width="44.3" height="1.55" fill="#2e6fd8"/><rect x="379.7" y="315.30" width="44.3" height="3.45" fill="#358a10"/><rect x="379.7" y="318.50" width="44.3" height="2.25" fill="#283a60"/><rect x="379.7" y="320.50" width="44.3" height="4.45" fill="#2e6fd8"/><rect x="379.7" y="324.70" width="44.3" height="3.35" fill="#358a10"/><rect x="379.7" y="327.80" width="44.3" height="34.45" fill="#2e6fd8"/><rect x="379.7" y="362.00" width="44.3" height="10.25" fill="#a8bcae"/><rect x="379.7" y="372.00" width="44.3" height="1.55" fill="#0a7000"/><rect x="379.7" y="373.30" width="44.3" height="0.95" fill="#a8bcae"/><rect x="379.7" y="374.00" width="44.3" height="1.75" fill="#0a7000"/><rect x="379.7" y="375.50" width="44.3" height="3.75" fill="#a8bcae"/><rect x="379.7" y="379.00" width="44.3" height="1.25" fill="#0a7000"/><rect x="379.7" y="380.00" width="44.3" height="2.25" fill="#a8bcae"/><rect x="379.7" y="382.00" width="44.3" height="1.25" fill="#0a7000"/><rect x="379.7" y="383.00" width="44.3" height="2.25" fill="#a8bcae"/><rect x="379.7" y="385.00" width="44.3" height="1.25" fill="#0a7000"/><rect x="379.7" y="386.00" width="44.3" height="2.45" fill="#a8bcae"/><rect x="379.7" y="388.20" width="44.3" height="1.05" fill="#0a7000"/><rect x="379.7" y="389.00" width="44.3" height="7.85" fill="#a8bcae"/><rect x="379.7" y="396.60" width="44.3" height="2.25" fill="#0a7000"/><rect x="379.7" y="398.60" width="44.3" height="6.35" fill="#a8bcae"/><rect x="379.7" y="404.70" width="44.3" height="1.55" fill="#0a4800"/><rect x="379.7" y="406.00" width="44.3" height="2.75" fill="#a8bcae"/><rect x="379.7" y="408.50" width="44.3" height="1.75" fill="#10a020"/><rect x="379.7" y="410.00" width="44.3" height="2.25" fill="#78a880"/><rect x="379.7" y="412.00" width="44.3" height="4.25" fill="#5a9868"/><rect x="379.7" y="416.00" width="44.3" height="15.25" fill="#9900ff"/>
<line x1="379.7" y1="65.3" x2="379.7" y2="431.2" stroke="#4a4a3a" stroke-width="0.5"/>
<line x1="424.0" y1="65.3" x2="424.0" y2="431.2" stroke="#33332a" stroke-width="0.8"/>
<rect x="600.6" y="64.80" width="44.2" height="3.15" fill="#008000"/><rect x="600.6" y="67.70" width="44.2" height="2.05" fill="#051a00"/><rect x="600.6" y="69.50" width="44.2" height="6.45" fill="#008000"/><rect x="600.6" y="75.70" width="44.2" height="1.55" fill="#051a00"/><rect x="600.6" y="77.00" width="44.2" height="1.95" fill="#008000"/><rect x="600.6" y="78.70" width="44.2" height="2.95" fill="#ffee00"/><rect x="600.6" y="81.40" width="44.2" height="1.65" fill="#008888"/><rect x="600.6" y="82.80" width="44.2" height="2.45" fill="#a09000"/><rect x="600.6" y="85.00" width="44.2" height="2.15" fill="#008000"/><rect x="600.6" y="86.90" width="44.2" height="2.05" fill="#6b5a00"/><rect x="600.6" y="88.70" width="44.2" height="8.05" fill="#008000"/><rect x="600.6" y="96.50" width="44.2" height="1.95" fill="#003060"/><rect x="600.6" y="98.20" width="44.2" height="3.75" fill="#008000"/><rect x="600.6" y="101.70" width="44.2" height="1.55" fill="#051a00"/><rect x="600.6" y="103.00" width="44.2" height="5.05" fill="#008000"/><rect x="600.6" y="107.80" width="44.2" height="3.45" fill="#ffee00"/><rect x="600.6" y="111.00" width="44.2" height="1.85" fill="#051a00"/><rect x="600.6" y="112.60" width="44.2" height="8.65" fill="#008000"/><rect x="600.6" y="121.00" width="44.2" height="2.05" fill="#003060"/><rect x="600.6" y="122.80" width="44.2" height="3.45" fill="#008000"/><rect x="600.6" y="126.00" width="44.2" height="3.55" fill="#ffee00"/><rect x="600.6" y="129.30" width="44.2" height="1.35" fill="#051a00"/><rect x="600.6" y="130.40" width="44.2" height="3.65" fill="#6b5a00"/><rect x="600.6" y="133.80" width="44.2" height="1.65" fill="#008000"/><rect x="600.6" y="135.20" width="44.2" height="1.55" fill="#6b5a00"/><rect x="600.6" y="136.50" width="44.2" height="2.35" fill="#008000"/><rect x="600.6" y="138.60" width="44.2" height="4.35" fill="#a09000"/><rect x="600.6" y="142.70" width="44.2" height="1.85" fill="#051a00"/><rect x="600.6" y="144.30" width="44.2" height="1.65" fill="#008888"/><rect x="600.6" y="145.70" width="44.2" height="2.55" fill="#ffee00"/><rect x="600.6" y="148.00" width="44.2" height="4.25" fill="#00ffff"/><rect x="600.6" y="152.00" width="44.2" height="7.65" fill="#008000"/><rect x="600.6" y="159.40" width="44.2" height="2.75" fill="#008888"/><rect x="600.6" y="161.90" width="44.2" height="1.85" fill="#008000"/><rect x="600.6" y="163.50" width="44.2" height="2.75" fill="#00ffff"/><rect x="600.6" y="166.00" width="44.2" height="2.65" fill="#008000"/><rect x="600.6" y="168.40" width="44.2" height="1.85" fill="#a09000"/><rect x="600.6" y="170.00" width="44.2" height="1.25" fill="#008000"/><rect x="600.6" y="171.00" width="44.2" height="2.05" fill="#ffee00"/><rect x="600.6" y="172.80" width="44.2" height="3.65" fill="#008000"/><rect x="600.6" y="176.20" width="44.2" height="2.05" fill="#6b5a00"/><rect x="600.6" y="178.00" width="44.2" height="9.05" fill="#008000"/><rect x="600.6" y="186.80" width="44.2" height="4.75" fill="#ffee00"/><rect x="600.6" y="191.30" width="44.2" height="12.95" fill="#008000"/><rect x="600.6" y="204.00" width="44.2" height="6.65" fill="#358a10"/><rect x="600.6" y="210.40" width="44.2" height="1.65" fill="#40b088"/><rect x="600.6" y="211.80" width="44.2" height="1.45" fill="#358a10"/><rect x="600.6" y="213.00" width="44.2" height="2.25" fill="#40b088"/><rect x="600.6" y="215.00" width="44.2" height="3.85" fill="#358a10"/><rect x="600.6" y="218.60" width="44.2" height="2.95" fill="#40b088"/><rect x="600.6" y="221.30" width="44.2" height="1.25" fill="#358a10"/><rect x="600.6" y="222.30" width="44.2" height="3.45" fill="#40f0c4"/><rect x="600.6" y="225.50" width="44.2" height="1.95" fill="#358a10"/><rect x="600.6" y="227.20" width="44.2" height="1.85" fill="#40b088"/><rect x="600.6" y="228.80" width="44.2" height="2.35" fill="#358a10"/><rect x="600.6" y="230.90" width="44.2" height="2.55" fill="#40f0c4"/><rect x="600.6" y="233.20" width="44.2" height="2.55" fill="#358a10"/><rect x="600.6" y="235.50" width="44.2" height="0.95" fill="#40b088"/><rect x="600.6" y="236.20" width="44.2" height="4.35" fill="#358a10"/><rect x="600.6" y="240.30" width="44.2" height="0.95" fill="#40b088"/><rect x="600.6" y="241.00" width="44.2" height="2.25" fill="#358a10"/><rect x="600.6" y="243.00" width="44.2" height="1.25" fill="#4a3800"/><rect x="600.6" y="244.00" width="44.2" height="3.45" fill="#358a10"/><rect x="600.6" y="247.20" width="44.2" height="1.05" fill="#40b088"/><rect x="600.6" y="248.00" width="44.2" height="3.55" fill="#358a10"/><rect x="600.6" y="251.30" width="44.2" height="0.95" fill="#40b088"/><rect x="600.6" y="252.00" width="44.2" height="3.05" fill="#358a10"/><rect x="600.6" y="254.80" width="44.2" height="2.95" fill="#40f0c4"/><rect x="600.6" y="257.50" width="44.2" height="3.75" fill="#4a3800"/><rect x="600.6" y="261.00" width="44.2" height="1.55" fill="#40b088"/><rect x="600.6" y="262.30" width="44.2" height="2.95" fill="#40f0c4"/><rect x="600.6" y="265.00" width="44.2" height="1.65" fill="#358a10"/><rect x="600.6" y="266.40" width="44.2" height="1.65" fill="#40b088"/><rect x="600.6" y="267.80" width="44.2" height="2.45" fill="#358a10"/><rect x="600.6" y="270.00" width="44.2" height="1.25" fill="#4a3800"/><rect x="600.6" y="271.00" width="44.2" height="4.25" fill="#358a10"/><rect x="600.6" y="275.00" width="44.2" height="10.45" fill="#2e6fd8"/><rect x="600.6" y="285.20" width="44.2" height="2.65" fill="#30d0b0"/><rect x="600.6" y="287.60" width="44.2" height="17.65" fill="#2e6fd8"/><rect x="600.6" y="305.00" width="44.2" height="1.75" fill="#20407a"/><rect x="600.6" y="306.50" width="44.2" height="2.75" fill="#2e6fd8"/><rect x="600.6" y="309.00" width="44.2" height="1.25" fill="#30d0b0"/><rect x="600.6" y="310.00" width="44.2" height="1.75" fill="#20407a"/><rect x="600.6" y="311.50" width="44.2" height="1.55" fill="#2e6fd8"/><rect x="600.6" y="312.80" width="44.2" height="1.25" fill="#30d0b0"/><rect x="600.6" y="313.80" width="44.2" height="1.45" fill="#20407a"/><rect x="600.6" y="315.00" width="44.2" height="1.65" fill="#2e6fd8"/><rect x="600.6" y="316.40" width="44.2" height="3.65" fill="#10f8c8"/><rect x="600.6" y="319.80" width="44.2" height="2.95" fill="#303040"/><rect x="600.6" y="322.50" width="44.2" height="1.25" fill="#2e6fd8"/><rect x="600.6" y="323.50" width="44.2" height="1.25" fill="#30d0b0"/><rect x="600.6" y="324.50" width="44.2" height="16.75" fill="#2e6fd8"/><rect x="600.6" y="341.00" width="44.2" height="6.75" fill="#10f8c8"/><rect x="600.6" y="347.50" width="44.2" height="2.75" fill="#0a7000"/><rect x="600.6" y="350.00" width="44.2" height="1.75" fill="#064000"/><rect x="600.6" y="351.50" width="44.2" height="2.25" fill="#0a7000"/><rect x="600.6" y="353.50" width="44.2" height="2.75" fill="#10f8c8"/><rect x="600.6" y="356.00" width="44.2" height="2.25" fill="#064000"/><rect x="600.6" y="358.00" width="44.2" height="2.25" fill="#0a5088"/><rect x="600.6" y="360.00" width="44.2" height="2.75" fill="#10f8c8"/><rect x="600.6" y="362.50" width="44.2" height="1.75" fill="#0a7000"/><rect x="600.6" y="364.00" width="44.2" height="1.25" fill="#10f8c8"/><rect x="600.6" y="365.00" width="44.2" height="3.25" fill="#0a7000"/><rect x="600.6" y="368.00" width="44.2" height="1.75" fill="#10f8c8"/><rect x="600.6" y="369.50" width="44.2" height="2.75" fill="#003060"/><rect x="600.6" y="372.00" width="44.2" height="3.25" fill="#0078d8"/><rect x="600.6" y="375.00" width="44.2" height="5.75" fill="#10f8c8"/><rect x="600.6" y="380.50" width="44.2" height="1.75" fill="#003848"/><rect x="600.6" y="382.00" width="44.2" height="7.05" fill="#10f8c8"/><rect x="600.6" y="388.80" width="44.2" height="4.45" fill="#003060"/><rect x="600.6" y="393.00" width="44.2" height="1.25" fill="#008888"/><rect x="600.6" y="394.00" width="44.2" height="2.25" fill="#003060"/><rect x="600.6" y="396.00" width="44.2" height="2.25" fill="#087868"/><rect x="600.6" y="398.00" width="44.2" height="1.25" fill="#003848"/><rect x="600.6" y="399.00" width="44.2" height="1.25" fill="#087868"/><rect x="600.6" y="400.00" width="44.2" height="2.25" fill="#10f8c8"/><rect x="600.6" y="402.00" width="44.2" height="3.25" fill="#0a7000"/><rect x="600.6" y="405.00" width="44.2" height="4.25" fill="#10f8c8"/><rect x="600.6" y="409.00" width="44.2" height="1.25" fill="#064000"/><rect x="600.6" y="410.00" width="44.2" height="5.25" fill="#10f8c8"/><rect x="600.6" y="415.00" width="44.2" height="17.25" fill="#9900ff"/>
<line x1="600.6" y1="64.8" x2="600.6" y2="432.2" stroke="#4a4a3a" stroke-width="0.5"/>
<line x1="644.8" y1="64.8" x2="644.8" y2="432.2" stroke="#33332a" stroke-width="0.8"/>
<rect x="933.1" y="64.50" width="44.6" height="8.05" fill="#008000"/><rect x="933.1" y="72.30" width="44.6" height="1.65" fill="#051a00"/><rect x="933.1" y="73.70" width="44.6" height="12.85" fill="#008000"/><rect x="933.1" y="86.30" width="44.6" height="1.65" fill="#051a00"/><rect x="933.1" y="87.70" width="44.6" height="4.95" fill="#008000"/><rect x="933.1" y="92.40" width="44.6" height="2.35" fill="#051a00"/><rect x="933.1" y="94.50" width="44.6" height="7.75" fill="#008000"/><rect x="933.1" y="102.00" width="44.6" height="5.25" fill="#ffee00"/><rect x="933.1" y="107.00" width="44.6" height="2.45" fill="#3a6e10"/><rect x="933.1" y="109.20" width="44.6" height="2.55" fill="#403400"/><rect x="933.1" y="111.50" width="44.6" height="2.95" fill="#3a9674"/><rect x="933.1" y="114.20" width="44.6" height="2.75" fill="#403400"/><rect x="933.1" y="116.70" width="44.6" height="3.55" fill="#4a7010"/><rect x="933.1" y="120.00" width="44.6" height="2.15" fill="#403400"/><rect x="933.1" y="121.90" width="44.6" height="1.85" fill="#3a9674"/><rect x="933.1" y="123.50" width="44.6" height="1.65" fill="#403400"/><rect x="933.1" y="124.90" width="44.6" height="1.85" fill="#40c890"/><rect x="933.1" y="126.50" width="44.6" height="1.65" fill="#3a6e10"/><rect x="933.1" y="127.90" width="44.6" height="2.05" fill="#3a9674"/><rect x="933.1" y="129.70" width="44.6" height="2.25" fill="#3a6e10"/><rect x="933.1" y="131.70" width="44.6" height="3.65" fill="#403400"/><rect x="933.1" y="135.10" width="44.6" height="3.45" fill="#3a9674"/><rect x="933.1" y="138.30" width="44.6" height="1.25" fill="#403400"/><rect x="933.1" y="139.30" width="44.6" height="1.55" fill="#40c890"/><rect x="933.1" y="140.60" width="44.6" height="1.25" fill="#403400"/><rect x="933.1" y="141.60" width="44.6" height="2.65" fill="#3a9674"/><rect x="933.1" y="144.00" width="44.6" height="1.45" fill="#3a6e10"/><rect x="933.1" y="145.20" width="44.6" height="1.55" fill="#3a9674"/><rect x="933.1" y="146.50" width="44.6" height="3.55" fill="#3a6e10"/><rect x="933.1" y="149.80" width="44.6" height="1.45" fill="#403400"/><rect x="933.1" y="151.00" width="44.6" height="3.65" fill="#4a7ab0"/><rect x="933.1" y="154.40" width="44.6" height="1.95" fill="#3a6e10"/><rect x="933.1" y="156.10" width="44.6" height="2.15" fill="#40e0b0"/><rect x="933.1" y="158.00" width="44.6" height="3.85" fill="#403400"/><rect x="933.1" y="161.60" width="44.6" height="2.65" fill="#3a9674"/><rect x="933.1" y="164.00" width="44.6" height="2.25" fill="#403400"/><rect x="933.1" y="166.00" width="44.6" height="2.25" fill="#3a6e10"/><rect x="933.1" y="168.00" width="44.6" height="1.05" fill="#3a9674"/><rect x="933.1" y="168.80" width="44.6" height="2.45" fill="#3a6e10"/><rect x="933.1" y="171.00" width="44.6" height="1.05" fill="#403400"/><rect x="933.1" y="171.80" width="44.6" height="1.95" fill="#3a6e10"/><rect x="933.1" y="173.50" width="44.6" height="1.05" fill="#3a9674"/><rect x="933.1" y="174.30" width="44.6" height="1.75" fill="#3a6e10"/><rect x="933.1" y="175.80" width="44.6" height="4.05" fill="#40f0c4"/><rect x="933.1" y="179.60" width="44.6" height="4.15" fill="#4080a0"/><rect x="933.1" y="183.50" width="44.6" height="4.75" fill="#40f0c4"/><rect x="933.1" y="188.00" width="44.6" height="8.55" fill="#30e8d8"/><rect x="933.1" y="196.30" width="44.6" height="19.85" fill="#2e6fd8"/><rect x="933.1" y="215.90" width="44.6" height="4.75" fill="#358a10"/><rect x="933.1" y="220.40" width="44.6" height="6.95" fill="#2e6fd8"/><rect x="933.1" y="227.10" width="44.6" height="2.45" fill="#358a10"/><rect x="933.1" y="229.30" width="44.6" height="5.35" fill="#2e6fd8"/><rect x="933.1" y="234.40" width="44.6" height="1.55" fill="#283a60"/><rect x="933.1" y="235.70" width="44.6" height="2.35" fill="#2e6fd8"/><rect x="933.1" y="237.80" width="44.6" height="3.25" fill="#358a10"/><rect x="933.1" y="240.80" width="44.6" height="1.95" fill="#20407a"/><rect x="933.1" y="242.50" width="44.6" height="2.75" fill="#d880c8"/><rect x="933.1" y="245.00" width="44.6" height="2.75" fill="#2e6fd8"/><rect x="933.1" y="247.50" width="44.6" height="3.95" fill="#e49ce4"/><rect x="933.1" y="251.20" width="44.6" height="1.45" fill="#705058"/><rect x="933.1" y="252.40" width="44.6" height="1.25" fill="#a07088"/><rect x="933.1" y="253.40" width="44.6" height="1.45" fill="#705058"/><rect x="933.1" y="254.60" width="44.6" height="1.25" fill="#8a6078"/><rect x="933.1" y="255.60" width="44.6" height="1.85" fill="#4a3840"/><rect x="933.1" y="257.20" width="44.6" height="12.05" fill="#358a10"/><rect x="933.1" y="269.00" width="44.6" height="4.55" fill="#e49ce4"/><rect x="933.1" y="273.30" width="44.6" height="1.95" fill="#2e6fd8"/><rect x="933.1" y="275.00" width="44.6" height="1.05" fill="#20407a"/><rect x="933.1" y="275.80" width="44.6" height="1.45" fill="#2e6fd8"/><rect x="933.1" y="277.00" width="44.6" height="2.75" fill="#c080b0"/><rect x="933.1" y="279.50" width="44.6" height="1.75" fill="#203830"/><rect x="933.1" y="281.00" width="44.6" height="1.25" fill="#2e6fd8"/><rect x="933.1" y="282.00" width="44.6" height="2.25" fill="#e49ce4"/><rect x="933.1" y="284.00" width="44.6" height="6.75" fill="#0078d8"/><rect x="933.1" y="290.50" width="44.6" height="1.75" fill="#064000"/><rect x="933.1" y="292.00" width="44.6" height="4.25" fill="#04201a"/><rect x="933.1" y="296.00" width="44.6" height="1.75" fill="#10f8c8"/><rect x="933.1" y="297.50" width="44.6" height="1.25" fill="#003848"/><rect x="933.1" y="298.50" width="44.6" height="2.25" fill="#0078d8"/><rect x="933.1" y="300.50" width="44.6" height="4.25" fill="#0a7000"/><rect x="933.1" y="304.50" width="44.6" height="6.75" fill="#0078d8"/><rect x="933.1" y="311.00" width="44.6" height="2.75" fill="#0a7000"/><rect x="933.1" y="313.50" width="44.6" height="1.75" fill="#0078d8"/><rect x="933.1" y="315.00" width="44.6" height="2.25" fill="#00b0a0"/><rect x="933.1" y="317.00" width="44.6" height="4.95" fill="#0078d8"/><rect x="933.1" y="321.70" width="44.6" height="12.15" fill="#0a7000"/><rect x="933.1" y="333.60" width="44.6" height="1.65" fill="#051a00"/><rect x="933.1" y="335.00" width="44.6" height="1.75" fill="#0078d8"/><rect x="933.1" y="336.50" width="44.6" height="1.95" fill="#003848"/><rect x="933.1" y="338.20" width="44.6" height="2.05" fill="#10f8c8"/><rect x="933.1" y="340.00" width="44.6" height="1.55" fill="#051a00"/><rect x="933.1" y="341.30" width="44.6" height="2.75" fill="#00c8d0"/><rect x="933.1" y="343.80" width="44.6" height="1.45" fill="#064000"/><rect x="933.1" y="345.00" width="44.6" height="1.45" fill="#0078d8"/><rect x="933.1" y="346.20" width="44.6" height="2.55" fill="#00e8c0"/><rect x="933.1" y="348.50" width="44.6" height="2.05" fill="#0a7000"/><rect x="933.1" y="350.30" width="44.6" height="6.15" fill="#0078d8"/><rect x="933.1" y="356.20" width="44.6" height="1.05" fill="#003848"/><rect x="933.1" y="357.00" width="44.6" height="1.75" fill="#0078d8"/><rect x="933.1" y="358.50" width="44.6" height="1.75" fill="#003060"/><rect x="933.1" y="360.00" width="44.6" height="1.85" fill="#0078d8"/><rect x="933.1" y="361.60" width="44.6" height="2.05" fill="#10f8c8"/><rect x="933.1" y="363.40" width="44.6" height="7.45" fill="#0078d8"/><rect x="933.1" y="370.60" width="44.6" height="2.65" fill="#00c8a0"/><rect x="933.1" y="373.00" width="44.6" height="1.25" fill="#051a00"/><rect x="933.1" y="374.00" width="44.6" height="24.25" fill="#0078d8"/><rect x="933.1" y="398.00" width="44.6" height="2.25" fill="#008870"/><rect x="933.1" y="400.00" width="44.6" height="12.25" fill="#0078d8"/><rect x="933.1" y="412.00" width="44.6" height="3.25" fill="#0a7000"/><rect x="933.1" y="415.00" width="44.6" height="7.75" fill="#ff9900"/>
<line x1="933.1" y1="64.2" x2="933.1" y2="422.7" stroke="#4a4a3a" stroke-width="0.5"/>
<line x1="977.7" y1="64.2" x2="977.7" y2="422.7" stroke="#33332a" stroke-width="0.8"/>
<rect x="1267.3" y="64.80" width="44.2" height="4.95" fill="#005000"/><rect x="1267.3" y="69.50" width="44.2" height="3.05" fill="#ffee00"/><rect x="1267.3" y="72.30" width="44.2" height="3.65" fill="#008000"/><rect x="1267.3" y="75.70" width="44.2" height="1.55" fill="#005000"/><rect x="1267.3" y="77.00" width="44.2" height="1.95" fill="#008000"/><rect x="1267.3" y="78.70" width="44.2" height="2.05" fill="#6b5a00"/><rect x="1267.3" y="80.50" width="44.2" height="2.25" fill="#008000"/><rect x="1267.3" y="82.50" width="44.2" height="2.95" fill="#e8d800"/><rect x="1267.3" y="85.20" width="44.2" height="1.65" fill="#008888"/><rect x="1267.3" y="86.60" width="44.2" height="3.65" fill="#005000"/><rect x="1267.3" y="90.00" width="44.2" height="1.25" fill="#008000"/><rect x="1267.3" y="91.00" width="44.2" height="1.05" fill="#051a00"/><rect x="1267.3" y="91.80" width="44.2" height="5.35" fill="#ffee00"/><rect x="1267.3" y="96.90" width="44.2" height="4.35" fill="#003010"/><rect x="1267.3" y="101.00" width="44.2" height="1.55" fill="#008888"/><rect x="1267.3" y="102.30" width="44.2" height="2.35" fill="#a09000"/><rect x="1267.3" y="104.40" width="44.2" height="2.95" fill="#005000"/><rect x="1267.3" y="107.10" width="44.2" height="2.35" fill="#607000"/><rect x="1267.3" y="109.20" width="44.2" height="2.25" fill="#008000"/><rect x="1267.3" y="111.20" width="44.2" height="1.95" fill="#6b5a00"/><rect x="1267.3" y="112.90" width="44.2" height="3.35" fill="#008000"/><rect x="1267.3" y="116.00" width="44.2" height="3.65" fill="#706000"/><rect x="1267.3" y="119.40" width="44.2" height="9.85" fill="#ff0000"/><rect x="1267.3" y="129.00" width="44.2" height="3.25" fill="#00ffff"/><rect x="1267.3" y="132.00" width="44.2" height="4.05" fill="#008000"/><rect x="1267.3" y="135.80" width="44.2" height="1.65" fill="#008888"/><rect x="1267.3" y="137.20" width="44.2" height="1.35" fill="#051a00"/><rect x="1267.3" y="138.30" width="44.2" height="2.55" fill="#008000"/><rect x="1267.3" y="140.60" width="44.2" height="1.65" fill="#008888"/><rect x="1267.3" y="142.00" width="44.2" height="3.25" fill="#005000"/><rect x="1267.3" y="145.00" width="44.2" height="2.25" fill="#a09000"/><rect x="1267.3" y="147.00" width="44.2" height="1.25" fill="#003010"/><rect x="1267.3" y="148.00" width="44.2" height="1.75" fill="#008888"/><rect x="1267.3" y="149.50" width="44.2" height="2.75" fill="#a09000"/><rect x="1267.3" y="152.00" width="44.2" height="1.25" fill="#005000"/><rect x="1267.3" y="153.00" width="44.2" height="1.25" fill="#a09000"/><rect x="1267.3" y="154.00" width="44.2" height="3.25" fill="#003010"/><rect x="1267.3" y="157.00" width="44.2" height="1.75" fill="#a09000"/><rect x="1267.3" y="158.50" width="44.2" height="3.75" fill="#005000"/><rect x="1267.3" y="162.00" width="44.2" height="5.55" fill="#ffee00"/><rect x="1267.3" y="167.30" width="44.2" height="3.75" fill="#3a7a10"/><rect x="1267.3" y="170.80" width="44.2" height="2.48" fill="#3a7a10"/><rect x="1267.3" y="173.03" width="44.2" height="2.31" fill="#403400"/><rect x="1267.3" y="175.09" width="44.2" height="1.50" fill="#3a9a74"/><rect x="1267.3" y="176.34" width="44.2" height="2.13" fill="#3a7a10"/><rect x="1267.3" y="178.22" width="44.2" height="2.04" fill="#40c898"/><rect x="1267.3" y="180.02" width="44.2" height="1.63" fill="#403400"/><rect x="1267.3" y="181.40" width="44.2" height="1.40" fill="#3a7a10"/><rect x="1267.3" y="182.55" width="44.2" height="1.91" fill="#403400"/><rect x="1267.3" y="184.20" width="44.2" height="1.13" fill="#3a9a74"/><rect x="1267.3" y="185.08" width="44.2" height="1.80" fill="#3a7a10"/><rect x="1267.3" y="186.63" width="44.2" height="1.34" fill="#3a9a74"/><rect x="1267.3" y="187.73" width="44.2" height="1.51" fill="#403400"/><rect x="1267.3" y="188.98" width="44.2" height="1.21" fill="#3a9a74"/><rect x="1267.3" y="189.94" width="44.2" height="1.59" fill="#3a7a10"/><rect x="1267.3" y="191.29" width="44.2" height="2.31" fill="#403400"/><rect x="1267.3" y="193.35" width="44.2" height="1.88" fill="#3a7a10"/><rect x="1267.3" y="194.98" width="44.2" height="1.50" fill="#403400"/><rect x="1267.3" y="196.23" width="44.2" height="2.10" fill="#3a7a10"/><rect x="1267.3" y="198.08" width="44.2" height="1.75" fill="#403400"/><rect x="1267.3" y="199.59" width="44.2" height="2.28" fill="#3a7a10"/><rect x="1267.3" y="201.61" width="44.2" height="1.43" fill="#3a9a74"/><rect x="1267.3" y="202.79" width="44.2" height="1.50" fill="#403400"/><rect x="1267.3" y="204.04" width="44.2" height="1.18" fill="#3a7a10"/><rect x="1267.3" y="204.97" width="44.2" height="1.73" fill="#403400"/><rect x="1267.3" y="206.44" width="44.2" height="1.39" fill="#3a7a10"/><rect x="1267.3" y="207.58" width="44.2" height="1.76" fill="#403400"/><rect x="1267.3" y="209.09" width="44.2" height="1.47" fill="#3a7a10"/><rect x="1267.3" y="210.30" width="44.2" height="2.25" fill="#40c898"/><rect x="1267.3" y="212.30" width="44.2" height="1.58" fill="#403400"/><rect x="1267.3" y="213.64" width="44.2" height="2.12" fill="#3a7a10"/><rect x="1267.3" y="215.51" width="44.2" height="2.47" fill="#403400"/><rect x="1267.3" y="217.73" width="44.2" height="2.46" fill="#3a7a10"/><rect x="1267.3" y="219.94" width="44.2" height="2.07" fill="#403400"/><rect x="1267.3" y="221.76" width="44.2" height="2.53" fill="#3a7a10"/><rect x="1267.3" y="224.04" width="44.2" height="1.94" fill="#403400"/><rect x="1267.3" y="225.73" width="44.2" height="1.77" fill="#3a7a10"/><rect x="1267.3" y="227.25" width="44.2" height="1.67" fill="#403400"/><rect x="1267.3" y="228.67" width="44.2" height="1.34" fill="#3a7a10"/><rect x="1267.3" y="229.76" width="44.2" height="1.36" fill="#3a9a74"/><rect x="1267.3" y="230.87" width="44.2" height="2.12" fill="#403400"/><rect x="1267.3" y="232.74" width="44.2" height="2.26" fill="#3a7a10"/><rect x="1267.3" y="234.75" width="44.2" height="2.47" fill="#403400"/><rect x="1267.3" y="236.97" width="44.2" height="1.69" fill="#3a7a10"/><rect x="1267.3" y="238.41" width="44.2" height="1.69" fill="#403400"/><rect x="1267.3" y="239.85" width="44.2" height="1.54" fill="#3a9a74"/><rect x="1267.3" y="241.14" width="44.2" height="2.18" fill="#3a7a10"/><rect x="1267.3" y="243.06" width="44.2" height="1.09" fill="#403400"/><rect x="1267.3" y="243.90" width="44.2" height="2.14" fill="#3a9a74"/><rect x="1267.3" y="245.79" width="44.2" height="2.28" fill="#403400"/><rect x="1267.3" y="247.82" width="44.2" height="2.31" fill="#3a7a10"/><rect x="1267.3" y="249.88" width="44.2" height="2.55" fill="#3a9a74"/><rect x="1267.3" y="252.18" width="44.2" height="1.07" fill="#403400"/><rect x="1267.3" y="253.00" width="44.2" height="2.25" fill="#40f0c4"/><rect x="1267.3" y="255.00" width="44.2" height="69.65" fill="#2e6fd8"/><rect x="1267.3" y="324.40" width="44.2" height="0.85" fill="#203830"/><rect x="1267.3" y="325.00" width="44.2" height="3.55" fill="#40f0c4"/><rect x="1267.3" y="328.30" width="44.2" height="0.85" fill="#203830"/><rect x="1267.3" y="328.90" width="44.2" height="6.75" fill="#2e6fd8"/><rect x="1267.3" y="335.40" width="44.2" height="1.85" fill="#30a080"/><rect x="1267.3" y="337.00" width="44.2" height="7.75" fill="#2e6fd8"/><rect x="1267.3" y="344.50" width="44.2" height="70.75" fill="#a8bcae"/><rect x="1267.3" y="415.00" width="44.2" height="7.75" fill="#9900ff"/>
<rect x="1267.3" y="172.0" width="44.2" height="1.40" fill="#40d0a0"/>
<rect x="1267.3" y="175.6" width="44.2" height="1.40" fill="#40d0a0"/>
<rect x="1267.3" y="188.2" width="44.2" height="1.80" fill="#3aa880"/>
<rect x="1267.3" y="195.2" width="44.2" height="3.20" fill="#40e8b8"/>
<rect x="1267.3" y="203.4" width="44.2" height="1.40" fill="#3aa880"/>
<rect x="1267.3" y="211.2" width="44.2" height="2.40" fill="#40e8b8"/>
<rect x="1267.3" y="216.0" width="44.2" height="1.50" fill="#3aa880"/>
<rect x="1267.3" y="219.4" width="44.2" height="3.60" fill="#40f8c8"/>
<rect x="1267.3" y="230.2" width="44.2" height="2.00" fill="#40f0c0"/>
<rect x="1267.3" y="238.6" width="44.2" height="2.80" fill="#40f0c0"/>
<rect x="1267.3" y="246.6" width="44.2" height="1.60" fill="#3aa880"/>
<rect x="1267.3" y="250.6" width="44.2" height="2.80" fill="#40f0c0"/>
<line x1="1267.3" y1="64.2" x2="1267.3" y2="422.7" stroke="#4a4a3a" stroke-width="0.5"/>
<line x1="1311.5" y1="64.2" x2="1311.5" y2="422.7" stroke="#33332a" stroke-width="0.8"/>
</g>
<g id="cores">
<rect x="201.8" y="305.5" width="109.6" height="13.0" fill="#fdeedd"/>
<rect x="230.4" y="305.6" width="81.0" height="6.6" fill="#acd2ca"/>
<rect x="204.0" y="313.2" width="107.4" height="5.0" fill="#b4d6cd"/>
<rect x="204.0" y="312.3" width="107.4" height="0.9" fill="#6f8a80"/>
<path fill="#8a5e48" d="M231.5 308.4h1.2v0.7h-1.2zM260.4 307.9h0.9v1.0h-0.9zM255.7 310.5h1.4v0.9h-1.4zM250.4 307.5h1.8v0.6h-1.8zM302.0 308.1h0.7v0.6h-0.7zM248.2 309.5h0.8v0.6h-0.8zM292.1 311.0h1.2v1.0h-1.2zM233.8 310.5h1.3v0.6h-1.3zM302.8 309.0h1.2v0.6h-1.2zM278.8 311.2h1.1v0.6h-1.1zM301.2 309.9h1.5v0.6h-1.5zM298.5 306.3h1.4v0.6h-1.4zM260.5 310.4h0.7v1.1h-0.7zM291.8 308.2h1.1v0.6h-1.1zM245.6 307.0h1.2v0.8h-1.2zM244.6 310.2h0.7v0.7h-0.7zM308.5 306.8h1.7v0.9h-1.7zM250.9 308.3h1.7v0.6h-1.7zM237.4 310.7h1.6v0.7h-1.6zM255.1 309.2h1.2v0.9h-1.2zM293.6 308.9h1.4v0.7h-1.4zM286.7 306.2h1.4v0.8h-1.4zM261.8 310.9h1.5v0.5h-1.5zM284.7 307.3h1.3v0.8h-1.3zM235.4 310.8h1.5v0.9h-1.5zM241.3 307.1h0.9v0.5h-0.9zM299.3 310.9h1.3v1.0h-1.3zM293.6 310.7h1.6v0.9h-1.6zM242.8 309.3h1.1v0.9h-1.1zM295.1 309.6h1.5v1.1h-1.5zM274.6 310.2h1.5v0.8h-1.5zM293.1 306.7h1.7v0.9h-1.7zM263.0 310.8h0.7v0.5h-0.7zM276.4 310.0h1.2v1.0h-1.2zM306.6 308.8h0.8v0.5h-0.8z"/><path fill="#a07458" d="M286.0 307.1h1.8v0.5h-1.8zM308.5 310.1h1.0v0.9h-1.0zM248.2 310.1h0.7v0.6h-0.7zM282.7 306.9h1.7v1.0h-1.7zM249.7 309.8h1.1v0.8h-1.1zM286.3 307.2h1.1v0.6h-1.1zM246.9 306.8h0.8v0.8h-0.8zM248.8 308.7h0.6v1.0h-0.6zM280.7 309.2h0.8v1.1h-0.8zM260.8 310.3h0.7v0.6h-0.7zM273.0 308.9h0.9v0.8h-0.9zM231.6 307.7h0.8v0.6h-0.8zM309.9 310.5h1.1v0.9h-1.1zM261.0 308.7h1.6v1.0h-1.6zM304.2 309.2h1.3v0.9h-1.3zM244.7 306.3h1.0v0.9h-1.0zM294.2 309.3h1.6v0.8h-1.6zM249.4 307.9h0.6v0.8h-0.6zM239.1 309.7h1.0v0.9h-1.0zM290.3 308.2h1.2v1.0h-1.2zM265.5 306.3h1.0v1.1h-1.0zM237.5 308.8h0.8v0.5h-0.8zM251.6 308.8h1.5v0.5h-1.5zM243.2 307.2h0.8v0.6h-0.8zM237.0 306.8h0.9v1.0h-0.9zM288.4 310.8h1.7v0.6h-1.7zM233.2 306.8h1.4v0.9h-1.4zM245.4 309.5h0.8v0.6h-0.8zM274.4 310.2h0.8v1.0h-0.8zM247.4 309.6h1.7v1.1h-1.7zM304.5 308.2h1.5v0.7h-1.5zM292.2 310.1h1.8v0.8h-1.8zM305.9 307.9h1.8v0.8h-1.8zM296.4 308.7h1.2v0.7h-1.2zM248.8 307.2h1.5v0.5h-1.5zM251.2 310.5h0.7v0.7h-0.7zM273.2 309.9h1.8v0.6h-1.8zM258.4 309.3h1.2v0.8h-1.2zM257.6 311.0h1.8v0.5h-1.8z"/><path fill="#6e5040" d="M243.8 308.3h1.2v0.6h-1.2zM255.2 306.6h1.6v0.9h-1.6zM265.3 307.4h1.5v0.7h-1.5zM266.5 310.6h0.8v1.1h-0.8zM257.8 306.4h1.3v0.9h-1.3zM267.8 307.0h1.4v0.7h-1.4zM305.4 307.3h0.8v0.6h-0.8zM281.3 310.5h1.2v0.8h-1.2zM256.0 306.1h0.8v0.7h-0.8zM266.5 309.5h1.4v0.9h-1.4zM309.8 309.8h1.1v0.9h-1.1zM304.2 306.3h1.1v0.8h-1.1zM268.3 311.1h0.7v0.5h-0.7zM240.2 309.6h0.7v0.6h-0.7zM294.3 310.6h1.5v0.9h-1.5zM260.3 310.1h1.7v0.9h-1.7zM252.4 311.0h1.5v0.9h-1.5zM298.8 306.7h0.8v0.9h-0.8zM245.9 308.5h1.3v0.8h-1.3zM255.6 308.3h0.7v0.9h-0.7zM279.5 309.5h1.3v0.7h-1.3zM249.7 307.7h0.8v1.1h-0.8zM237.8 307.0h1.4v0.9h-1.4zM266.5 310.9h1.8v0.9h-1.8zM302.1 306.7h1.3v0.8h-1.3zM291.8 306.6h1.2v1.0h-1.2zM308.1 307.8h0.9v0.6h-0.9zM270.8 306.9h1.4v1.1h-1.4zM251.0 310.0h0.6v1.1h-0.6zM245.4 308.6h0.9v0.5h-0.9zM269.9 308.4h1.4v0.6h-1.4zM267.9 310.5h0.6v0.8h-0.6zM298.1 308.8h1.2v0.6h-1.2zM280.0 310.5h1.5v1.1h-1.5zM273.8 307.6h1.3v0.6h-1.3zM306.3 309.3h1.2v1.0h-1.2zM300.8 307.6h1.6v0.9h-1.6z"/><path fill="#b89878" d="M277.1 307.0h1.8v1.1h-1.8zM234.9 308.6h1.3v1.1h-1.3zM250.0 310.1h1.1v0.5h-1.1zM262.3 308.0h1.1v0.7h-1.1zM306.7 306.3h1.3v0.8h-1.3zM297.6 306.6h1.4v1.0h-1.4zM256.3 309.5h1.5v0.6h-1.5zM259.1 307.2h1.1v0.8h-1.1zM297.3 310.8h0.8v0.9h-0.8zM239.5 309.7h1.5v0.8h-1.5zM291.5 306.5h1.2v1.0h-1.2zM256.4 310.0h1.3v0.7h-1.3zM256.3 309.0h1.0v0.7h-1.0zM260.0 309.0h1.8v0.5h-1.8zM250.2 306.2h0.6v0.9h-0.6zM237.6 307.8h0.7v1.0h-0.7zM303.4 309.1h0.8v0.7h-0.8zM291.9 307.3h1.0v0.5h-1.0zM266.4 307.7h1.7v0.7h-1.7zM267.7 309.8h0.8v1.0h-0.8zM281.4 309.6h1.8v0.7h-1.8zM302.2 307.4h1.1v0.9h-1.1zM264.6 307.9h1.3v0.9h-1.3zM264.3 307.2h0.7v0.6h-0.7zM266.5 306.0h1.0v1.0h-1.0zM232.4 311.1h0.8v1.1h-0.8z"/><path fill="#7f9f98" d="M302.2 309.0h0.8v1.0h-0.8zM293.9 306.7h0.8v1.0h-0.8zM249.9 307.4h1.4v0.8h-1.4zM271.7 309.3h0.9v0.8h-0.9zM247.2 311.1h1.5v0.6h-1.5zM274.9 307.1h0.6v1.0h-0.6zM266.6 306.2h0.8v0.8h-0.8zM300.9 306.5h1.2v0.5h-1.2zM309.5 308.3h1.3v1.0h-1.3zM251.2 310.3h1.5v1.1h-1.5zM304.0 308.2h1.6v0.5h-1.6zM292.4 310.0h1.5v0.7h-1.5zM252.6 307.8h1.1v1.0h-1.1zM293.3 310.5h1.6v0.9h-1.6zM274.9 309.8h0.7v0.6h-0.7zM261.0 307.2h1.6v0.6h-1.6zM247.1 311.0h1.2v0.7h-1.2zM234.3 310.9h1.4v0.7h-1.4zM289.2 306.3h0.6v0.6h-0.6zM269.4 309.8h0.8v0.6h-0.8zM279.7 310.2h1.6v1.0h-1.6zM281.0 309.2h1.4v0.8h-1.4zM240.6 306.4h1.7v1.1h-1.7zM295.6 309.0h1.5v0.6h-1.5zM256.4 306.5h1.5v0.8h-1.5zM274.3 311.1h1.4v0.9h-1.4zM284.5 307.3h1.8v1.0h-1.8zM255.4 309.2h1.7v0.8h-1.7zM274.3 309.9h1.2v0.7h-1.2zM256.3 308.6h1.5v0.9h-1.5zM235.6 309.3h1.8v0.7h-1.8zM297.5 308.5h1.4v1.0h-1.4zM278.3 309.9h1.8v0.6h-1.8z"/>
<path fill="#8a5e48" d="M260.4 315.3h1.1v0.8h-1.1zM233.9 316.4h1.5v1.0h-1.5zM306.1 315.5h0.7v0.9h-0.7zM217.9 316.5h1.4v1.1h-1.4zM281.6 315.3h1.2v1.0h-1.2zM287.8 313.7h1.2v0.7h-1.2zM206.5 315.3h0.9v0.9h-0.9zM303.1 314.8h1.1v0.5h-1.1zM242.5 314.0h1.0v0.7h-1.0zM296.2 316.4h1.8v1.0h-1.8zM223.6 313.7h1.5v0.9h-1.5zM283.6 314.6h1.8v0.7h-1.8zM308.4 315.3h1.6v1.0h-1.6zM208.0 313.8h1.1v0.8h-1.1zM229.2 315.0h0.7v1.1h-0.7zM282.5 314.9h1.3v0.8h-1.3zM260.1 315.1h1.1v1.0h-1.1zM265.3 317.2h1.1v0.7h-1.1zM245.3 313.8h1.7v0.7h-1.7zM273.5 314.8h1.6v0.9h-1.6zM241.3 313.5h1.3v0.8h-1.3zM307.9 314.3h1.3v0.9h-1.3zM251.9 313.4h1.6v0.7h-1.6zM254.9 314.2h1.2v0.7h-1.2zM242.8 315.6h0.9v1.1h-0.9zM305.4 315.5h1.2v0.5h-1.2zM270.6 313.6h1.3v1.0h-1.3zM303.5 315.7h1.0v0.7h-1.0zM209.2 315.2h1.5v0.6h-1.5zM304.7 316.3h1.7v1.0h-1.7zM262.3 314.9h1.2v1.1h-1.2zM308.3 315.4h1.2v1.0h-1.2zM207.3 316.5h1.5v0.9h-1.5zM246.0 314.3h1.4v0.9h-1.4zM290.3 315.0h1.1v1.1h-1.1zM283.8 317.0h1.7v0.9h-1.7zM295.0 313.7h0.7v0.6h-0.7zM215.5 316.8h1.8v0.6h-1.8z"/><path fill="#a07458" d="M251.5 315.3h0.7v0.5h-0.7zM250.0 315.7h1.6v0.6h-1.6zM243.3 313.7h0.9v0.7h-0.9zM298.0 314.9h0.9v0.9h-0.9zM219.5 315.7h1.2v0.5h-1.2zM224.8 316.4h1.6v0.8h-1.6zM275.6 316.3h1.7v0.9h-1.7zM205.8 314.5h0.9v0.9h-0.9zM279.3 317.0h1.4v0.8h-1.4zM219.2 316.9h1.1v0.6h-1.1zM280.3 314.4h1.8v1.0h-1.8zM266.1 314.0h0.9v0.6h-0.9zM211.3 314.1h1.5v1.1h-1.5zM231.8 314.1h0.9v1.1h-0.9zM295.4 316.8h0.9v0.9h-0.9zM267.8 314.9h1.3v0.9h-1.3zM249.0 317.1h1.6v0.8h-1.6zM255.3 316.8h1.3v0.6h-1.3zM291.4 315.0h1.4v0.9h-1.4zM253.1 314.8h1.5v0.7h-1.5zM272.2 314.5h1.2v0.7h-1.2zM265.3 316.8h1.3v1.0h-1.3zM212.4 315.2h1.5v1.0h-1.5zM256.9 313.5h1.6v0.8h-1.6zM281.3 314.5h0.7v1.0h-0.7zM250.4 314.1h1.1v0.9h-1.1zM273.1 313.5h1.8v0.7h-1.8zM230.7 315.8h1.5v0.7h-1.5zM251.5 315.0h1.1v0.9h-1.1zM298.8 314.4h1.8v1.0h-1.8zM309.6 316.2h1.6v1.0h-1.6zM267.9 315.7h0.9v0.7h-0.9zM211.5 314.5h1.3v0.8h-1.3zM266.2 315.5h1.2v0.5h-1.2zM272.9 316.5h1.1v0.7h-1.1zM286.7 317.0h1.7v0.5h-1.7zM218.1 315.5h0.7v0.9h-0.7zM256.3 314.5h1.0v0.9h-1.0zM207.2 316.2h0.6v0.6h-0.6zM253.7 316.7h1.3v0.5h-1.3zM267.7 317.2h1.4v0.5h-1.4zM225.9 314.3h1.6v0.8h-1.6z"/><path fill="#6e5040" d="M263.8 315.1h1.4v1.0h-1.4zM230.3 315.2h0.8v0.6h-0.8zM309.7 313.5h1.1v1.1h-1.1zM250.9 314.5h0.7v0.8h-0.7zM283.2 314.7h1.3v0.8h-1.3zM233.6 315.9h0.7v1.0h-0.7zM216.4 315.5h0.8v0.8h-0.8zM268.4 316.5h1.3v0.6h-1.3zM226.8 314.5h1.6v0.7h-1.6zM241.1 315.8h0.9v1.0h-0.9zM271.2 316.7h1.8v0.7h-1.8zM304.2 316.1h1.1v0.9h-1.1zM244.1 315.4h1.0v0.8h-1.0zM234.4 313.7h1.4v1.1h-1.4zM228.4 314.9h0.8v0.9h-0.8zM294.7 316.4h0.9v0.6h-0.9zM264.0 316.8h1.8v0.8h-1.8zM246.2 316.6h0.6v0.6h-0.6zM238.2 314.8h0.7v1.0h-0.7zM294.7 314.1h1.4v1.1h-1.4zM236.8 317.0h1.5v0.8h-1.5zM249.6 316.3h0.9v0.8h-0.9zM276.2 313.5h1.0v0.5h-1.0zM256.9 316.5h0.8v1.0h-0.8zM255.6 315.6h0.8v0.5h-0.8zM277.8 315.4h0.8v1.1h-0.8zM239.7 315.0h1.7v0.9h-1.7zM215.1 314.4h1.0v0.6h-1.0zM220.3 316.0h1.5v0.8h-1.5zM289.7 313.8h1.2v0.6h-1.2z"/><path fill="#b89878" d="M262.2 316.2h1.7v0.6h-1.7zM270.7 315.4h1.8v0.8h-1.8zM227.5 315.1h1.4v0.6h-1.4zM246.0 314.0h0.7v0.6h-0.7zM233.8 314.4h1.1v0.9h-1.1zM224.8 314.5h1.5v0.6h-1.5zM272.7 314.3h0.7v0.6h-0.7zM279.0 316.7h1.1v0.9h-1.1zM219.2 314.7h1.2v0.7h-1.2zM241.6 315.4h1.5v0.9h-1.5zM260.8 317.1h0.7v0.8h-0.7zM291.6 316.5h1.4v1.1h-1.4zM249.2 316.4h1.7v1.1h-1.7zM299.1 316.2h1.0v0.7h-1.0zM258.7 315.8h1.5v0.6h-1.5zM245.3 315.9h0.8v1.0h-0.8zM282.4 317.1h0.8v0.7h-0.8zM295.0 316.8h1.7v1.1h-1.7zM278.4 314.9h0.7v1.1h-0.7zM244.5 313.9h1.5v1.1h-1.5zM288.8 316.4h0.7v1.1h-0.7zM217.9 313.8h1.7v0.7h-1.7zM229.9 314.3h0.9v1.0h-0.9zM249.7 315.7h1.6v0.9h-1.6zM277.0 314.2h1.4v0.7h-1.4zM308.4 316.9h1.0v0.8h-1.0zM300.9 316.9h1.0v1.1h-1.0zM242.3 314.9h1.0v0.8h-1.0zM230.9 315.6h1.6v0.5h-1.6zM219.5 313.5h1.2v0.7h-1.2zM221.5 314.2h1.4v0.8h-1.4zM283.1 315.9h1.6v0.9h-1.6zM298.1 313.6h0.7v0.7h-0.7zM288.3 317.1h1.7v0.9h-1.7zM267.0 316.8h0.7v0.6h-0.7zM255.6 315.1h0.6v0.8h-0.6zM285.5 316.8h1.0v1.0h-1.0zM294.9 314.4h1.2v0.7h-1.2zM251.3 314.8h1.3v0.6h-1.3zM258.1 316.6h1.8v1.0h-1.8zM206.1 315.0h1.8v1.0h-1.8z"/><path fill="#7f9f98" d="M220.6 315.7h0.8v0.9h-0.8zM224.2 314.5h1.1v0.8h-1.1zM269.2 315.1h1.2v0.6h-1.2zM231.0 313.7h1.0v0.9h-1.0zM272.4 315.2h1.7v0.8h-1.7zM277.0 314.9h1.5v0.9h-1.5zM217.6 315.2h1.6v0.7h-1.6zM278.3 315.9h1.7v0.6h-1.7zM247.5 316.2h0.7v1.0h-0.7zM302.4 315.2h1.7v0.5h-1.7zM284.5 317.0h0.6v0.8h-0.6zM294.1 315.8h0.9v0.6h-0.9zM226.8 313.5h0.8v0.6h-0.8zM230.3 314.9h1.2v1.0h-1.2zM253.7 316.6h1.2v0.5h-1.2zM244.3 313.5h0.7v1.1h-0.7zM217.0 316.4h1.7v1.1h-1.7zM261.1 314.0h1.1v0.9h-1.1zM294.2 315.2h1.7v0.6h-1.7zM213.4 315.9h0.8v0.5h-0.8zM225.1 315.6h1.8v0.7h-1.8zM205.6 316.7h0.9v0.8h-0.9zM243.4 316.3h0.9v0.7h-0.9zM230.6 314.9h1.7v0.9h-1.7zM276.0 313.5h1.1v0.6h-1.1zM265.1 316.7h1.1v0.9h-1.1zM243.4 316.5h1.0v0.8h-1.0zM302.3 316.7h1.1v1.1h-1.1zM224.6 316.6h0.9v1.0h-0.9zM309.2 315.8h0.7v0.8h-0.7zM292.1 317.0h1.0v0.8h-1.0zM283.4 313.9h0.9v1.1h-0.9zM240.6 316.8h1.3v0.7h-1.3zM221.3 315.7h1.5v0.9h-1.5zM294.9 317.1h0.8v0.7h-0.8zM245.3 316.0h1.6v0.7h-1.6zM261.6 314.1h1.7v1.1h-1.7zM229.3 314.4h1.4v0.7h-1.4zM266.0 316.7h1.6v0.7h-1.6z"/>
<path fill="#777" d="M227.5 308.6h2.0v0.9h-2.0zM225.5 310.6h0.8v0.5h-0.8zM218.4 311.1h0.7v1.1h-0.7zM210.2 309.6h2.1v0.9h-2.1zM217.2 309.8h1.2v0.8h-1.2z"/><path fill="#999" d="M220.8 310.8h2.0v0.9h-2.0zM219.0 307.9h2.0v1.0h-2.0zM213.5 309.2h2.4v0.9h-2.4zM224.0 309.8h2.3v1.0h-2.3zM208.0 308.9h2.3v0.8h-2.3z"/>
<line x1="201.8" y1="304.8" x2="311.4" y2="304.8" stroke="#ff1c10" stroke-width="1.9"/>
<line x1="201.8" y1="318.9" x2="311.4" y2="318.9" stroke="#ff1c10" stroke-width="1.9"/>
<rect x="424.4" y="236.0" width="110.0" height="30.5" fill="#fdeedd"/>
<rect x="463.5" y="236.2" width="70.9" height="3.0" fill="#f7cc98"/>
<rect x="463.5" y="239.0" width="70.9" height="19.2" fill="#acd2ca"/>
<rect x="440.0" y="255.8" width="24.0" height="2.4" fill="#9fc8c0"/>
<rect x="463.5" y="258.2" width="70.9" height="7.8" fill="#f9c88e"/>
<line x1="463.8" y1="236" x2="463.8" y2="266" stroke="#6a5a4a" stroke-width="1.3"/>
<line x1="424.4" y1="258.4" x2="463.4" y2="258.4" stroke="#9a8a78" stroke-width="0.7"/>
<line x1="424.4" y1="264.8" x2="463.4" y2="264.8" stroke="#9a8a78" stroke-width="0.7"/>
<path fill="#8a5e48" d="M482.9 242.5h1.7v0.9h-1.7zM494.4 244.5h1.8v1.0h-1.8zM486.0 253.5h1.6v0.5h-1.6zM510.0 245.9h0.8v0.8h-0.8zM501.0 240.8h0.7v0.8h-0.7zM480.0 243.9h1.3v1.1h-1.3zM507.9 254.6h1.4v1.1h-1.4zM487.8 240.5h1.3v0.8h-1.3zM505.6 251.9h1.8v0.6h-1.8zM489.3 251.8h1.6v0.6h-1.6zM505.6 249.9h1.8v0.8h-1.8zM507.4 253.1h0.6v0.6h-0.6zM472.6 251.4h1.8v0.8h-1.8zM498.7 239.9h0.8v0.5h-0.8zM513.7 250.6h1.9v0.8h-1.9zM474.9 251.8h1.2v1.0h-1.2zM509.0 256.6h0.7v0.6h-0.7zM532.5 247.1h0.7v0.9h-0.7zM520.0 255.5h0.7v1.0h-0.7zM487.8 246.1h1.8v1.0h-1.8zM473.4 239.6h1.0v0.9h-1.0zM503.9 240.3h1.0v0.9h-1.0zM487.5 245.1h1.4v0.8h-1.4zM494.4 255.9h1.4v1.0h-1.4zM519.7 244.7h1.1v0.6h-1.1zM533.0 252.7h1.9v1.1h-1.9zM479.5 253.4h0.7v1.0h-0.7zM510.8 244.9h2.0v0.9h-2.0zM470.8 241.4h1.3v0.8h-1.3zM499.4 250.1h0.8v0.6h-0.8zM477.6 249.5h1.7v0.6h-1.7zM488.5 250.7h2.0v1.0h-2.0zM480.2 242.8h1.9v1.1h-1.9zM528.8 244.2h1.9v1.0h-1.9zM496.7 248.8h1.3v0.6h-1.3zM506.4 247.9h2.0v0.9h-2.0zM514.7 244.8h1.3v0.7h-1.3zM483.6 249.9h0.8v1.1h-0.8zM483.3 240.6h1.0v0.9h-1.0zM518.8 245.3h1.3v0.7h-1.3zM505.1 255.8h2.0v0.6h-2.0zM521.3 243.4h0.9v0.6h-0.9zM471.3 248.0h0.6v0.8h-0.6zM491.9 240.5h1.6v0.9h-1.6zM496.7 252.2h1.3v0.9h-1.3zM506.6 245.0h1.5v0.8h-1.5zM526.3 242.8h1.5v0.6h-1.5zM530.0 257.2h1.3v0.8h-1.3zM469.8 240.2h1.7v0.8h-1.7zM469.3 250.1h1.4v0.7h-1.4zM529.6 239.4h0.7v0.7h-0.7zM529.6 249.2h1.3v0.9h-1.3zM489.0 248.7h0.7v0.7h-0.7zM489.6 247.3h0.6v0.8h-0.6zM522.5 251.7h0.7v0.8h-0.7zM519.4 250.7h0.9v0.6h-0.9zM528.4 255.1h0.8v1.0h-0.8zM484.5 247.3h0.6v0.6h-0.6zM476.7 255.8h0.9v0.9h-0.9zM469.8 246.2h0.9v0.6h-0.9zM516.5 250.0h1.8v0.8h-1.8zM468.5 243.7h1.0v1.0h-1.0zM476.7 240.6h1.6v0.8h-1.6zM510.0 247.0h1.7v0.6h-1.7zM511.9 244.7h1.3v0.6h-1.3zM491.0 243.0h1.4v0.7h-1.4zM512.6 243.0h1.7v0.7h-1.7zM514.3 254.6h1.9v0.8h-1.9zM481.1 249.4h0.9v1.0h-0.9zM476.6 240.9h1.4v0.6h-1.4zM531.7 245.8h1.1v0.8h-1.1zM474.0 250.9h1.8v0.7h-1.8zM488.4 247.8h1.1v1.0h-1.1zM479.4 248.9h1.4v0.7h-1.4zM506.7 242.5h1.6v0.9h-1.6zM468.1 242.8h1.3v0.8h-1.3zM508.3 250.9h1.0v1.0h-1.0zM521.9 254.2h1.8v0.6h-1.8zM484.7 241.9h0.9v0.9h-0.9zM467.9 250.6h1.8v0.5h-1.8zM467.2 247.7h1.9v0.7h-1.9zM482.8 253.2h1.0v0.8h-1.0zM495.0 241.2h0.7v0.9h-0.7zM501.8 246.2h1.2v0.8h-1.2zM499.2 247.3h1.4v1.1h-1.4zM501.7 253.9h1.4v0.7h-1.4zM516.0 253.9h2.0v0.8h-2.0zM531.8 254.9h1.0v1.0h-1.0zM486.3 240.9h1.2v0.7h-1.2zM518.6 253.9h0.8v0.9h-0.8zM533.3 249.4h1.5v1.1h-1.5zM527.8 245.2h1.4v0.7h-1.4zM496.1 251.1h1.0v0.8h-1.0zM502.1 246.2h1.5v0.6h-1.5zM517.9 239.5h0.7v1.0h-0.7zM533.0 247.8h1.7v0.9h-1.7zM521.7 249.3h0.7v0.9h-0.7zM504.4 240.3h1.6v0.6h-1.6zM495.5 244.7h0.7v1.0h-0.7zM466.4 243.7h0.8v1.0h-0.8zM498.6 255.6h0.8v1.0h-0.8zM465.4 256.9h1.2v1.0h-1.2zM524.0 253.6h1.5v0.6h-1.5zM497.2 241.5h0.8v0.6h-0.8zM513.7 251.9h1.3v1.0h-1.3zM492.6 254.2h0.8v1.0h-0.8zM529.5 243.9h1.3v0.9h-1.3zM520.0 253.1h1.8v1.0h-1.8zM476.6 241.5h0.9v0.6h-0.9zM531.7 252.2h1.9v0.7h-1.9zM499.7 240.4h1.0v1.0h-1.0zM477.9 244.3h1.7v1.0h-1.7zM474.5 256.5h1.6v0.6h-1.6zM525.7 243.1h0.7v0.8h-0.7zM486.9 246.3h0.8v0.8h-0.8zM494.7 246.3h1.4v0.8h-1.4zM469.1 247.9h0.9v0.7h-0.9zM496.0 244.7h0.7v0.6h-0.7zM475.4 254.4h0.9v0.9h-0.9zM528.4 250.7h2.0v1.1h-2.0zM501.3 252.5h1.4v0.9h-1.4zM475.2 242.8h2.0v0.7h-2.0zM473.0 246.2h1.9v0.6h-1.9zM466.7 253.1h1.1v0.5h-1.1zM525.6 241.1h1.4v0.5h-1.4zM473.7 241.6h1.7v0.5h-1.7zM528.3 256.4h1.8v1.1h-1.8zM501.8 240.5h1.2v0.9h-1.2zM501.4 252.0h1.6v0.7h-1.6zM492.8 252.4h0.6v0.7h-0.6zM468.0 247.5h0.7v0.7h-0.7zM496.8 239.6h0.7v0.5h-0.7zM529.1 240.6h1.5v0.7h-1.5zM467.6 240.6h1.1v0.7h-1.1zM527.9 251.9h1.4v0.6h-1.4zM466.6 246.2h0.8v1.0h-0.8zM475.6 248.4h1.0v0.6h-1.0zM505.5 247.8h1.1v0.8h-1.1zM526.8 254.7h0.8v1.1h-0.8zM527.9 242.4h1.2v1.0h-1.2zM480.7 251.4h0.7v1.0h-0.7zM516.8 250.0h0.7v1.1h-0.7zM523.4 251.0h1.3v0.9h-1.3zM474.6 255.6h0.7v0.9h-0.7zM513.9 240.0h0.9v0.6h-0.9zM516.0 254.9h1.8v0.5h-1.8zM473.2 246.1h1.5v0.7h-1.5zM494.6 242.5h2.0v0.7h-2.0zM476.8 239.3h1.4v0.6h-1.4zM476.5 256.1h1.2v1.0h-1.2zM504.4 256.9h0.9v0.8h-0.9zM489.2 249.0h0.8v0.6h-0.8zM472.7 251.0h0.9v0.8h-0.9zM485.8 248.4h1.6v0.9h-1.6zM506.9 240.0h1.2v0.8h-1.2zM509.4 255.9h0.8v0.6h-0.8zM507.1 251.6h0.8v0.7h-0.8zM487.2 252.3h0.9v0.8h-0.9zM528.9 251.1h0.7v0.6h-0.7zM483.5 253.9h1.3v0.9h-1.3z"/><path fill="#a07458" d="M474.1 249.4h1.3v0.8h-1.3zM525.2 244.1h0.9v0.6h-0.9zM490.2 254.9h1.3v1.0h-1.3zM467.1 252.3h1.3v0.5h-1.3zM518.8 246.7h1.9v1.1h-1.9zM478.7 248.4h2.0v0.8h-2.0zM521.3 246.5h1.2v0.8h-1.2zM513.2 246.0h0.7v0.6h-0.7zM511.0 245.9h2.0v0.6h-2.0zM474.8 250.8h1.8v1.0h-1.8zM498.7 248.6h1.8v0.5h-1.8zM516.1 253.0h1.4v1.0h-1.4zM493.7 243.4h1.1v0.6h-1.1zM515.6 252.1h1.4v1.0h-1.4zM498.7 256.1h1.7v0.8h-1.7zM473.7 246.5h1.0v0.9h-1.0zM512.6 244.4h1.6v0.8h-1.6zM519.5 245.1h1.1v0.7h-1.1zM482.2 240.4h1.7v0.6h-1.7zM504.8 245.6h1.6v0.6h-1.6zM490.5 245.6h1.5v0.8h-1.5zM484.6 243.5h0.7v0.9h-0.7zM524.3 245.6h1.3v0.9h-1.3zM489.4 247.2h0.9v0.6h-0.9zM527.3 250.7h0.7v0.8h-0.7zM474.1 254.9h1.8v0.6h-1.8zM469.5 246.2h1.4v0.6h-1.4zM508.7 245.9h0.8v0.6h-0.8zM492.4 250.0h0.7v0.7h-0.7zM525.8 255.4h0.7v1.0h-0.7zM487.5 251.7h1.2v1.1h-1.2zM472.5 252.8h2.0v0.6h-2.0zM494.5 242.6h0.9v0.9h-0.9zM471.1 240.8h1.2v0.7h-1.2zM472.2 252.0h1.0v0.7h-1.0zM499.1 256.8h1.2v0.9h-1.2zM530.5 240.2h1.6v1.0h-1.6zM528.0 256.5h1.1v0.9h-1.1zM531.1 256.9h1.3v0.7h-1.3zM474.0 246.8h1.1v0.6h-1.1zM528.4 247.9h0.8v0.7h-0.8zM514.0 246.5h1.6v0.6h-1.6zM486.9 251.8h1.2v0.9h-1.2zM496.1 241.4h0.7v0.5h-0.7zM513.6 251.2h1.9v0.9h-1.9zM495.2 247.9h1.7v1.0h-1.7zM475.8 248.3h0.6v0.9h-0.6zM505.7 242.2h1.2v0.6h-1.2zM493.2 250.3h0.7v1.0h-0.7zM478.6 246.0h0.9v0.7h-0.9zM465.5 257.1h1.3v0.9h-1.3zM475.0 239.6h1.3v0.9h-1.3zM521.6 256.7h0.7v0.7h-0.7zM499.6 257.2h1.3v0.5h-1.3zM470.8 251.9h1.9v1.0h-1.9zM532.7 240.9h1.8v0.7h-1.8zM489.4 249.4h1.0v1.1h-1.0zM510.9 255.6h0.9v1.0h-0.9zM487.7 247.8h1.5v0.6h-1.5zM480.5 239.7h1.0v1.0h-1.0zM479.0 248.1h0.8v0.7h-0.8zM484.8 249.3h1.6v1.0h-1.6zM481.7 244.4h0.7v0.8h-0.7zM465.1 255.4h1.3v1.0h-1.3zM479.5 250.5h1.2v0.8h-1.2zM484.6 246.9h1.1v0.5h-1.1zM476.4 251.1h1.4v0.9h-1.4zM489.3 249.6h1.0v0.7h-1.0zM476.0 256.6h1.9v1.0h-1.9zM494.2 253.0h1.4v0.7h-1.4zM479.9 255.6h1.3v0.7h-1.3zM529.5 240.9h1.8v0.6h-1.8zM533.3 254.8h1.7v0.7h-1.7zM512.3 245.4h0.8v0.9h-0.8zM487.7 247.2h0.7v0.7h-0.7zM529.9 247.6h0.9v1.1h-0.9zM480.9 245.1h1.3v0.8h-1.3zM513.1 240.8h1.9v0.8h-1.9zM503.6 256.4h0.9v1.1h-0.9zM522.9 243.1h1.8v0.9h-1.8zM503.1 248.7h1.6v0.6h-1.6zM532.0 245.5h1.8v0.7h-1.8zM490.1 246.6h2.0v0.8h-2.0zM490.5 241.4h1.7v0.8h-1.7zM488.5 247.2h0.8v0.7h-0.8zM478.2 251.8h1.6v0.7h-1.6zM466.5 244.2h0.9v0.7h-0.9zM528.1 246.4h1.0v1.0h-1.0zM527.7 249.1h1.5v0.6h-1.5zM465.8 251.0h1.5v0.5h-1.5zM523.1 243.3h0.8v0.5h-0.8zM499.6 256.2h1.2v1.0h-1.2zM518.5 251.8h1.2v1.0h-1.2zM527.9 246.7h1.7v0.9h-1.7zM493.0 254.8h1.9v1.1h-1.9zM475.3 244.0h0.8v0.9h-0.8zM474.7 243.9h1.2v0.9h-1.2zM486.4 240.5h1.7v0.5h-1.7zM465.1 255.0h0.8v0.8h-0.8zM468.4 247.7h1.0v0.6h-1.0zM513.4 255.5h1.9v0.7h-1.9zM523.0 240.5h0.7v0.6h-0.7zM497.4 242.7h1.2v1.1h-1.2zM529.7 251.3h1.2v0.7h-1.2zM496.1 254.7h0.6v0.5h-0.6zM497.2 256.1h0.8v0.6h-0.8zM530.1 244.9h1.7v1.1h-1.7zM490.4 252.9h1.7v0.9h-1.7zM525.7 242.7h1.8v0.9h-1.8zM480.9 254.0h2.0v0.7h-2.0zM478.8 248.9h0.8v0.8h-0.8zM500.9 249.3h1.8v0.8h-1.8zM508.9 251.6h1.9v0.8h-1.9zM531.9 248.3h0.9v0.6h-0.9zM496.6 250.2h1.6v0.8h-1.6zM495.9 243.4h0.8v0.9h-0.8zM496.8 255.0h1.8v0.8h-1.8zM478.1 255.8h1.9v1.0h-1.9zM482.7 239.7h1.3v1.0h-1.3zM502.8 256.5h1.5v0.6h-1.5zM524.5 242.0h1.9v0.6h-1.9zM493.0 244.2h1.0v0.8h-1.0zM501.2 242.9h1.0v0.5h-1.0zM468.3 240.2h1.5v1.1h-1.5zM470.7 240.9h1.8v1.0h-1.8zM475.0 255.4h1.8v0.9h-1.8zM506.2 240.6h0.8v0.8h-0.8zM511.5 254.4h1.1v0.7h-1.1zM471.1 254.7h1.1v0.7h-1.1zM528.1 242.0h0.8v1.0h-0.8zM506.8 255.9h1.1v1.0h-1.1zM505.6 246.9h1.7v1.0h-1.7zM522.6 251.8h1.2v0.7h-1.2zM502.4 252.0h1.7v0.6h-1.7zM504.6 243.3h0.7v0.6h-0.7zM470.6 251.4h1.9v1.0h-1.9zM524.7 242.8h1.1v0.8h-1.1zM485.2 255.8h1.7v0.5h-1.7zM479.3 256.8h1.6v0.8h-1.6zM523.8 251.4h0.8v0.8h-0.8zM471.2 243.8h1.2v0.8h-1.2zM511.6 240.8h1.2v0.9h-1.2zM477.4 240.3h1.0v0.6h-1.0zM502.0 253.1h1.9v0.5h-1.9zM476.0 246.1h0.7v0.6h-0.7zM492.6 255.9h2.0v0.9h-2.0zM490.8 253.7h1.3v0.8h-1.3zM506.9 242.3h1.8v0.5h-1.8zM520.4 257.0h1.1v1.1h-1.1zM477.1 241.3h1.1v0.9h-1.1zM501.2 249.8h1.8v0.8h-1.8z"/><path fill="#6e5040" d="M501.6 252.9h1.7v0.9h-1.7zM499.4 243.8h1.4v0.7h-1.4zM515.5 253.2h1.4v0.8h-1.4zM496.1 239.7h0.9v0.5h-0.9zM494.4 239.7h0.6v1.1h-0.6zM464.6 242.7h1.0v1.0h-1.0zM486.2 248.7h1.1v0.7h-1.1zM527.1 239.5h1.5v0.9h-1.5zM512.4 251.3h1.9v0.5h-1.9zM483.2 254.6h1.9v0.7h-1.9zM481.6 239.3h0.9v1.1h-0.9zM490.2 240.7h1.2v0.9h-1.2zM476.8 256.8h0.9v0.9h-0.9zM520.7 254.7h1.7v0.9h-1.7zM516.5 250.1h1.4v0.7h-1.4zM519.2 244.0h1.3v0.5h-1.3zM518.2 252.0h0.8v1.0h-0.8zM482.9 257.2h1.8v0.8h-1.8zM511.1 255.3h1.3v0.6h-1.3zM478.1 240.7h0.6v0.9h-0.6zM518.0 250.3h1.4v0.6h-1.4zM493.7 242.7h1.2v1.0h-1.2zM511.3 242.8h1.5v0.9h-1.5zM474.3 240.8h0.6v0.7h-0.6zM531.6 239.3h1.5v0.9h-1.5zM485.8 245.7h1.6v0.7h-1.6zM500.2 252.9h1.9v0.7h-1.9zM507.7 241.8h1.8v0.9h-1.8zM513.7 247.2h1.3v1.1h-1.3zM468.7 243.5h1.5v1.0h-1.5zM492.6 241.7h0.9v0.7h-0.9zM498.2 242.5h2.0v0.5h-2.0zM500.8 256.6h0.8v1.0h-0.8zM491.4 249.5h0.7v0.9h-0.7zM478.9 248.1h0.6v0.6h-0.6zM494.1 254.6h1.6v0.8h-1.6zM480.2 244.9h1.2v0.6h-1.2zM513.2 255.6h0.7v0.7h-0.7zM467.3 251.0h1.4v0.6h-1.4zM517.0 250.8h1.3v0.8h-1.3zM507.4 254.4h0.8v0.7h-0.8zM491.4 248.8h0.8v0.8h-0.8zM527.7 246.0h1.5v1.0h-1.5zM532.1 241.3h1.6v0.7h-1.6zM493.1 257.1h1.1v0.7h-1.1zM502.4 245.9h1.8v0.8h-1.8zM482.3 255.9h1.2v0.6h-1.2zM532.9 244.6h0.7v1.0h-0.7zM499.4 247.7h1.7v0.6h-1.7zM524.8 252.4h0.9v0.9h-0.9zM465.0 249.1h1.0v1.0h-1.0zM531.5 243.6h1.8v0.6h-1.8zM522.7 240.5h1.4v0.8h-1.4zM519.3 248.0h1.8v0.7h-1.8zM528.2 245.1h1.4v0.5h-1.4zM519.1 242.8h1.1v0.6h-1.1zM531.6 244.7h1.3v0.9h-1.3zM506.8 251.7h1.7v1.0h-1.7zM468.3 240.1h0.7v0.6h-0.7zM499.4 247.8h1.7v0.8h-1.7zM492.0 242.8h1.6v0.9h-1.6zM503.0 253.0h1.2v0.6h-1.2zM529.1 255.5h1.8v0.9h-1.8zM531.4 254.9h1.5v0.5h-1.5zM527.3 245.7h1.5v0.6h-1.5zM517.0 240.5h1.5v0.8h-1.5zM470.9 241.1h1.8v1.0h-1.8zM465.1 254.4h1.9v0.8h-1.9zM495.7 254.6h1.7v0.9h-1.7zM533.1 249.1h1.2v1.0h-1.2zM477.3 243.6h0.9v0.7h-0.9zM512.2 251.4h0.9v0.9h-0.9zM482.7 246.4h0.8v1.1h-0.8zM472.4 249.6h0.8v1.0h-0.8zM527.6 250.6h1.6v0.5h-1.6zM496.3 255.5h1.2v0.9h-1.2zM523.5 246.2h1.3v0.9h-1.3zM511.6 241.0h1.7v0.6h-1.7zM505.7 248.8h1.3v0.8h-1.3zM513.3 240.0h1.9v0.9h-1.9zM507.8 245.2h1.5v0.9h-1.5zM477.1 241.0h1.0v1.0h-1.0zM499.3 247.7h1.8v0.9h-1.8zM515.9 241.5h0.6v0.9h-0.6zM528.2 256.2h0.8v1.1h-0.8zM490.4 246.7h1.9v0.5h-1.9zM510.7 253.1h1.5v0.7h-1.5zM499.0 257.0h2.0v1.1h-2.0zM485.9 247.5h1.6v0.6h-1.6zM486.3 251.5h1.7v1.1h-1.7zM510.7 250.3h0.9v0.7h-0.9zM504.9 241.7h1.8v1.1h-1.8zM487.1 240.3h1.5v0.7h-1.5zM520.4 245.6h1.2v1.1h-1.2zM481.0 241.6h1.0v0.7h-1.0zM479.7 248.3h1.6v0.9h-1.6zM492.4 246.6h0.6v1.0h-0.6zM483.4 250.1h0.8v0.9h-0.8zM524.9 254.2h0.6v0.7h-0.6zM486.6 251.3h1.5v0.7h-1.5zM471.3 250.2h1.7v0.8h-1.7zM526.3 255.0h1.0v0.9h-1.0zM464.7 247.3h1.4v0.9h-1.4zM482.0 252.1h1.5v0.6h-1.5zM492.4 244.2h0.7v0.9h-0.7zM496.2 247.4h1.2v0.6h-1.2zM493.6 244.3h1.8v1.1h-1.8zM464.6 244.3h0.7v0.9h-0.7zM486.5 253.4h0.6v0.9h-0.6zM494.7 250.1h0.9v0.7h-0.9zM508.0 253.3h1.5v0.6h-1.5zM505.7 251.8h0.9v0.7h-0.9zM513.9 240.5h0.8v0.9h-0.8zM488.5 252.7h1.1v1.1h-1.1zM532.2 245.3h1.8v1.0h-1.8zM478.7 250.3h0.8v0.8h-0.8zM503.8 251.4h1.7v0.9h-1.7zM499.1 253.7h1.2v0.9h-1.2zM475.0 249.2h1.3v0.9h-1.3zM511.2 240.5h1.5v1.0h-1.5zM498.1 248.9h1.6v0.8h-1.6zM527.4 254.1h0.9v1.0h-0.9zM477.5 252.0h1.8v1.0h-1.8zM480.8 245.9h0.7v1.0h-0.7zM520.8 249.6h1.6v0.7h-1.6zM521.5 249.9h1.1v0.7h-1.1zM516.1 255.3h1.2v0.7h-1.2zM478.3 245.9h0.9v0.6h-0.9zM516.6 248.0h1.7v1.0h-1.7zM490.6 253.0h1.8v0.8h-1.8zM517.6 241.4h0.7v0.5h-0.7zM532.0 254.5h0.8v0.7h-0.8zM482.0 242.0h1.5v0.8h-1.5zM504.5 251.4h0.8v0.8h-0.8zM514.3 240.9h0.8v0.5h-0.8zM507.1 256.9h1.1v0.5h-1.1zM520.1 240.9h1.4v0.8h-1.4zM518.7 252.9h1.1v0.5h-1.1zM473.6 245.2h1.2v0.8h-1.2zM482.4 256.4h1.4v0.8h-1.4zM468.0 254.1h1.1v1.1h-1.1zM487.0 249.1h1.8v0.8h-1.8zM492.7 252.9h0.9v0.9h-0.9zM502.7 249.7h1.7v0.5h-1.7zM485.5 255.8h1.7v0.9h-1.7z"/><path fill="#b89878" d="M469.1 245.1h0.6v0.7h-0.6zM507.3 244.1h1.3v0.8h-1.3zM525.2 242.7h1.2v0.9h-1.2zM488.1 242.7h1.4v1.0h-1.4zM506.7 249.6h0.9v0.5h-0.9zM474.9 249.5h1.7v0.6h-1.7zM529.5 244.5h1.9v0.8h-1.9zM486.4 254.8h1.6v0.7h-1.6zM524.9 255.5h1.4v1.1h-1.4zM517.9 243.1h1.0v0.6h-1.0zM507.8 249.2h1.8v1.1h-1.8zM499.0 253.2h1.9v0.7h-1.9zM524.4 255.6h1.9v1.0h-1.9zM477.6 246.1h1.9v0.7h-1.9zM496.0 240.7h0.8v0.8h-0.8zM495.8 255.7h1.7v1.0h-1.7zM496.2 241.5h1.1v0.5h-1.1zM508.2 247.7h2.0v1.1h-2.0zM532.4 249.7h0.9v0.5h-0.9zM483.5 251.6h1.5v0.5h-1.5zM494.7 254.6h1.6v0.5h-1.6zM532.8 244.0h1.4v0.8h-1.4zM464.9 239.5h1.8v0.7h-1.8zM496.8 240.2h1.8v0.7h-1.8zM470.2 254.9h1.0v0.9h-1.0zM500.0 242.8h1.2v0.5h-1.2zM470.5 240.1h1.2v0.9h-1.2zM532.4 248.2h1.8v0.8h-1.8zM515.7 254.4h1.0v0.8h-1.0zM523.8 254.4h1.0v0.6h-1.0zM487.3 257.2h1.3v0.8h-1.3zM487.6 255.1h0.6v0.9h-0.6zM489.5 241.5h1.4v1.1h-1.4zM496.0 252.2h1.5v0.9h-1.5zM504.7 245.9h1.4v0.6h-1.4zM498.4 246.6h1.5v0.9h-1.5zM506.0 243.5h0.7v0.7h-0.7zM525.4 241.2h0.7v0.6h-0.7zM486.5 248.1h1.9v1.0h-1.9zM530.9 246.7h1.5v1.1h-1.5zM509.8 249.3h0.8v0.9h-0.8zM493.0 249.1h1.7v0.8h-1.7zM466.3 254.2h0.8v0.5h-0.8zM489.2 249.0h1.3v0.5h-1.3zM472.5 244.6h0.9v0.7h-0.9zM524.1 248.2h1.9v0.7h-1.9zM514.0 242.6h0.7v0.9h-0.7zM509.5 250.9h2.0v0.6h-2.0zM512.2 252.9h0.9v0.6h-0.9zM466.6 255.0h0.9v0.5h-0.9zM477.4 255.0h1.7v0.8h-1.7zM513.4 251.7h1.7v0.8h-1.7zM465.9 254.8h1.8v0.7h-1.8zM499.4 248.2h0.8v0.7h-0.8zM524.9 241.2h1.7v0.8h-1.7zM522.8 248.8h0.7v0.9h-0.7zM470.3 255.0h1.4v0.5h-1.4zM474.7 247.6h0.7v0.9h-0.7zM527.6 253.2h1.9v0.6h-1.9zM468.8 243.7h1.9v0.9h-1.9zM472.5 249.4h1.6v0.8h-1.6zM487.6 256.4h1.1v0.8h-1.1zM489.7 246.2h0.8v0.7h-0.8zM503.4 239.3h1.7v0.9h-1.7zM486.7 246.3h0.8v0.9h-0.8zM511.3 245.8h1.8v1.0h-1.8zM484.5 242.5h1.5v1.1h-1.5zM486.9 253.0h1.3v0.8h-1.3zM510.5 243.5h1.8v1.0h-1.8zM472.0 245.4h1.2v0.5h-1.2zM475.0 243.5h1.8v1.0h-1.8zM488.9 244.3h0.6v0.6h-0.6zM515.2 247.6h1.8v1.0h-1.8zM519.8 250.7h1.1v0.9h-1.1zM474.7 255.7h1.1v0.6h-1.1zM468.2 240.6h2.0v0.8h-2.0zM469.1 248.4h1.7v0.6h-1.7zM531.6 250.6h1.8v1.0h-1.8zM523.8 243.7h1.1v0.6h-1.1zM513.8 253.9h1.8v0.8h-1.8zM532.7 242.6h0.9v1.0h-0.9zM471.2 240.0h1.5v0.8h-1.5zM519.4 253.1h1.1v1.0h-1.1zM496.2 247.3h0.7v0.9h-0.7zM484.5 250.9h0.9v1.0h-0.9zM526.8 250.4h1.5v0.7h-1.5zM468.8 256.3h1.2v0.8h-1.2zM499.6 239.8h0.9v1.0h-0.9zM506.5 240.6h1.4v0.5h-1.4zM487.1 245.8h0.6v0.5h-0.6zM499.0 247.2h0.9v0.8h-0.9zM514.9 251.9h0.8v0.7h-0.8zM468.5 256.8h1.7v0.9h-1.7zM522.0 250.5h1.9v1.1h-1.9zM517.8 254.7h0.6v0.7h-0.6zM465.6 252.1h0.8v0.9h-0.8zM508.0 250.9h1.3v0.7h-1.3zM500.5 255.0h1.2v0.7h-1.2zM525.1 252.7h1.0v0.9h-1.0zM517.6 245.8h1.6v0.7h-1.6zM521.7 251.0h1.1v1.0h-1.1zM473.2 245.7h1.4v0.6h-1.4zM508.5 242.9h1.0v0.7h-1.0zM496.8 245.7h1.2v0.9h-1.2zM520.8 255.8h0.9v1.0h-0.9zM471.6 241.5h1.1v0.7h-1.1zM528.9 253.2h1.1v0.5h-1.1zM496.5 255.0h1.6v0.9h-1.6zM474.0 244.7h0.8v1.0h-0.8zM476.4 249.4h0.9v0.7h-0.9zM477.0 256.6h1.7v0.8h-1.7zM477.8 254.9h1.5v1.0h-1.5zM482.3 247.0h1.4v0.5h-1.4zM524.1 255.4h1.6v0.7h-1.6zM494.4 251.1h0.6v1.1h-0.6zM497.3 249.1h1.5v1.1h-1.5zM505.1 250.6h1.3v0.6h-1.3zM479.0 248.1h1.8v0.6h-1.8zM496.8 245.9h1.6v0.8h-1.6zM502.4 248.6h1.8v0.7h-1.8zM501.2 247.7h1.3v0.7h-1.3zM480.3 255.6h1.9v0.5h-1.9zM509.0 242.3h0.8v0.6h-0.8zM513.2 246.7h1.8v0.6h-1.8zM481.3 239.3h0.8v0.7h-0.8zM528.0 256.5h0.7v0.7h-0.7zM506.3 245.3h1.3v1.0h-1.3zM491.7 249.9h0.8v1.1h-0.8zM524.4 252.4h1.0v0.5h-1.0zM527.8 247.4h1.5v0.9h-1.5zM489.0 252.5h1.0v0.7h-1.0zM505.4 250.4h1.3v0.8h-1.3zM475.2 253.2h0.7v0.5h-0.7zM489.5 252.5h1.2v0.5h-1.2zM479.7 247.7h0.9v0.6h-0.9zM494.1 254.9h1.2v0.6h-1.2zM511.9 253.3h1.6v0.6h-1.6zM502.3 250.1h1.4v1.1h-1.4zM504.4 253.7h0.7v0.5h-0.7zM522.7 246.7h1.6v0.7h-1.6zM467.8 241.3h1.2v0.7h-1.2zM517.1 241.9h1.7v0.8h-1.7zM474.8 244.8h1.1v0.6h-1.1zM494.1 241.0h1.4v1.0h-1.4zM506.4 256.1h1.0v1.0h-1.0zM465.8 250.6h1.9v0.8h-1.9zM472.9 256.8h1.2v0.6h-1.2zM519.9 248.8h1.1v0.8h-1.1zM499.8 241.7h1.7v0.8h-1.7zM474.9 254.9h1.6v0.7h-1.6zM492.8 244.9h1.7v0.7h-1.7zM515.5 244.8h1.9v1.0h-1.9zM474.0 254.3h1.3v1.0h-1.3z"/><path fill="#7f9f98" d="M526.9 255.8h0.6v0.6h-0.6zM526.8 255.3h1.7v0.9h-1.7zM497.9 252.9h1.0v0.7h-1.0zM510.6 250.0h1.5v0.6h-1.5zM467.3 255.5h1.3v0.9h-1.3zM506.5 253.6h1.0v1.0h-1.0zM477.9 244.4h1.0v0.9h-1.0zM477.3 241.2h1.8v0.7h-1.8zM483.9 241.4h1.4v1.0h-1.4zM514.5 241.7h0.8v0.7h-0.8zM527.9 242.1h0.9v0.8h-0.9zM533.0 253.9h1.1v0.9h-1.1zM513.0 251.9h1.5v1.0h-1.5zM484.3 251.6h1.3v0.8h-1.3zM483.2 250.8h1.3v0.5h-1.3zM476.5 243.4h0.8v0.7h-0.8zM474.3 243.6h1.2v0.5h-1.2zM498.7 248.9h1.5v0.7h-1.5zM518.9 251.5h1.9v0.8h-1.9zM515.1 255.2h0.6v1.0h-0.6zM521.2 239.7h1.0v0.8h-1.0zM531.7 239.8h1.1v1.0h-1.1zM519.3 255.8h1.4v0.9h-1.4zM467.8 253.7h1.7v0.6h-1.7zM478.2 246.8h1.7v0.8h-1.7zM497.0 256.3h0.7v1.0h-0.7zM530.9 251.8h1.5v0.7h-1.5zM514.9 253.7h1.8v0.8h-1.8zM508.6 250.7h0.7v1.0h-0.7zM511.3 248.0h0.6v0.6h-0.6zM494.8 241.2h0.7v0.7h-0.7zM499.0 248.5h1.1v0.5h-1.1zM470.1 247.3h1.1v0.6h-1.1zM480.8 255.2h0.8v0.8h-0.8zM507.5 247.4h1.9v0.5h-1.9zM530.5 241.6h1.6v0.9h-1.6zM485.3 250.9h0.7v0.9h-0.7zM477.4 252.6h1.3v0.6h-1.3zM472.9 254.9h1.0v0.6h-1.0zM500.4 254.3h1.2v1.1h-1.2zM490.3 248.0h1.3v0.6h-1.3zM523.0 243.8h1.2v0.8h-1.2zM530.9 249.4h1.1v0.9h-1.1zM533.3 244.2h1.3v0.7h-1.3zM495.4 252.1h0.8v0.6h-0.8zM489.9 253.6h0.9v1.0h-0.9zM493.7 252.7h0.8v0.7h-0.8zM484.1 252.2h1.3v0.8h-1.3zM509.5 252.4h0.7v0.8h-0.7zM473.9 245.0h1.6v0.7h-1.6zM482.7 243.8h1.5v0.6h-1.5zM485.6 249.7h1.3v0.7h-1.3zM522.3 253.3h0.9v0.6h-0.9zM479.8 246.3h1.0v1.0h-1.0zM518.8 246.3h1.1v0.9h-1.1zM482.2 241.4h1.7v0.7h-1.7zM477.9 245.2h0.7v1.1h-0.7zM526.2 242.4h0.8v0.8h-0.8zM490.3 239.9h1.5v0.6h-1.5zM501.9 242.1h1.4v0.5h-1.4zM508.8 253.2h1.2v1.0h-1.2zM497.4 244.7h1.4v0.8h-1.4zM470.5 246.6h1.6v0.5h-1.6zM495.9 251.2h1.6v0.9h-1.6zM522.0 249.0h0.8v0.6h-0.8zM470.1 246.8h1.1v0.6h-1.1zM512.5 244.3h1.4v1.0h-1.4zM489.5 247.9h1.1v0.5h-1.1zM497.6 248.8h1.2v0.7h-1.2zM473.8 241.0h1.3v1.0h-1.3zM533.3 240.9h1.2v1.1h-1.2zM515.9 241.6h1.2v0.8h-1.2zM489.0 250.4h1.5v0.6h-1.5zM483.8 246.5h1.4v0.7h-1.4zM482.7 246.0h0.7v1.0h-0.7zM470.7 256.5h1.7v0.6h-1.7zM474.2 240.5h0.8v0.9h-0.8zM528.3 242.9h0.8v0.8h-0.8zM471.7 250.5h0.9v0.8h-0.9zM505.1 243.2h1.3v0.8h-1.3zM517.7 255.6h1.0v1.0h-1.0zM509.9 256.6h0.8v0.6h-0.8zM495.6 245.6h1.5v0.9h-1.5zM530.5 240.0h1.7v1.0h-1.7zM518.0 241.9h2.0v0.9h-2.0zM532.0 252.9h1.7v0.5h-1.7zM478.2 255.9h2.0v0.9h-2.0zM504.7 242.8h1.7v0.8h-1.7zM523.0 247.8h1.2v0.5h-1.2zM532.0 256.9h1.1v0.6h-1.1zM493.1 256.0h0.9v0.8h-0.9zM496.8 241.9h0.9v0.6h-0.9zM531.4 247.6h1.3v0.8h-1.3zM465.0 254.7h1.1v0.6h-1.1zM471.8 252.1h1.2v0.9h-1.2zM501.3 246.0h1.0v1.0h-1.0zM485.2 240.6h1.6v0.6h-1.6zM488.3 255.2h1.0v0.9h-1.0zM492.0 255.6h2.0v0.7h-2.0zM516.0 240.1h0.7v0.9h-0.7zM489.4 245.4h1.3v0.8h-1.3zM492.9 251.2h1.9v0.8h-1.9zM469.5 255.5h1.1v0.7h-1.1zM514.0 249.6h1.4v0.5h-1.4zM519.2 253.4h0.7v0.9h-0.7zM465.4 255.0h1.4v0.6h-1.4zM513.0 248.1h1.7v0.6h-1.7zM495.5 247.5h1.9v0.5h-1.9zM485.7 243.7h0.8v0.9h-0.8zM481.3 244.9h1.1v0.8h-1.1zM524.2 249.3h1.6v0.8h-1.6zM495.8 243.0h1.4v1.0h-1.4zM467.8 254.6h0.9v1.1h-0.9zM471.7 248.9h1.4v0.6h-1.4zM512.8 239.6h1.3v1.1h-1.3zM524.4 247.6h1.3v1.1h-1.3zM530.2 246.6h1.9v0.7h-1.9zM503.2 241.1h1.8v0.9h-1.8zM521.0 243.8h1.5v0.9h-1.5zM517.9 244.7h1.5v1.0h-1.5zM532.3 255.9h1.2v1.1h-1.2zM489.3 240.9h1.0v0.7h-1.0zM498.7 242.3h1.7v0.7h-1.7zM518.7 241.1h1.7v0.7h-1.7zM517.3 246.7h1.1v0.9h-1.1zM519.1 249.3h1.4v0.6h-1.4zM523.4 243.2h1.4v0.6h-1.4zM473.6 249.2h1.3v1.1h-1.3zM483.9 252.7h1.1v1.1h-1.1zM482.5 246.9h1.1v0.5h-1.1zM469.6 247.5h1.6v0.6h-1.6zM511.3 256.1h2.0v0.9h-2.0zM516.8 251.6h1.3v1.0h-1.3zM465.7 256.3h1.7v0.7h-1.7zM485.1 249.0h1.7v1.0h-1.7zM502.0 252.2h1.1v0.6h-1.1zM526.8 241.0h1.0v0.9h-1.0zM481.3 247.1h1.4v0.9h-1.4zM521.8 250.5h1.9v0.8h-1.9zM522.3 249.7h1.6v0.8h-1.6zM528.2 251.2h0.7v0.8h-0.7zM516.9 246.9h1.9v0.7h-1.9zM528.1 256.6h0.7v1.1h-0.7zM471.6 246.7h1.2v1.1h-1.2zM490.4 250.5h1.4v0.7h-1.4zM495.7 244.5h1.1v1.0h-1.1zM506.6 248.8h1.3v0.9h-1.3zM501.8 254.9h1.4v0.8h-1.4zM486.4 241.6h1.6v1.0h-1.6zM516.8 245.7h1.2v1.1h-1.2zM526.2 253.8h0.7v0.6h-0.7z"/>
<path fill="#b08050" d="M496.1 264.0h1.4v1.1h-1.4zM524.6 263.4h0.7v0.7h-0.7zM489.6 260.7h1.1v0.8h-1.1zM499.7 263.1h2.2v0.9h-2.2zM503.7 262.8h1.3v0.8h-1.3zM477.6 263.1h1.3v0.9h-1.3zM467.8 259.6h1.5v0.6h-1.5zM466.4 260.1h1.7v1.0h-1.7zM529.4 260.0h1.0v0.8h-1.0zM471.6 260.2h0.7v1.1h-0.7zM522.7 264.4h1.7v1.0h-1.7zM517.0 260.1h1.4v0.7h-1.4zM483.3 264.2h1.9v0.7h-1.9zM480.5 259.4h1.7v1.0h-1.7zM498.7 259.0h2.1v0.5h-2.1zM502.8 263.7h0.9v0.7h-0.9zM479.2 262.7h1.6v0.5h-1.6zM532.9 264.2h1.3v0.8h-1.3zM508.2 264.0h0.8v1.0h-0.8zM501.5 263.7h1.9v0.7h-1.9zM491.7 263.0h1.1v0.8h-1.1zM533.1 259.4h2.0v0.7h-2.0zM528.2 261.3h0.8v0.9h-0.8zM497.9 260.8h1.4v0.9h-1.4zM477.4 262.5h1.4v1.1h-1.4zM501.6 261.8h0.9v0.9h-0.9zM483.4 261.7h1.5v0.8h-1.5zM510.1 263.1h1.0v0.6h-1.0zM479.9 260.0h1.3v0.6h-1.3zM531.4 260.3h1.2v1.0h-1.2zM490.2 264.0h1.1v0.6h-1.1zM485.4 262.3h1.6v0.7h-1.6zM517.4 263.1h1.7v1.1h-1.7z"/><path fill="#8a6a50" d="M501.2 264.0h1.1v0.6h-1.1zM516.2 263.7h1.7v0.8h-1.7zM531.7 263.4h1.6v1.0h-1.6zM525.2 264.1h0.8v0.6h-0.8zM467.0 264.5h2.2v0.7h-2.2zM525.5 263.6h2.0v0.6h-2.0zM493.8 264.5h2.1v0.7h-2.1zM499.7 263.5h1.0v0.9h-1.0zM509.3 264.1h1.2v1.0h-1.2zM518.2 261.6h1.2v0.8h-1.2zM527.9 261.5h1.7v0.9h-1.7zM488.7 259.8h2.1v0.9h-2.1zM467.0 259.2h2.0v0.9h-2.0zM475.4 259.4h0.7v0.8h-0.7zM530.4 264.1h2.1v0.7h-2.1zM516.0 260.6h2.0v0.9h-2.0zM488.4 260.1h1.6v0.6h-1.6zM506.0 263.4h1.2v1.0h-1.2zM505.8 262.1h0.9v0.9h-0.9zM512.9 263.0h1.8v0.8h-1.8zM499.5 263.6h1.9v0.9h-1.9zM490.6 264.1h1.8v0.5h-1.8zM467.0 259.8h2.2v0.6h-2.2zM522.5 262.1h1.6v0.9h-1.6zM506.5 260.6h1.7v1.1h-1.7zM477.9 260.3h1.8v0.6h-1.8zM475.9 261.9h1.3v0.6h-1.3zM492.3 262.2h2.1v1.1h-2.1zM533.1 259.9h1.8v0.6h-1.8zM467.5 259.2h1.9v0.9h-1.9zM500.6 259.3h0.8v0.6h-0.8zM477.6 261.2h1.2v0.8h-1.2zM505.4 262.6h1.9v0.7h-1.9zM509.1 263.2h1.6v0.6h-1.6zM513.3 262.7h0.8v1.1h-0.8zM468.9 260.4h1.3v0.8h-1.3zM533.0 259.9h1.2v1.1h-1.2zM519.8 259.1h1.3v0.9h-1.3zM502.8 263.6h2.0v0.5h-2.0zM516.9 260.6h1.5v0.9h-1.5zM511.1 263.6h1.7v0.6h-1.7z"/><path fill="#d8a060" d="M517.5 262.7h1.3v0.6h-1.3zM492.8 259.3h1.3v0.8h-1.3zM488.0 260.4h1.6v1.0h-1.6zM480.4 260.1h1.2v1.0h-1.2zM519.3 260.1h2.2v0.7h-2.2zM501.1 262.3h1.2v0.6h-1.2zM473.1 264.2h0.9v1.0h-0.9zM509.6 261.9h2.0v0.9h-2.0zM486.9 260.4h0.8v0.8h-0.8zM521.4 260.4h2.1v0.9h-2.1zM490.8 261.4h1.3v0.5h-1.3zM515.8 262.3h1.0v1.1h-1.0zM487.9 263.0h1.0v1.0h-1.0zM480.4 262.8h2.0v0.8h-2.0zM513.9 264.2h1.5v0.7h-1.5zM480.9 263.6h1.7v1.0h-1.7zM489.2 260.6h2.0v1.0h-2.0zM511.5 260.5h0.6v1.1h-0.6zM480.1 261.8h0.7v0.5h-0.7zM524.1 259.1h0.7v0.8h-0.7zM503.6 264.4h1.0v0.6h-1.0zM503.4 260.2h1.2v1.1h-1.2zM496.0 262.1h1.3v0.5h-1.3zM529.5 263.2h1.8v0.5h-1.8zM524.0 260.0h1.9v1.0h-1.9zM494.1 259.1h1.7v0.6h-1.7zM481.8 259.3h2.0v1.0h-2.0zM480.5 264.0h2.2v0.9h-2.2zM493.3 260.0h1.5v0.6h-1.5zM500.6 262.9h1.2v0.7h-1.2zM492.8 263.1h0.6v0.6h-0.6zM516.4 263.3h1.3v0.6h-1.3zM476.7 264.5h1.6v0.9h-1.6zM528.5 261.9h1.7v1.1h-1.7zM489.1 259.3h1.8v1.0h-1.8zM468.1 259.4h1.7v0.9h-1.7z"/>
<path fill="#8a8a80" d="M460.2 246.9h0.8v0.5h-0.8zM448.1 244.6h1.4v0.6h-1.4zM428.4 244.8h0.7v0.6h-0.7zM435.5 251.9h0.6v0.9h-0.6zM437.3 254.9h0.6v1.0h-0.6zM450.1 249.9h1.2v0.9h-1.2z"/><path fill="#aaa" d="M451.9 254.0h1.1v0.9h-1.1zM441.9 250.8h0.6v1.0h-0.6zM448.2 253.3h0.8v0.8h-0.8zM448.3 245.4h1.2v0.6h-1.2zM427.1 249.8h1.6v0.5h-1.6zM433.1 244.6h1.3v1.0h-1.3zM457.7 248.9h0.5v1.0h-0.5zM451.9 251.2h1.4v0.6h-1.4zM445.5 246.7h0.7v1.1h-0.7zM456.1 252.2h1.3v1.0h-1.3zM449.0 248.3h1.0v0.6h-1.0z"/><path fill="#6a6a60" d="M429.2 253.4h1.2v0.6h-1.2zM438.0 245.1h1.5v0.6h-1.5zM433.1 252.4h0.8v0.5h-0.8zM454.2 245.6h1.1v0.7h-1.1zM433.5 247.0h0.8v1.0h-0.8zM428.6 254.2h1.5v0.9h-1.5zM460.7 254.3h1.6v0.9h-1.6zM458.9 249.8h0.6v0.6h-0.6zM432.4 253.8h1.0v1.1h-1.0zM452.8 246.0h0.8v0.6h-0.8zM459.3 245.3h0.8v0.8h-0.8zM440.9 250.5h1.5v0.8h-1.5zM452.8 254.9h1.3v0.8h-1.3z"/>
<line x1="424.4" y1="235.6" x2="534.4" y2="235.6" stroke="#ff1c10" stroke-width="2.1"/>
<line x1="424.4" y1="266.8" x2="534.4" y2="266.8" stroke="#ff1c10" stroke-width="2.1"/>
<rect x="756.4" y="298.5" width="109.4" height="39.5" fill="#fdeedd"/>
<rect x="790.1" y="299.3" width="75.7" height="3.6" fill="#b4cfc4"/>
<rect x="790.1" y="302.9" width="75.7" height="1.0" fill="#f0c898"/>
<rect x="790.1" y="304.6" width="75.7" height="3.0" fill="#f0c898"/>
<rect x="790.1" y="307.6" width="75.7" height="1.0" fill="#b4cfc4"/>
<rect x="790.1" y="308.6" width="75.7" height="3.2" fill="#f0c898"/>
<line x1="758" y1="304.2" x2="865.8" y2="304.2" stroke="#4a4036" stroke-width="0.8"/>
<rect x="784.1" y="311.8" width="81.7" height="13.8" fill="#a9c8be"/>
<rect x="757.5" y="312.2" width="26.6" height="5.0" fill="#c4dcd4"/>
<rect x="784.1" y="325.6" width="81.7" height="0.9" fill="#f0d0a8"/>
<rect x="792.7" y="326.5" width="73.1" height="11.2" fill="#a9c8be"/>
<rect x="757.5" y="327.2" width="35.2" height="3.4" fill="#b4d2ca"/>
<line x1="789.9" y1="299" x2="789.9" y2="311.8" stroke="#6a5a4a" stroke-width="0.9"/>
<path fill="#c08848" d="M845.5 304.6h1.5v1.0h-1.5zM791.3 307.4h0.6v1.1h-0.6zM794.8 300.5h1.3v0.7h-1.3zM862.9 309.3h0.9v0.9h-0.9zM823.5 305.2h0.8v0.6h-0.8zM813.2 306.8h0.8v0.5h-0.8zM836.7 300.5h1.4v0.7h-1.4zM795.4 307.8h0.9v0.6h-0.9zM791.5 306.7h1.1v1.1h-1.1zM852.4 301.7h1.0v0.7h-1.0zM839.2 304.3h1.1v0.6h-1.1zM852.9 299.8h1.4v1.1h-1.4zM799.3 307.3h1.2v0.8h-1.2zM857.8 304.6h1.3v0.8h-1.3zM833.1 308.3h1.3v0.9h-1.3zM801.4 304.8h1.2v0.8h-1.2zM860.3 303.8h0.5v0.9h-0.5zM831.5 299.6h1.0v0.6h-1.0zM826.0 308.4h0.9v1.0h-0.9zM802.5 301.7h0.9v1.1h-0.9zM862.0 304.3h1.3v0.6h-1.3zM794.9 309.2h0.5v1.0h-0.5zM828.4 306.2h1.0v0.6h-1.0zM811.7 302.4h0.6v1.0h-0.6zM820.5 304.6h0.9v1.0h-0.9zM826.2 308.2h0.8v0.5h-0.8zM817.8 309.3h1.1v0.5h-1.1zM823.0 302.5h0.9v1.0h-0.9zM792.1 308.7h1.1v1.0h-1.1zM855.5 307.3h1.2v0.6h-1.2zM862.3 302.2h1.0v0.9h-1.0z"/><path fill="#a07850" d="M820.4 308.5h1.0v0.8h-1.0zM853.3 303.0h1.1v1.0h-1.1zM803.3 304.8h0.9v0.9h-0.9zM795.3 308.5h0.5v0.7h-0.5zM793.1 302.3h0.7v0.7h-0.7zM834.0 300.1h1.2v0.9h-1.2zM852.4 309.8h0.9v0.9h-0.9zM809.9 307.9h1.2v1.0h-1.2zM862.7 307.3h0.9v0.7h-0.9zM806.8 305.0h1.4v0.6h-1.4zM836.4 310.1h1.1v0.9h-1.1zM825.1 306.8h0.7v0.8h-0.7zM814.3 303.6h1.1v0.8h-1.1zM805.7 303.4h1.2v1.1h-1.2zM857.6 309.5h0.7v0.9h-0.7zM859.3 310.7h1.1v0.8h-1.1zM840.8 304.7h0.7v0.8h-0.7zM820.0 308.7h0.9v0.5h-0.9zM805.8 306.6h1.0v0.7h-1.0zM864.4 307.3h0.8v0.5h-0.8zM857.5 308.3h0.8v0.6h-0.8zM859.5 306.5h1.1v0.6h-1.1zM842.0 306.2h0.8v0.5h-0.8zM826.7 300.4h1.3v1.1h-1.3zM826.2 303.5h0.5v0.8h-0.5zM863.8 307.6h0.9v0.8h-0.9zM836.1 301.4h1.3v0.6h-1.3zM823.6 308.1h1.3v0.6h-1.3zM851.1 303.8h0.7v0.6h-0.7zM805.0 306.1h1.2v1.1h-1.2zM844.7 308.1h1.3v1.0h-1.3zM799.5 301.2h0.5v0.8h-0.5zM813.4 300.9h1.4v0.8h-1.4z"/><path fill="#b09060" d="M855.1 300.3h0.9v0.6h-0.9zM833.0 305.9h0.8v1.0h-0.8zM842.8 299.8h1.3v0.7h-1.3zM820.8 308.8h0.8v0.6h-0.8zM817.3 301.6h0.7v1.0h-0.7zM801.1 305.9h1.3v0.9h-1.3zM826.8 307.4h0.5v1.0h-0.5zM830.3 305.1h0.7v1.0h-0.7zM863.9 303.1h1.4v0.6h-1.4zM855.1 305.1h1.3v0.7h-1.3zM801.4 308.6h1.1v0.8h-1.1zM851.4 304.4h1.2v0.9h-1.2zM804.8 310.4h0.5v0.6h-0.5zM861.6 301.9h1.1v1.1h-1.1zM849.4 302.2h0.9v0.7h-0.9zM826.2 309.9h1.2v0.6h-1.2zM838.2 305.2h1.1v0.6h-1.1zM796.9 306.7h1.3v0.9h-1.3zM836.2 303.3h0.9v0.9h-0.9zM794.2 303.5h1.4v1.0h-1.4zM791.5 306.9h0.5v0.8h-0.5zM838.7 305.1h1.5v0.8h-1.5zM805.7 303.2h0.6v1.0h-0.6zM827.9 306.6h1.1v0.8h-1.1zM833.0 307.0h1.2v1.0h-1.2zM823.7 301.2h1.1v1.0h-1.1zM823.1 300.6h1.0v1.1h-1.0zM829.7 305.0h0.7v0.8h-0.7zM840.6 307.5h0.6v0.7h-0.6zM807.9 308.5h0.7v0.9h-0.7zM801.7 302.6h0.8v0.8h-0.8zM802.8 304.9h0.6v0.9h-0.6zM812.9 305.8h0.6v0.9h-0.6z"/><path fill="#8a6a50" d="M814.4 300.3h0.7v0.6h-0.7zM839.1 309.5h0.7v0.7h-0.7zM831.6 309.7h1.0v1.0h-1.0zM849.3 303.9h1.4v0.8h-1.4zM842.7 302.0h1.4v0.8h-1.4zM862.0 301.4h1.5v0.7h-1.5zM852.8 305.7h1.1v0.5h-1.1zM830.5 305.6h1.2v0.6h-1.2zM856.5 302.7h0.8v0.9h-0.8zM801.6 301.2h1.3v0.8h-1.3zM828.4 309.3h0.5v0.9h-0.5zM794.1 309.1h0.5v0.9h-0.5zM848.1 302.5h1.0v0.7h-1.0zM851.9 308.8h1.3v0.7h-1.3zM847.4 306.6h1.2v0.7h-1.2zM800.6 308.4h0.6v1.1h-0.6zM861.7 307.4h1.0v1.1h-1.0zM817.2 305.4h1.2v0.9h-1.2zM825.2 309.8h1.0v1.0h-1.0zM793.7 308.3h0.7v0.5h-0.7zM853.7 305.4h0.6v0.8h-0.6zM849.0 309.1h1.2v0.9h-1.2zM793.7 302.1h1.2v0.8h-1.2zM854.6 302.0h0.8v0.7h-0.8zM852.0 300.3h1.0v0.6h-1.0zM831.2 300.2h0.6v0.6h-0.6zM833.7 306.7h0.8v0.9h-0.8zM810.6 309.3h1.3v0.8h-1.3zM852.5 305.0h1.3v0.9h-1.3zM806.3 303.5h0.9v0.6h-0.9zM856.3 309.8h1.4v0.9h-1.4z"/><path fill="#9a8060" d="M861.1 306.5h0.6v1.0h-0.6zM812.3 305.7h0.8v0.8h-0.8zM803.0 310.0h1.1v0.5h-1.1zM807.2 302.8h1.3v1.1h-1.3zM819.3 308.7h1.0v0.6h-1.0zM807.4 305.4h0.6v1.1h-0.6zM828.2 299.9h0.7v0.7h-0.7zM795.3 310.2h1.0v0.8h-1.0zM852.1 306.8h1.0v0.5h-1.0zM824.6 310.3h0.8v0.6h-0.8zM792.2 305.7h1.0v0.9h-1.0zM830.2 304.9h1.0v0.7h-1.0zM835.4 301.2h0.8v0.9h-0.8zM841.3 302.1h0.6v0.7h-0.6zM859.0 309.5h0.9v0.6h-0.9zM814.1 307.7h1.5v0.8h-1.5zM810.7 301.3h1.1v1.0h-1.1zM838.7 300.5h0.9v1.1h-0.9zM804.2 306.3h0.7v0.5h-0.7zM815.7 303.1h0.7v1.1h-0.7zM854.5 301.0h1.5v1.0h-1.5zM823.0 303.6h0.8v1.1h-0.8zM791.5 308.4h0.8v0.8h-0.8zM852.3 300.6h0.6v0.5h-0.6zM836.5 309.0h0.9v1.1h-0.9zM829.5 299.7h1.1v0.9h-1.1zM854.4 301.6h1.5v0.8h-1.5zM802.9 307.3h1.4v0.8h-1.4zM842.1 308.1h0.9v0.9h-0.9zM830.9 309.6h0.5v0.8h-0.5zM861.1 303.4h1.2v0.9h-1.2zM800.7 299.5h1.1v1.1h-1.1zM803.5 300.1h1.4v0.9h-1.4zM805.2 302.7h1.1v1.1h-1.1z"/><path fill="#e0a840" d="M862.0 300.6h0.9v0.8h-0.9zM844.3 307.9h1.5v1.0h-1.5zM858.8 300.3h1.3v0.6h-1.3zM858.8 306.9h0.5v0.7h-0.5zM833.1 302.4h0.6v1.0h-0.6zM839.1 302.6h0.7v0.8h-0.7zM795.6 300.9h1.3v1.0h-1.3zM815.2 302.8h1.1v0.9h-1.1zM813.3 300.9h0.7v1.1h-0.7zM850.9 301.0h0.8v1.1h-0.8zM819.4 301.2h0.7v0.5h-0.7zM825.7 299.7h1.4v1.0h-1.4zM838.2 306.4h1.2v0.6h-1.2zM826.2 302.2h1.0v0.6h-1.0zM852.3 308.5h1.0v0.9h-1.0zM855.8 300.6h1.1v0.7h-1.1zM808.2 302.0h0.7v1.0h-0.7zM836.6 304.3h1.5v1.1h-1.5zM837.2 302.1h1.5v1.1h-1.5zM823.7 305.8h1.1v0.8h-1.1zM837.8 303.5h1.0v0.7h-1.0zM840.6 306.3h1.1v0.6h-1.1zM813.1 308.6h0.8v0.6h-0.8zM845.0 301.1h0.6v0.7h-0.6zM823.0 303.1h1.3v0.6h-1.3zM825.8 310.3h1.1v0.7h-1.1zM807.3 302.5h1.0v0.5h-1.0zM820.8 299.6h0.9v1.1h-0.9zM862.3 308.9h0.7v1.1h-0.7zM864.2 304.6h0.9v0.8h-0.9zM819.5 309.8h1.2v1.0h-1.2zM863.1 307.0h0.8v0.9h-0.8zM863.3 303.9h1.4v0.5h-1.4zM814.4 308.0h0.8v0.7h-0.8zM804.3 307.5h1.5v0.8h-1.5zM843.9 300.6h1.4v1.1h-1.4zM831.7 302.9h1.3v0.8h-1.3zM836.7 308.1h1.3v1.1h-1.3z"/>
<path fill="#8a5e48" d="M812.1 324.2h0.6v0.9h-0.6zM859.2 320.5h0.7v0.5h-0.7zM853.0 323.0h1.6v0.6h-1.6zM838.8 320.8h0.8v1.0h-0.8zM788.9 320.6h0.6v0.7h-0.6zM837.5 321.2h1.3v0.8h-1.3zM805.5 313.0h1.3v0.9h-1.3zM807.8 321.0h1.4v1.0h-1.4zM790.7 323.8h0.7v0.7h-0.7zM793.1 319.2h1.5v0.7h-1.5zM804.4 319.5h1.5v0.8h-1.5zM836.8 323.2h1.5v0.8h-1.5zM796.3 321.1h1.2v0.9h-1.2zM819.0 316.2h1.4v0.7h-1.4zM821.3 322.5h0.7v1.0h-0.7zM805.3 319.4h1.5v0.9h-1.5zM795.8 320.8h1.4v0.7h-1.4zM854.8 315.5h1.4v0.8h-1.4zM832.0 318.0h1.5v0.6h-1.5zM827.5 313.0h1.0v0.7h-1.0zM823.4 318.7h0.8v0.9h-0.8zM789.3 320.0h1.4v0.9h-1.4zM802.0 315.1h0.5v1.0h-0.5zM845.8 316.3h1.1v0.6h-1.1zM851.0 312.6h1.5v0.9h-1.5zM798.0 318.1h1.3v0.8h-1.3zM857.5 323.4h1.1v0.7h-1.1zM817.7 312.3h0.7v0.7h-0.7zM803.9 319.6h1.3v1.1h-1.3zM802.5 320.4h0.8v1.1h-0.8zM851.3 317.1h1.0v0.8h-1.0zM850.9 316.9h1.0v0.7h-1.0zM859.8 322.6h1.4v0.9h-1.4zM841.0 321.9h0.6v0.7h-0.6zM793.9 312.7h0.9v1.0h-0.9zM822.2 322.4h1.0v0.6h-1.0zM855.5 315.6h1.6v1.0h-1.6zM826.1 314.3h1.2v0.9h-1.2zM796.6 314.3h0.6v0.5h-0.6zM834.2 312.7h0.9v0.9h-0.9zM816.8 317.4h0.6v0.8h-0.6zM800.8 320.0h1.5v0.8h-1.5zM821.0 322.8h1.1v0.6h-1.1zM812.5 324.5h1.3v0.6h-1.3zM800.6 319.5h1.4v0.6h-1.4zM799.0 324.1h1.0v0.5h-1.0zM838.6 323.2h1.4v1.1h-1.4zM792.6 323.2h1.3v0.9h-1.3zM794.3 323.9h1.6v0.7h-1.6zM795.3 312.8h1.5v0.6h-1.5zM801.6 321.4h1.6v0.7h-1.6zM788.7 318.2h1.1v0.6h-1.1zM810.8 324.2h1.4v0.9h-1.4zM863.2 323.3h0.8v0.9h-0.8zM854.3 324.1h1.4v0.6h-1.4zM836.4 322.6h1.2v0.7h-1.2zM834.1 324.4h1.1v1.1h-1.1zM855.6 322.4h0.8v0.6h-0.8zM815.3 324.1h1.5v0.5h-1.5zM840.4 317.6h1.4v0.7h-1.4zM846.8 316.4h0.7v0.8h-0.7zM804.2 315.4h1.1v0.7h-1.1zM788.3 315.4h1.1v1.0h-1.1zM789.7 322.7h0.9v1.1h-0.9zM798.3 319.7h0.6v0.6h-0.6zM849.1 312.9h0.7v0.7h-0.7zM830.8 314.2h1.4v0.6h-1.4zM785.6 312.9h1.3v0.6h-1.3zM812.5 316.2h1.6v1.0h-1.6zM816.9 315.6h1.2v1.0h-1.2zM822.4 318.5h1.3v0.7h-1.3zM810.3 314.6h1.0v0.9h-1.0z"/><path fill="#a07458" d="M849.8 316.8h0.7v1.1h-0.7zM808.1 313.8h0.6v0.7h-0.6zM808.1 315.0h0.8v1.1h-0.8zM839.8 320.7h1.2v0.8h-1.2zM849.3 318.9h1.6v0.5h-1.6zM795.8 316.1h1.0v1.1h-1.0zM808.1 317.1h0.7v0.8h-0.7zM809.7 316.4h1.4v0.6h-1.4zM810.6 313.8h0.6v0.9h-0.6zM808.5 321.4h1.5v0.9h-1.5zM819.9 315.3h0.6v0.8h-0.6zM818.8 313.4h1.4v1.0h-1.4zM849.4 312.0h1.5v0.9h-1.5zM824.0 313.0h1.4v0.8h-1.4zM859.3 318.5h1.2v0.8h-1.2zM811.0 316.4h1.4v0.6h-1.4zM825.2 312.6h1.0v1.0h-1.0zM834.7 321.7h1.4v0.8h-1.4zM800.6 318.4h1.2v0.6h-1.2zM839.7 312.1h0.6v0.8h-0.6zM835.5 324.1h0.8v1.1h-0.8zM856.7 318.2h1.2v0.7h-1.2zM816.0 322.0h1.5v0.8h-1.5zM818.2 316.6h1.3v0.9h-1.3zM786.7 322.1h1.4v0.8h-1.4zM790.4 323.0h1.2v0.9h-1.2zM831.9 321.8h1.0v0.8h-1.0zM856.6 319.6h1.5v0.6h-1.5zM839.0 324.5h0.5v0.8h-0.5zM800.7 315.4h1.5v0.7h-1.5zM864.0 319.1h0.9v0.8h-0.9zM790.2 312.4h1.4v0.9h-1.4zM788.7 314.7h1.4v1.0h-1.4zM820.3 323.5h0.7v1.1h-0.7zM825.6 315.1h0.6v1.0h-0.6zM823.7 321.5h1.2v0.5h-1.2zM835.3 316.1h1.3v1.0h-1.3zM825.5 314.2h0.6v0.8h-0.6zM787.5 317.4h0.9v0.8h-0.9zM863.1 316.4h1.1v0.8h-1.1zM823.2 314.2h1.0v1.0h-1.0zM852.3 324.2h1.0v0.6h-1.0zM814.8 312.6h1.5v0.8h-1.5zM840.4 323.6h0.9v0.6h-0.9zM789.2 323.7h1.0v0.6h-1.0zM817.0 322.5h0.7v1.0h-0.7zM834.5 314.9h1.3v0.7h-1.3zM843.4 314.0h1.5v0.9h-1.5zM839.7 320.4h1.1v0.7h-1.1zM848.2 316.2h1.3v0.6h-1.3zM806.1 312.5h1.2v0.7h-1.2zM831.2 312.7h1.5v1.0h-1.5zM833.9 324.6h1.0v0.9h-1.0zM842.1 318.0h0.7v0.9h-0.7zM814.3 318.8h1.1v0.7h-1.1zM796.1 315.0h0.8v0.7h-0.8zM787.4 317.0h1.3v0.6h-1.3zM817.4 313.6h1.2v0.7h-1.2zM831.0 316.1h1.0v0.8h-1.0zM800.2 317.5h0.6v1.0h-0.6zM849.3 317.1h0.7v1.1h-0.7zM843.6 318.8h1.3v0.8h-1.3zM850.6 321.0h1.0v0.8h-1.0zM833.0 321.4h1.4v1.0h-1.4zM861.2 317.8h0.8v1.1h-0.8zM852.8 320.2h1.3v0.6h-1.3zM816.6 321.6h1.5v0.8h-1.5zM860.7 312.9h0.8v0.9h-0.8zM825.8 316.7h0.8v1.1h-0.8zM861.1 321.9h0.9v0.7h-0.9zM800.1 312.6h0.5v0.6h-0.5zM825.1 318.3h0.5v1.0h-0.5zM825.7 320.3h0.9v1.0h-0.9z"/><path fill="#6e5040" d="M791.1 316.6h1.3v1.0h-1.3zM835.3 315.1h0.5v0.5h-0.5zM789.8 314.8h1.5v0.9h-1.5zM846.8 315.3h0.7v0.9h-0.7zM797.1 319.9h1.3v0.7h-1.3zM790.2 313.9h0.9v0.8h-0.9zM859.8 322.6h0.8v0.7h-0.8zM840.3 324.1h1.3v0.9h-1.3zM790.8 312.9h0.9v0.9h-0.9zM818.6 321.5h1.5v0.9h-1.5zM852.8 316.6h1.0v0.7h-1.0zM794.2 323.6h1.1v1.0h-1.1zM801.2 322.8h1.3v0.9h-1.3zM863.1 318.3h0.7v0.5h-0.7zM862.7 324.4h1.3v0.9h-1.3zM844.5 317.9h1.4v0.7h-1.4zM833.3 318.2h0.6v0.5h-0.6zM863.4 313.2h0.5v0.6h-0.5zM787.6 315.6h1.1v0.5h-1.1zM786.2 312.8h0.8v0.5h-0.8zM826.0 319.8h0.6v1.0h-0.6zM836.9 317.9h1.2v0.7h-1.2zM792.2 321.5h1.5v0.8h-1.5zM843.4 312.4h1.6v0.6h-1.6zM785.6 321.8h1.0v1.0h-1.0zM851.6 312.1h1.2v1.1h-1.2zM800.4 320.6h1.4v0.8h-1.4zM802.4 324.3h1.5v0.8h-1.5zM858.3 322.2h1.2v0.8h-1.2zM844.3 312.3h0.5v1.1h-0.5zM844.8 313.0h1.5v1.0h-1.5zM826.0 318.7h1.3v0.8h-1.3zM786.6 320.3h1.3v0.8h-1.3zM821.5 324.1h1.1v0.8h-1.1zM836.9 313.4h1.5v1.0h-1.5zM794.3 313.4h1.6v0.6h-1.6zM855.6 324.3h1.1v1.0h-1.1zM840.1 321.1h1.2v0.7h-1.2zM838.8 314.3h1.0v0.9h-1.0zM819.6 323.2h1.1v0.7h-1.1zM845.0 315.3h1.5v1.1h-1.5zM840.7 319.0h0.5v0.7h-0.5zM811.5 319.6h1.3v0.5h-1.3zM821.4 321.3h0.5v0.9h-0.5zM813.1 319.1h1.3v0.7h-1.3zM831.4 319.4h1.6v1.0h-1.6zM816.5 323.1h1.4v0.8h-1.4zM803.6 319.1h1.0v1.0h-1.0zM843.4 318.5h1.4v1.1h-1.4zM791.6 323.6h0.8v0.8h-0.8zM822.0 312.3h0.7v0.7h-0.7zM848.8 320.4h1.4v0.8h-1.4zM834.9 313.3h1.6v0.7h-1.6zM802.4 322.6h1.3v0.7h-1.3zM839.1 317.2h0.9v0.9h-0.9zM862.7 313.8h1.3v0.7h-1.3zM796.0 315.1h0.6v0.9h-0.6zM831.2 323.8h0.6v1.1h-0.6zM803.7 320.4h1.0v1.1h-1.0zM806.5 316.2h1.1v1.0h-1.1zM821.9 313.7h0.9v1.1h-0.9zM836.9 322.0h0.7v1.0h-0.7zM823.6 312.7h1.4v0.7h-1.4zM790.2 319.6h1.3v0.6h-1.3zM805.5 319.1h1.0v0.6h-1.0zM809.4 320.3h0.7v0.6h-0.7zM859.3 316.9h1.1v0.8h-1.1zM835.3 324.1h1.5v0.7h-1.5zM820.1 315.2h1.2v0.9h-1.2zM801.9 312.1h0.9v0.7h-0.9zM824.2 315.6h1.1v0.6h-1.1zM836.0 314.4h1.5v0.6h-1.5zM823.4 313.9h1.1v1.1h-1.1zM819.0 317.3h1.4v1.0h-1.4zM841.1 319.7h1.4v0.7h-1.4zM818.0 322.9h1.5v0.9h-1.5zM824.5 318.3h1.2v0.5h-1.2zM857.5 319.9h0.8v1.0h-0.8zM802.9 322.5h0.7v0.6h-0.7zM862.5 316.0h0.5v0.7h-0.5zM822.6 324.0h0.9v1.0h-0.9zM794.7 317.1h0.6v1.0h-0.6zM791.3 317.9h0.8v0.6h-0.8zM829.2 318.8h1.2v1.1h-1.2zM862.2 323.9h0.7v1.0h-0.7zM861.9 319.1h1.1v0.8h-1.1zM808.4 321.3h1.1v1.1h-1.1zM849.3 315.5h0.9v0.8h-0.9zM852.7 315.6h1.0v1.1h-1.0zM813.7 315.5h1.3v0.9h-1.3z"/><path fill="#b89878" d="M862.0 318.8h1.1v0.8h-1.1zM836.0 319.3h1.1v0.5h-1.1zM821.4 322.5h1.0v0.9h-1.0zM848.6 312.7h1.0v1.0h-1.0zM825.9 317.9h1.2v0.7h-1.2zM817.0 321.9h1.0v0.7h-1.0zM794.4 313.4h1.6v1.0h-1.6zM861.6 318.4h1.5v1.1h-1.5zM809.4 315.9h1.3v0.9h-1.3zM858.6 316.1h0.8v0.6h-0.8zM841.7 314.4h1.6v1.0h-1.6zM820.0 323.3h1.2v0.8h-1.2zM833.0 323.5h0.6v1.0h-0.6zM833.2 324.1h1.0v0.7h-1.0zM812.5 321.8h1.2v0.5h-1.2zM793.3 313.7h1.6v0.9h-1.6zM845.3 321.7h1.3v0.5h-1.3zM795.3 319.5h1.2v0.8h-1.2zM794.3 318.9h1.5v0.6h-1.5zM863.1 314.9h0.6v0.8h-0.6zM824.6 312.3h0.7v0.9h-0.7zM858.6 316.4h0.8v1.0h-0.8zM827.4 321.8h1.1v1.1h-1.1zM821.6 312.8h0.7v0.9h-0.7zM828.9 322.7h0.6v1.1h-0.6zM815.2 324.3h1.2v0.8h-1.2zM826.9 321.1h0.7v1.0h-0.7zM840.6 314.0h1.2v0.8h-1.2zM788.3 324.4h0.8v0.6h-0.8zM832.6 319.9h1.3v1.0h-1.3zM822.0 323.6h1.5v0.8h-1.5zM799.9 324.0h1.2v0.8h-1.2zM803.3 321.7h1.3v1.0h-1.3zM827.1 315.4h0.6v1.0h-0.6zM829.9 319.8h1.2v0.7h-1.2zM847.3 323.9h0.8v0.5h-0.8zM844.9 315.5h1.1v0.7h-1.1zM829.2 315.7h0.5v0.6h-0.5zM785.1 324.4h0.9v0.5h-0.9zM808.3 316.1h0.6v1.0h-0.6zM796.3 313.5h1.6v0.5h-1.6zM788.7 323.0h1.3v1.0h-1.3zM829.9 319.3h1.1v1.0h-1.1zM831.3 313.6h1.4v1.0h-1.4zM834.0 320.4h1.4v0.6h-1.4zM791.3 323.7h1.2v0.7h-1.2zM811.4 320.1h1.5v0.9h-1.5zM850.5 321.8h1.0v0.5h-1.0zM862.6 322.7h1.0v0.6h-1.0zM795.9 315.1h1.2v0.6h-1.2zM819.7 319.9h1.0v0.7h-1.0zM801.8 314.4h1.2v0.7h-1.2zM803.5 312.2h0.7v0.6h-0.7zM834.9 319.0h1.6v1.1h-1.6zM804.5 320.0h1.0v1.1h-1.0zM788.2 315.6h0.5v1.1h-0.5zM810.5 319.7h1.2v1.0h-1.2zM864.0 322.5h0.8v0.5h-0.8zM847.5 322.6h0.5v0.6h-0.5zM825.6 315.0h1.5v0.9h-1.5zM823.5 319.8h0.7v0.9h-0.7zM815.0 312.8h1.3v0.8h-1.3zM839.7 314.8h0.7v0.6h-0.7z"/><path fill="#7f9f98" d="M817.1 313.1h1.3v0.8h-1.3zM837.2 317.9h0.9v1.0h-0.9zM799.7 318.1h1.3v0.7h-1.3zM809.0 324.4h0.5v0.9h-0.5zM861.4 321.0h1.4v0.5h-1.4zM811.9 318.9h0.7v0.9h-0.7zM805.2 312.1h1.0v0.8h-1.0zM852.9 319.6h1.0v0.9h-1.0zM816.7 323.9h1.2v0.8h-1.2zM795.3 323.5h1.3v0.8h-1.3zM803.2 322.0h0.9v0.6h-0.9zM812.0 317.0h0.8v0.6h-0.8zM828.7 313.3h1.3v0.8h-1.3zM810.5 318.7h0.6v0.9h-0.6zM861.3 318.6h1.1v1.0h-1.1zM840.7 322.0h0.7v0.9h-0.7zM861.0 317.1h1.3v0.5h-1.3zM858.1 318.7h1.6v0.6h-1.6zM864.6 323.1h1.3v1.0h-1.3zM798.2 317.5h1.1v0.8h-1.1zM789.8 318.6h0.7v0.8h-0.7zM863.2 318.3h0.7v1.0h-0.7zM832.2 318.6h0.7v0.6h-0.7zM792.8 319.8h1.1v0.8h-1.1zM845.8 317.6h1.1v1.0h-1.1zM815.0 312.4h1.4v0.9h-1.4zM819.3 322.1h0.6v0.8h-0.6zM832.5 321.6h0.8v0.8h-0.8zM791.6 321.3h1.4v1.0h-1.4zM797.7 321.8h1.2v0.6h-1.2zM813.8 313.2h1.0v0.8h-1.0zM815.2 322.4h0.7v0.8h-0.7zM852.7 324.6h0.8v0.7h-0.8zM811.3 318.4h1.0v0.5h-1.0zM851.6 320.2h1.2v1.1h-1.2zM804.4 312.8h1.0v0.8h-1.0zM812.4 312.4h1.0v0.8h-1.0zM845.8 324.2h1.3v0.8h-1.3zM797.4 318.2h1.5v0.9h-1.5zM848.2 317.9h1.6v0.8h-1.6zM788.5 321.0h1.0v0.7h-1.0zM848.7 324.6h0.5v0.6h-0.5zM833.2 319.7h1.0v0.8h-1.0zM826.2 313.5h1.1v0.6h-1.1zM799.9 321.2h0.5v1.0h-0.5zM847.6 323.0h1.3v1.0h-1.3zM802.3 315.9h0.6v0.8h-0.6zM824.2 313.6h0.9v0.6h-0.9zM791.3 324.4h0.8v1.1h-0.8zM832.5 319.7h1.3v1.0h-1.3zM802.0 316.8h1.4v0.9h-1.4zM792.5 312.7h0.7v0.9h-0.7zM863.7 313.8h0.9v1.1h-0.9zM792.3 315.5h0.5v0.8h-0.5zM826.6 323.2h0.5v0.9h-0.5zM819.5 321.1h1.2v0.9h-1.2zM835.3 313.1h1.1v1.0h-1.1zM824.1 312.7h0.7v0.7h-0.7zM836.0 324.2h1.1v0.6h-1.1zM788.5 319.4h1.4v0.5h-1.4zM830.5 323.5h1.0v0.5h-1.0zM840.7 320.2h1.1v1.1h-1.1zM823.5 313.4h1.0v0.7h-1.0zM796.9 319.7h0.8v0.8h-0.8zM825.5 322.4h1.4v0.9h-1.4zM798.4 313.3h1.1v0.6h-1.1zM831.3 322.6h1.5v1.1h-1.5zM849.7 321.5h0.8v1.0h-0.8z"/><path fill="#e0a830" d="M808.1 320.9h1.4v0.7h-1.4zM804.1 323.2h1.4v0.7h-1.4zM818.3 314.2h0.9v0.9h-0.9zM845.2 320.5h0.7v0.6h-0.7zM845.1 321.3h0.6v0.7h-0.6zM816.1 312.0h1.1v0.8h-1.1zM832.3 318.3h1.0v0.5h-1.0zM805.4 312.3h0.6v0.7h-0.6zM815.2 315.1h1.2v0.5h-1.2zM829.5 316.1h1.5v1.0h-1.5zM820.7 321.8h0.8v0.6h-0.8zM829.5 313.4h1.3v0.6h-1.3zM814.4 315.6h0.7v0.7h-0.7zM856.9 321.9h1.0v1.1h-1.0zM835.7 317.9h1.6v0.8h-1.6zM848.5 320.9h1.0v1.1h-1.0zM803.6 316.4h0.9v0.6h-0.9zM814.7 322.0h1.2v0.8h-1.2zM806.4 319.2h0.7v0.7h-0.7zM828.5 323.8h1.1v0.9h-1.1zM798.0 323.7h1.2v1.0h-1.2zM805.4 315.6h1.3v0.7h-1.3zM835.1 323.4h0.7v0.9h-0.7zM857.7 316.5h0.6v0.6h-0.6zM801.6 324.2h1.5v0.8h-1.5zM798.1 314.5h0.9v0.7h-0.9zM852.9 324.1h1.1v1.1h-1.1zM820.1 318.9h1.0v0.7h-1.0zM796.5 312.3h1.1v0.9h-1.1zM795.0 312.1h0.5v0.8h-0.5zM857.0 323.7h1.1v1.0h-1.1zM806.1 317.7h1.2v0.7h-1.2zM834.5 314.9h1.0v0.8h-1.0zM817.8 317.1h1.0v1.1h-1.0z"/>
<path fill="#8a5e48" d="M850.1 333.9h0.8v0.9h-0.8zM857.5 333.3h1.5v0.5h-1.5zM812.2 332.7h0.7v0.8h-0.7zM795.9 330.0h0.7v0.8h-0.7zM820.7 330.2h1.0v0.7h-1.0zM842.1 327.9h1.1v0.6h-1.1zM858.7 329.0h0.6v0.9h-0.6zM803.5 332.6h1.3v0.7h-1.3zM825.7 328.4h0.7v0.6h-0.7zM845.6 327.7h1.4v0.8h-1.4zM797.4 331.4h1.0v0.5h-1.0zM838.3 331.0h1.6v0.7h-1.6zM852.5 329.4h1.3v0.7h-1.3zM836.3 328.8h0.7v0.9h-0.7zM853.5 332.0h1.2v0.6h-1.2zM813.0 330.3h1.3v0.7h-1.3zM839.6 331.1h1.1v1.1h-1.1zM818.9 334.8h1.0v0.9h-1.0zM807.9 329.1h1.2v0.5h-1.2zM801.7 328.3h1.0v0.7h-1.0zM840.4 332.7h1.3v0.8h-1.3zM837.9 331.6h1.6v0.7h-1.6zM818.8 334.8h0.8v0.6h-0.8zM800.6 333.2h1.4v0.8h-1.4zM813.0 330.4h1.0v0.8h-1.0zM809.4 332.4h1.0v0.9h-1.0zM827.1 332.6h0.8v0.8h-0.8zM803.0 327.0h1.4v0.6h-1.4zM813.2 332.6h0.8v0.6h-0.8zM828.9 327.8h1.4v0.7h-1.4zM855.2 334.1h1.0v0.5h-1.0zM821.4 330.6h0.9v0.6h-0.9zM861.5 333.3h1.6v0.8h-1.6zM815.9 335.7h0.7v0.6h-0.7zM815.3 335.9h1.5v1.0h-1.5zM845.8 331.1h1.3v0.6h-1.3zM848.9 333.7h1.4v0.7h-1.4zM797.9 333.0h1.0v0.7h-1.0zM812.6 331.2h1.1v0.6h-1.1zM827.7 331.9h1.0v0.7h-1.0zM799.2 328.1h0.6v0.8h-0.6zM825.4 336.5h0.8v0.5h-0.8zM838.1 333.5h1.1v0.5h-1.1zM843.9 330.5h0.7v1.1h-0.7zM809.6 326.8h0.6v1.0h-0.6zM821.5 329.7h0.9v0.7h-0.9zM817.9 331.3h0.7v0.8h-0.7zM796.0 330.6h1.4v0.5h-1.4zM832.5 334.7h1.2v0.6h-1.2zM854.9 329.1h1.1v0.6h-1.1z"/><path fill="#a07458" d="M800.3 332.5h0.8v0.7h-0.8zM856.7 334.8h1.3v0.7h-1.3zM832.1 335.9h0.5v0.5h-0.5zM803.1 334.7h0.8v0.6h-0.8zM828.3 336.4h1.0v1.1h-1.0zM822.8 331.1h1.4v0.7h-1.4zM797.7 327.9h1.2v0.5h-1.2zM807.4 332.3h0.7v1.0h-0.7zM809.3 335.6h0.8v1.0h-0.8zM816.3 328.3h0.6v1.0h-0.6zM852.5 330.7h0.7v0.6h-0.7zM821.9 336.6h1.5v1.1h-1.5zM829.1 334.3h1.5v0.9h-1.5zM844.4 332.0h1.5v0.9h-1.5zM834.2 336.2h1.4v0.6h-1.4zM824.0 331.1h1.2v1.1h-1.2zM795.6 333.1h0.8v0.9h-0.8zM803.4 327.9h1.6v1.0h-1.6zM829.0 330.4h1.3v0.6h-1.3zM817.4 335.0h1.6v1.0h-1.6zM811.3 336.6h0.6v0.9h-0.6zM839.5 329.2h0.8v0.6h-0.8zM835.2 336.5h0.8v0.6h-0.8zM856.5 332.0h1.6v0.6h-1.6zM831.1 330.8h1.6v0.9h-1.6zM843.0 333.6h0.9v1.0h-0.9zM835.8 332.3h0.8v0.9h-0.8zM846.1 329.9h1.4v1.1h-1.4zM856.8 330.2h0.9v0.7h-0.9zM862.6 330.9h1.5v1.0h-1.5zM819.9 328.7h0.6v0.7h-0.6zM840.2 335.5h1.3v0.6h-1.3zM846.7 330.5h1.6v0.8h-1.6zM794.9 336.5h1.5v0.8h-1.5zM839.6 333.9h0.9v0.8h-0.9zM793.9 336.0h1.5v0.6h-1.5zM828.8 328.7h0.8v0.6h-0.8zM843.0 336.5h1.4v1.1h-1.4zM817.8 331.3h1.4v1.1h-1.4zM839.4 327.1h1.1v0.8h-1.1zM811.7 336.4h1.1v1.0h-1.1zM824.8 332.7h0.7v0.8h-0.7zM823.0 332.4h0.6v0.9h-0.6zM810.6 332.9h0.8v0.8h-0.8zM831.9 329.7h1.2v0.9h-1.2zM797.5 336.1h0.9v0.7h-0.9zM847.2 327.0h1.4v0.8h-1.4zM824.7 329.5h0.6v0.7h-0.6zM845.5 330.7h0.5v0.8h-0.5zM804.0 327.9h1.1v1.1h-1.1zM804.1 331.8h0.9v0.6h-0.9zM821.6 327.3h1.4v0.8h-1.4zM828.5 328.2h0.5v0.8h-0.5zM802.8 328.5h0.7v1.1h-0.7zM819.9 336.5h1.5v0.9h-1.5zM806.2 335.4h1.2v0.6h-1.2zM859.9 335.6h1.3v0.8h-1.3zM843.9 334.0h1.0v0.9h-1.0zM848.8 333.5h0.8v0.6h-0.8zM834.7 331.3h0.5v0.6h-0.5zM824.6 327.7h1.2v0.8h-1.2zM843.4 330.6h0.6v1.0h-0.6z"/><path fill="#6e5040" d="M797.2 329.4h1.2v0.7h-1.2zM860.8 327.0h1.2v0.5h-1.2zM852.2 331.2h0.7v0.5h-0.7zM835.4 331.5h0.8v0.9h-0.8zM827.1 330.3h1.3v0.9h-1.3zM859.8 327.8h1.1v0.9h-1.1zM804.1 336.1h0.9v0.8h-0.9zM798.3 332.3h1.5v0.6h-1.5zM837.9 333.4h0.8v0.9h-0.8zM827.4 332.1h0.6v1.0h-0.6zM853.2 336.4h0.6v0.7h-0.6zM845.4 332.1h0.6v0.8h-0.6zM824.3 332.8h1.4v0.9h-1.4zM796.2 332.6h1.6v1.0h-1.6zM822.9 333.5h1.6v0.9h-1.6zM832.7 332.3h1.5v0.8h-1.5zM801.9 334.0h1.5v0.7h-1.5zM824.3 330.0h1.4v0.9h-1.4zM806.6 332.3h1.4v1.0h-1.4zM803.2 327.0h0.7v0.9h-0.7zM824.5 336.2h1.4v0.9h-1.4zM808.9 329.6h1.3v0.7h-1.3zM823.9 332.7h0.5v1.0h-0.5zM830.1 333.9h0.7v0.8h-0.7zM803.7 330.8h1.3v0.8h-1.3zM826.7 329.2h1.0v0.5h-1.0zM797.3 333.1h0.7v1.0h-0.7zM804.2 329.1h0.7v0.9h-0.7zM854.4 330.3h0.8v1.0h-0.8zM813.1 330.7h0.8v0.8h-0.8zM818.7 331.5h1.3v0.5h-1.3zM815.2 326.9h1.5v1.1h-1.5zM813.0 332.8h0.9v0.9h-0.9zM797.8 335.1h1.4v0.6h-1.4zM849.4 331.6h0.6v0.9h-0.6zM805.5 331.9h0.9v0.8h-0.9zM811.7 334.5h0.7v0.7h-0.7zM812.9 330.1h1.5v1.1h-1.5zM845.7 329.3h0.6v1.0h-0.6zM820.8 327.3h0.6v1.0h-0.6zM855.0 330.6h1.4v0.6h-1.4zM829.1 333.8h0.9v0.7h-0.9zM800.3 335.8h1.0v0.9h-1.0zM810.4 332.4h0.7v0.7h-0.7zM838.8 334.6h1.6v1.1h-1.6zM808.3 331.0h0.9v1.0h-0.9zM794.1 327.3h1.0v0.9h-1.0zM817.8 329.2h0.7v1.0h-0.7zM861.8 335.9h1.1v0.8h-1.1zM826.7 329.5h0.9v0.6h-0.9zM813.5 335.4h1.0v1.0h-1.0zM833.1 335.6h0.9v0.6h-0.9zM836.4 333.6h0.9v0.9h-0.9zM794.5 333.9h0.7v1.0h-0.7zM802.3 327.9h1.3v0.8h-1.3zM816.6 332.9h1.4v0.9h-1.4zM834.0 329.2h0.6v0.9h-0.6zM812.9 336.3h1.1v0.8h-1.1zM811.5 331.3h1.2v0.5h-1.2zM829.8 334.8h0.8v1.0h-0.8zM813.4 332.6h1.2v0.9h-1.2zM833.9 330.3h0.8v0.9h-0.8zM828.9 336.6h1.3v1.1h-1.3zM855.6 327.4h0.9v0.5h-0.9zM818.9 333.6h1.4v0.7h-1.4zM796.0 327.7h1.3v0.7h-1.3z"/><path fill="#b89878" d="M803.0 331.0h1.4v0.8h-1.4zM806.8 330.6h1.1v1.1h-1.1zM826.7 336.5h0.9v0.7h-0.9zM855.7 330.3h0.7v0.8h-0.7zM857.8 328.1h1.4v0.9h-1.4zM805.5 329.8h0.9v0.8h-0.9zM802.3 334.1h1.1v1.1h-1.1zM851.9 327.5h0.5v0.7h-0.5zM800.8 332.4h0.7v1.0h-0.7zM827.2 334.8h1.4v0.6h-1.4zM851.2 327.9h0.7v1.1h-0.7zM805.2 334.4h0.8v0.9h-0.8zM814.5 330.0h0.8v1.1h-0.8zM811.4 328.4h0.6v0.6h-0.6zM824.0 328.8h1.3v1.1h-1.3zM823.5 332.4h1.2v1.0h-1.2zM828.4 335.1h0.7v1.0h-0.7zM803.5 333.0h1.1v0.8h-1.1zM808.4 335.8h1.0v0.8h-1.0zM849.0 333.0h1.3v0.8h-1.3zM837.8 327.4h1.2v0.9h-1.2zM839.6 332.9h0.6v0.8h-0.6zM800.3 331.5h0.5v1.0h-0.5zM850.9 327.6h1.6v0.8h-1.6zM834.2 332.0h0.6v0.7h-0.6zM862.1 332.3h1.4v0.7h-1.4zM800.4 331.3h1.4v1.0h-1.4zM797.9 335.1h1.6v0.9h-1.6zM807.5 329.9h1.5v0.9h-1.5zM859.7 334.7h0.8v0.7h-0.8zM801.8 327.6h0.9v0.6h-0.9zM844.9 330.6h0.5v0.8h-0.5zM810.4 331.2h0.8v1.0h-0.8zM817.3 330.2h0.9v0.9h-0.9zM838.2 328.4h0.9v0.9h-0.9zM832.5 328.6h1.0v0.8h-1.0zM861.0 329.7h0.9v1.0h-0.9zM808.7 332.6h0.5v0.8h-0.5zM831.3 333.9h1.2v0.9h-1.2zM850.6 331.4h0.9v0.5h-0.9zM825.8 330.0h1.4v0.5h-1.4zM802.9 336.5h0.5v0.9h-0.5zM841.8 326.9h0.9v1.0h-0.9zM810.1 331.2h1.3v1.0h-1.3zM798.3 332.6h1.4v1.0h-1.4zM820.5 328.8h1.5v0.5h-1.5zM852.1 335.4h1.3v0.9h-1.3zM808.4 334.2h1.1v0.7h-1.1zM805.6 329.8h1.0v0.8h-1.0zM816.8 327.1h0.9v0.9h-0.9zM834.6 332.9h1.1v0.6h-1.1zM863.3 336.3h0.9v0.9h-0.9zM830.4 335.4h1.0v0.8h-1.0zM815.9 329.1h0.6v1.0h-0.6z"/><path fill="#7f9f98" d="M815.5 334.4h1.0v0.6h-1.0zM798.3 334.1h1.5v0.5h-1.5zM822.4 330.5h1.0v0.9h-1.0zM797.4 328.1h0.8v0.6h-0.8zM815.4 327.4h0.7v0.6h-0.7zM851.1 328.4h1.4v0.7h-1.4zM837.6 333.5h1.1v0.5h-1.1zM857.1 332.3h0.9v0.8h-0.9zM859.0 333.5h1.3v0.8h-1.3zM820.3 334.2h0.6v1.1h-0.6zM805.0 329.7h1.0v0.5h-1.0zM804.4 327.9h1.2v1.0h-1.2zM825.8 333.6h0.8v0.6h-0.8zM849.9 336.6h1.3v0.9h-1.3zM825.7 327.4h1.0v0.9h-1.0zM815.0 334.4h0.8v0.8h-0.8zM852.9 333.3h1.1v0.8h-1.1zM848.0 334.3h1.6v0.8h-1.6zM826.0 336.5h1.4v0.5h-1.4zM863.6 332.7h1.3v0.9h-1.3zM820.5 328.3h1.6v1.1h-1.6zM845.0 329.7h1.3v0.6h-1.3zM798.4 336.0h1.4v0.8h-1.4zM808.1 336.3h0.9v1.0h-0.9zM803.9 335.0h0.9v0.9h-0.9zM842.0 329.6h1.1v0.7h-1.1zM796.6 336.1h0.6v0.9h-0.6zM831.2 333.4h1.5v0.7h-1.5zM841.7 327.9h0.9v1.1h-0.9zM797.1 327.0h1.0v0.9h-1.0zM838.2 334.2h1.4v1.0h-1.4zM832.9 330.4h1.3v0.9h-1.3zM818.5 330.3h0.8v0.9h-0.8zM859.2 336.6h0.7v0.6h-0.7zM845.2 335.6h1.2v0.7h-1.2zM815.7 331.2h1.0v0.6h-1.0zM844.0 331.8h1.0v1.0h-1.0zM831.5 336.5h1.5v1.1h-1.5zM813.7 333.3h0.8v0.6h-0.8zM821.0 333.5h0.9v0.9h-0.9zM808.4 330.8h0.8v1.0h-0.8zM798.1 333.5h0.6v0.9h-0.6zM850.9 328.5h0.8v0.8h-0.8zM831.7 327.4h1.1v1.1h-1.1zM838.4 334.3h0.7v0.5h-0.7zM849.7 334.3h0.7v0.9h-0.7zM854.6 332.3h1.1v0.6h-1.1zM812.2 334.8h0.7v0.9h-0.7zM815.7 327.2h1.6v1.1h-1.6zM833.9 330.0h1.2v0.9h-1.2zM824.9 335.4h0.5v0.8h-0.5zM847.8 330.7h1.1v1.0h-1.1zM808.9 334.2h1.0v0.5h-1.0zM853.5 335.0h1.1v1.1h-1.1zM832.5 332.9h1.0v1.1h-1.0zM818.9 332.7h0.9v0.6h-0.9zM848.6 330.3h1.5v1.0h-1.5zM853.5 330.0h1.1v1.0h-1.1zM829.2 327.0h0.7v0.9h-0.7zM843.3 333.3h0.8v0.9h-0.8zM806.9 330.9h1.1v0.5h-1.1zM836.9 335.5h0.8v0.9h-0.8zM862.8 331.8h0.9v0.9h-0.9zM809.4 330.1h1.0v1.1h-1.0zM803.4 327.0h1.3v1.1h-1.3zM805.3 328.9h0.7v0.5h-0.7zM834.8 330.1h0.6v0.8h-0.6zM842.1 330.8h0.6v0.8h-0.6zM798.4 335.8h0.7v1.0h-0.7z"/><path fill="#e0a830" d="M836.4 331.9h1.3v0.8h-1.3zM859.5 330.8h1.2v1.0h-1.2zM818.3 327.3h1.2v1.0h-1.2zM807.6 333.5h1.0v0.7h-1.0zM826.8 332.3h1.0v0.5h-1.0zM816.5 327.7h1.0v0.9h-1.0zM831.6 330.5h1.3v0.7h-1.3zM825.6 333.6h0.9v0.7h-0.9zM807.0 330.6h1.5v0.9h-1.5zM853.7 328.4h1.3v0.9h-1.3zM830.8 334.3h1.3v1.0h-1.3zM820.6 335.5h0.6v1.1h-0.6zM825.4 333.2h1.1v1.0h-1.1zM820.5 327.9h1.2v0.9h-1.2zM795.2 328.9h1.5v0.9h-1.5zM819.0 327.3h1.6v0.7h-1.6zM846.4 332.3h1.4v1.1h-1.4zM793.6 333.7h1.3v0.9h-1.3zM841.3 328.8h1.1v0.7h-1.1zM834.9 335.2h1.4v0.5h-1.4zM807.3 333.8h0.5v0.7h-0.5zM796.6 331.8h0.6v1.0h-0.6zM808.3 335.8h1.2v0.6h-1.2zM836.1 332.9h1.3v0.7h-1.3zM822.1 331.9h1.2v0.9h-1.2zM831.2 336.5h0.7v1.0h-0.7zM828.8 327.8h0.9v0.7h-0.9zM821.9 327.0h1.3v0.9h-1.3zM794.4 333.0h0.7v0.8h-0.7z"/>
<path fill="#888" d="M775.0 334.8h0.7v0.8h-0.7zM765.7 320.5h1.5v0.9h-1.5zM773.8 311.0h1.7v1.0h-1.7zM786.0 334.0h1.4v0.9h-1.4zM761.2 307.3h0.9v0.9h-0.9zM776.7 319.5h0.5v0.8h-0.5zM759.2 333.9h0.7v0.6h-0.7zM770.6 320.0h0.9v0.7h-0.9zM765.7 320.2h1.7v0.6h-1.7zM774.5 328.1h1.9v0.5h-1.9z"/><path fill="#aaa" d="M766.4 333.2h0.8v0.7h-0.8zM784.5 331.2h1.6v1.0h-1.6zM763.1 334.4h0.7v0.6h-0.7zM772.5 308.9h1.9v0.5h-1.9zM783.3 323.7h1.5v1.0h-1.5zM782.8 324.1h1.4v0.8h-1.4zM783.8 304.3h2.0v1.0h-2.0z"/><path fill="#70a098" d="M758.9 334.2h0.8v1.1h-0.8zM764.2 312.5h0.7v0.6h-0.7zM760.1 316.2h0.8v0.8h-0.8zM774.1 305.7h1.5v0.6h-1.5zM787.7 317.9h1.7v0.5h-1.7zM764.6 334.9h0.9v0.6h-0.9zM770.1 306.9h1.5v0.8h-1.5zM773.1 314.7h0.8v1.1h-0.8z"/><path fill="#d0a040" d="M778.8 307.4h0.9v0.5h-0.9zM781.6 326.4h0.6v1.1h-0.6zM759.9 311.2h1.3v1.0h-1.3zM773.0 331.0h0.6v1.0h-0.6zM764.0 332.2h1.6v1.0h-1.6z"/>
<line x1="756.4" y1="297.7" x2="865.8" y2="297.7" stroke="#ff1c10" stroke-width="1.9"/>
<line x1="756.4" y1="338.5" x2="865.8" y2="338.5" stroke="#ff1c10" stroke-width="1.9"/>
<rect x="756.4" y="367.5" width="109.4" height="23.0" fill="#d8f2dc"/>
<rect x="796.0" y="368.4" width="69.8" height="2.8" fill="#b4b8ae"/>
<rect x="815.4" y="371.2" width="50.4" height="6.3" fill="#d2cf8c"/>
<rect x="796.0" y="377.5" width="69.8" height="4.0" fill="#b4b8ae"/>
<rect x="808.5" y="381.5" width="57.3" height="7.0" fill="#d2cf8c"/>
<rect x="757.5" y="388.5" width="108.3" height="1.1" fill="#b4c4b4"/>
<path fill="#8a8050" d="M856.0 372.8h0.6v0.8h-0.6zM852.7 375.3h1.3v0.9h-1.3zM841.9 374.3h0.6v0.6h-0.6zM850.7 373.0h1.4v1.0h-1.4zM843.8 375.8h0.6v0.8h-0.6zM845.4 374.3h1.4v0.7h-1.4zM837.5 372.7h1.2v0.6h-1.2zM851.9 371.8h0.9v0.7h-0.9zM855.1 373.9h1.2v0.7h-1.2zM819.8 375.8h1.3v0.6h-1.3zM842.5 374.5h0.8v0.8h-0.8zM835.6 374.1h1.2v0.6h-1.2zM853.7 372.8h0.6v0.7h-0.6zM820.9 373.7h1.6v1.0h-1.6zM863.3 371.6h1.6v1.0h-1.6zM825.9 375.7h1.4v1.1h-1.4zM826.4 371.7h0.5v0.8h-0.5zM840.8 373.1h1.3v0.9h-1.3zM861.2 375.6h1.0v0.8h-1.0zM844.6 372.7h0.8v0.9h-0.8zM822.8 371.9h0.8v0.5h-0.8zM845.2 373.7h1.5v0.8h-1.5zM837.6 373.9h0.6v1.1h-0.6zM817.7 373.8h1.1v0.8h-1.1zM831.6 373.5h0.5v0.7h-0.5zM860.7 375.6h0.6v0.8h-0.6zM843.4 376.0h1.3v0.8h-1.3zM844.3 372.4h1.5v1.0h-1.5zM857.0 374.3h1.1v0.7h-1.1zM852.2 373.4h0.5v0.7h-0.5zM858.2 374.3h0.7v1.0h-0.7zM821.1 374.4h1.4v1.0h-1.4zM837.4 374.6h1.0v0.9h-1.0zM863.6 374.5h0.7v0.5h-0.7zM824.1 371.9h1.6v0.6h-1.6zM842.0 375.1h1.3v0.7h-1.3zM829.7 371.9h1.0v0.5h-1.0zM838.2 372.8h1.4v1.1h-1.4zM862.7 376.1h1.3v1.0h-1.3z"/><path fill="#6a6a40" d="M829.7 371.7h1.0v0.9h-1.0zM820.6 372.3h0.8v1.1h-0.8zM863.2 371.8h0.8v1.1h-0.8zM831.1 376.0h1.4v1.0h-1.4zM820.3 374.3h0.7v0.9h-0.7zM858.9 372.6h1.2v0.9h-1.2zM816.0 375.4h1.6v0.6h-1.6zM858.0 375.9h0.7v1.1h-0.7zM841.0 374.6h0.5v0.8h-0.5zM835.1 375.3h0.6v0.6h-0.6zM847.9 374.6h1.1v0.7h-1.1zM843.7 373.7h1.2v0.7h-1.2zM863.6 375.8h1.3v0.8h-1.3zM849.9 373.7h0.9v0.9h-0.9zM860.5 371.6h1.2v1.0h-1.2zM836.0 371.8h1.5v1.0h-1.5zM845.0 373.0h1.5v0.8h-1.5zM844.1 373.4h0.8v0.6h-0.8zM829.3 372.8h1.4v0.7h-1.4zM850.8 375.0h1.1v1.0h-1.1zM848.4 372.0h0.6v1.0h-0.6zM827.0 373.1h1.0v0.6h-1.0zM834.8 376.1h1.1v0.8h-1.1zM818.9 375.4h0.8v0.6h-0.8zM826.5 375.1h1.1v0.6h-1.1zM820.3 374.6h1.5v1.0h-1.5zM847.3 373.0h1.6v0.6h-1.6zM834.0 375.2h1.4v0.9h-1.4zM832.4 376.0h1.0v1.1h-1.0zM822.5 372.4h1.6v0.8h-1.6zM821.4 376.4h1.6v0.5h-1.6zM828.5 372.4h1.0v0.9h-1.0zM850.3 371.9h0.6v0.7h-0.6zM827.3 374.9h1.1v0.7h-1.1zM853.2 371.6h0.9v0.7h-0.9z"/><path fill="#a09860" d="M846.5 371.8h0.6v1.0h-0.6zM860.2 375.8h0.9v0.7h-0.9zM853.0 371.7h1.4v0.9h-1.4zM842.3 376.4h1.2v0.9h-1.2zM829.2 374.1h1.4v0.5h-1.4zM847.2 372.1h0.7v0.8h-0.7zM847.9 371.8h0.9v0.6h-0.9zM853.8 373.2h1.4v1.0h-1.4zM834.7 373.5h1.3v0.5h-1.3zM820.9 372.3h1.3v0.7h-1.3zM852.6 372.1h0.8v0.8h-0.8zM849.7 374.2h1.5v0.6h-1.5zM831.9 374.7h0.5v0.9h-0.5zM841.8 375.1h1.0v0.9h-1.0zM854.5 372.6h0.5v1.1h-0.5zM855.1 375.9h0.9v1.1h-0.9zM838.1 374.8h1.2v0.7h-1.2zM837.1 372.5h1.0v0.7h-1.0zM863.9 372.5h1.3v0.8h-1.3zM853.4 376.0h1.1v0.7h-1.1zM832.4 376.1h1.2v1.1h-1.2zM832.5 371.9h1.0v0.5h-1.0zM833.9 373.7h0.7v0.8h-0.7zM854.7 373.5h0.7v0.7h-0.7zM825.3 374.6h1.0v0.7h-1.0zM838.2 376.2h0.7v0.5h-0.7zM835.8 372.1h0.7v0.8h-0.7zM818.7 374.5h1.5v0.6h-1.5zM847.3 375.0h1.1v0.6h-1.1zM857.1 373.2h0.7v0.7h-0.7zM859.8 374.0h1.0v0.9h-1.0zM848.8 375.6h1.3v0.5h-1.3zM818.6 374.2h1.4v0.5h-1.4zM817.1 372.3h1.0v0.7h-1.0zM858.7 373.2h0.6v0.9h-0.6zM855.0 375.0h0.6v0.8h-0.6z"/>
<path fill="#8a8050" d="M845.3 385.5h0.5v0.6h-0.5zM826.8 382.4h0.9v0.6h-0.9zM815.9 382.6h0.8v0.8h-0.8zM864.3 386.7h0.7v0.9h-0.7zM818.3 385.4h1.2v0.6h-1.2zM820.0 385.9h1.3v0.9h-1.3zM860.4 386.8h0.6v1.0h-0.6zM825.6 383.7h1.5v0.9h-1.5zM851.3 383.4h1.3v1.1h-1.3zM817.8 386.7h1.0v1.0h-1.0zM838.4 384.7h1.1v0.8h-1.1zM814.5 382.6h1.2v0.8h-1.2zM855.3 383.8h0.6v0.8h-0.6zM827.7 384.5h1.0v0.7h-1.0zM858.7 385.2h1.5v0.6h-1.5zM847.4 381.8h0.8v1.0h-0.8zM849.5 382.4h0.6v0.8h-0.6zM824.3 385.6h0.9v1.0h-0.9zM856.7 382.3h0.8v1.0h-0.8zM847.1 385.1h0.8v0.8h-0.8zM823.1 383.2h1.0v1.0h-1.0zM856.6 386.9h0.8v0.6h-0.8zM833.9 386.6h0.8v0.7h-0.8zM816.0 381.9h1.1v0.6h-1.1zM840.0 386.5h1.1v0.9h-1.1zM843.9 386.7h0.9v0.7h-0.9zM824.9 382.6h1.4v1.1h-1.4zM831.8 386.3h0.8v0.7h-0.8zM840.3 386.8h0.6v1.0h-0.6zM847.8 386.4h1.6v0.9h-1.6zM831.3 385.3h0.9v1.0h-0.9zM824.2 386.0h1.2v0.9h-1.2zM830.1 382.1h1.2v0.7h-1.2zM843.3 387.0h1.0v0.5h-1.0zM825.2 383.3h0.6v1.0h-0.6zM830.5 384.0h1.1v0.5h-1.1zM832.5 382.9h1.6v1.1h-1.6zM824.9 385.9h0.8v0.6h-0.8zM853.6 387.0h0.8v0.7h-0.8zM829.3 386.9h1.5v0.6h-1.5zM853.5 382.3h0.9v0.7h-0.9zM843.6 382.2h1.2v0.6h-1.2zM860.3 383.0h0.7v0.9h-0.7zM861.1 384.6h1.5v0.8h-1.5zM830.4 384.4h0.9v0.7h-0.9zM845.1 383.2h1.1v0.6h-1.1z"/><path fill="#6a6a40" d="M818.1 385.8h0.8v1.0h-0.8zM840.1 384.2h1.0v0.9h-1.0zM863.4 383.3h1.5v0.9h-1.5zM827.7 385.7h1.0v0.8h-1.0zM850.1 384.5h1.5v0.7h-1.5zM852.9 383.9h1.1v0.9h-1.1zM844.0 382.4h1.5v0.6h-1.5zM816.1 386.5h1.3v0.8h-1.3zM852.5 386.1h1.1v1.0h-1.1zM841.5 386.2h1.2v0.8h-1.2zM844.6 383.1h1.1v0.9h-1.1zM861.6 384.9h1.4v1.0h-1.4zM857.9 382.7h0.5v0.9h-0.5zM856.0 385.2h0.9v0.7h-0.9zM825.6 382.5h1.3v1.0h-1.3zM819.3 385.2h1.3v0.7h-1.3zM830.2 386.3h1.0v0.7h-1.0zM863.8 384.9h1.0v0.9h-1.0zM821.4 383.5h0.8v0.6h-0.8zM829.8 385.1h1.3v0.7h-1.3zM856.4 386.9h0.7v0.6h-0.7zM864.0 383.4h1.5v0.8h-1.5zM852.7 385.8h0.6v0.6h-0.6zM841.9 384.0h0.7v0.9h-0.7zM846.1 383.2h1.6v0.8h-1.6zM834.7 386.7h1.1v0.8h-1.1zM840.8 384.6h1.5v0.6h-1.5zM818.1 385.9h1.2v0.7h-1.2zM850.6 385.4h1.5v0.7h-1.5zM858.4 382.8h0.6v0.9h-0.6zM861.1 384.5h0.7v1.1h-0.7zM832.8 387.2h1.0v0.5h-1.0zM854.6 382.0h0.6v0.7h-0.6zM837.6 386.9h1.4v0.7h-1.4zM841.4 384.4h1.6v1.1h-1.6zM856.0 384.1h1.4v0.7h-1.4zM818.1 383.8h1.3v0.7h-1.3zM813.6 384.3h1.0v1.0h-1.0zM856.4 383.5h0.9v0.8h-0.9zM850.7 382.8h1.4v0.5h-1.4z"/><path fill="#a09860" d="M819.7 385.6h1.0v1.1h-1.0zM856.9 387.1h0.5v0.7h-0.5zM837.8 386.1h0.6v0.9h-0.6zM819.5 386.2h1.5v0.6h-1.5zM834.6 386.4h1.1v0.6h-1.1zM848.9 386.7h1.0v1.0h-1.0zM845.2 387.1h0.8v0.6h-0.8zM853.5 383.0h0.6v0.8h-0.6zM832.8 382.3h1.1v1.0h-1.1zM858.2 381.9h0.6v1.0h-0.6zM825.5 382.1h1.2v1.0h-1.2zM840.6 382.9h1.4v0.9h-1.4zM830.9 384.1h1.5v0.6h-1.5zM850.9 385.8h0.9v0.8h-0.9zM818.4 384.7h1.3v0.8h-1.3zM848.1 382.3h0.9v0.5h-0.9zM861.9 384.9h0.9v1.1h-0.9zM863.2 383.4h1.2v0.9h-1.2zM836.3 387.3h0.5v1.0h-0.5zM862.3 383.5h1.5v1.1h-1.5zM824.6 383.3h1.1v0.7h-1.1zM847.1 386.3h0.8v0.9h-0.8zM810.5 386.7h1.1v0.7h-1.1zM864.1 385.2h1.1v1.0h-1.1zM836.9 385.9h1.3v0.7h-1.3zM847.5 385.8h1.3v0.8h-1.3zM843.7 382.6h0.9v0.8h-0.9zM832.1 382.9h1.0v0.6h-1.0zM838.3 384.7h1.5v1.0h-1.5zM851.8 386.8h1.2v0.6h-1.2zM845.4 386.0h1.1v0.5h-1.1zM856.1 383.6h0.5v0.8h-0.5zM831.1 383.9h0.7v0.9h-0.7zM855.9 383.4h1.4v1.0h-1.4zM842.0 382.6h1.3v0.9h-1.3zM828.0 385.6h0.5v0.6h-0.5zM824.9 381.9h1.0v0.7h-1.0zM832.9 387.1h1.0v0.5h-1.0zM847.3 383.2h1.0v0.8h-1.0zM861.0 384.0h1.0v0.9h-1.0zM837.5 383.1h1.2v0.9h-1.2zM840.6 382.8h1.3v1.0h-1.3zM819.1 386.0h1.5v0.8h-1.5zM827.9 386.7h1.1v0.5h-1.1z"/>
<path fill="#2a4a30" d="M778.1 377.0h1.8v1.0h-1.8zM775.1 374.1h2.6v0.7h-2.6zM776.1 375.3h1.3v0.8h-1.3zM785.0 374.0h2.3v0.7h-2.3zM788.0 372.2h2.9v1.0h-2.9zM775.0 373.3h3.0v1.1h-3.0zM778.6 372.4h2.8v0.8h-2.8zM765.5 374.2h2.0v0.8h-2.0zM766.1 375.8h1.8v0.9h-1.8zM772.6 372.4h1.4v1.1h-1.4zM768.8 376.6h3.2v0.7h-3.2zM762.7 374.3h1.1v0.9h-1.1zM768.1 372.2h2.9v1.0h-2.9z"/><path fill="#456050" d="M786.8 372.3h1.6v0.6h-1.6zM765.5 376.6h1.4v0.6h-1.4zM775.1 373.5h2.2v0.8h-2.2z"/><path fill="#5a7a60" d="M782.8 376.6h0.9v1.0h-0.9zM768.5 372.0h1.8v1.0h-1.8zM761.3 375.2h2.1v0.9h-2.1zM778.3 375.3h1.1v1.1h-1.1zM779.4 376.0h1.5v0.9h-1.5zM779.1 373.0h1.4v0.7h-1.4z"/>
<path fill="#2a4a30" d="M766.3 380.6h0.8v0.9h-0.8zM765.7 380.6h1.4v0.5h-1.4zM776.0 382.4h3.0v0.7h-3.0zM768.9 380.3h1.4v0.6h-1.4zM774.2 381.7h0.8v0.7h-0.8zM760.6 382.4h1.8v0.6h-1.8zM763.6 382.9h1.6v0.7h-1.6zM766.3 383.2h1.7v0.8h-1.7zM765.8 384.6h3.0v1.0h-3.0zM780.7 383.2h1.7v0.9h-1.7z"/><path fill="#456050" d="M778.3 380.3h1.1v0.7h-1.1zM776.5 383.2h1.3v0.7h-1.3zM779.0 383.7h1.3v0.9h-1.3zM762.1 385.0h2.4v0.7h-2.4zM783.3 385.7h1.4v0.8h-1.4z"/><path fill="#5a7a60" d="M772.8 382.3h2.9v0.5h-2.9zM777.3 385.4h1.9v0.8h-1.9zM774.1 383.5h2.1v1.1h-2.1zM782.5 384.5h2.4v0.7h-2.4zM775.5 380.6h1.0v0.7h-1.0zM763.9 383.4h1.4v0.5h-1.4zM762.7 381.4h2.5v0.6h-2.5zM773.2 381.9h2.0v0.6h-2.0zM782.6 382.9h1.2v1.1h-1.2zM786.2 384.5h2.8v0.8h-2.8zM760.7 385.1h2.4v1.1h-2.4z"/>
<line x1="761" y1="378.6" x2="786" y2="378.6" stroke="#2a4a30" stroke-width="0.9"/>
<line x1="756.4" y1="367.1" x2="865.8" y2="367.1" stroke="#ff1c10" stroke-width="1.9"/>
<line x1="756.4" y1="390.7" x2="865.8" y2="390.7" stroke="#ff1c10" stroke-width="1.9"/>
<rect x="1089.0" y="216.0" width="109.8" height="15.6" fill="#fdeedd"/>
<rect x="1119.4" y="216.2" width="79.4" height="8.3" fill="#acd2ca"/>
<rect x="1119.4" y="224.5" width="79.4" height="2.8" fill="#fdf2e4"/>
<rect x="1119.4" y="227.3" width="79.4" height="4.0" fill="#f8d8b0"/>
<rect x="1119.4" y="229.4" width="79.4" height="0.9" fill="#fdf0e0"/>
<line x1="1092" y1="228.6" x2="1119" y2="228.6" stroke="#b0a898" stroke-width="0.6"/>
<line x1="1102" y1="224.3" x2="1110" y2="224.3" stroke="#6a6058" stroke-width="0.9"/>
<line x1="1119.6" y1="216.2" x2="1119.6" y2="231.4" stroke="#4a4038" stroke-width="1.1"/>
<path fill="#8a5e48" d="M1172.8 220.1h0.6v0.9h-0.6zM1171.7 221.2h0.6v0.5h-0.6zM1191.1 219.1h1.2v0.6h-1.2zM1140.6 223.3h0.6v1.0h-0.6zM1121.6 218.8h1.1v1.1h-1.1zM1162.2 221.6h1.3v0.9h-1.3zM1153.6 219.3h1.3v0.8h-1.3zM1194.9 217.5h1.0v1.1h-1.0zM1132.4 220.4h1.2v0.9h-1.2zM1130.8 220.4h1.3v1.1h-1.3zM1159.1 222.8h0.6v1.0h-0.6zM1147.3 221.4h1.5v0.8h-1.5zM1180.1 222.2h1.8v0.6h-1.8zM1133.8 219.4h1.6v0.7h-1.6zM1187.2 218.5h1.3v0.5h-1.3zM1140.2 221.5h1.3v1.1h-1.3zM1196.2 222.7h1.3v1.1h-1.3zM1158.6 221.7h1.6v1.0h-1.6zM1130.6 217.4h1.7v0.9h-1.7zM1167.9 220.6h1.4v0.9h-1.4zM1185.3 217.2h1.8v0.8h-1.8zM1149.5 220.6h0.6v0.7h-0.6zM1195.5 217.7h1.4v0.8h-1.4zM1157.9 219.5h1.8v1.0h-1.8zM1134.6 219.4h1.0v1.0h-1.0zM1137.4 222.8h1.2v1.1h-1.2zM1182.4 223.2h1.4v0.8h-1.4zM1188.7 219.5h0.7v0.7h-0.7zM1184.3 219.3h1.3v0.7h-1.3zM1164.8 222.1h1.5v0.8h-1.5zM1155.0 222.3h1.6v1.0h-1.6zM1174.5 220.9h1.0v0.7h-1.0zM1160.0 218.7h1.2v0.9h-1.2zM1158.1 222.2h0.7v0.8h-0.7zM1169.0 218.7h0.7v0.8h-0.7zM1168.4 216.6h1.1v0.6h-1.1zM1164.4 222.2h1.7v0.8h-1.7zM1157.9 220.1h1.8v0.6h-1.8zM1165.2 220.1h1.6v0.6h-1.6zM1125.2 216.7h1.5v0.7h-1.5zM1166.0 220.4h1.3v0.8h-1.3zM1180.8 218.6h1.5v0.8h-1.5zM1124.3 222.2h1.0v0.6h-1.0zM1180.1 221.2h1.9v0.8h-1.9zM1147.7 223.5h2.0v0.6h-2.0zM1150.7 218.6h1.9v0.5h-1.9zM1185.4 222.9h1.1v0.8h-1.1zM1122.8 218.6h0.8v0.7h-0.8zM1193.4 220.0h1.6v0.9h-1.6zM1197.4 221.0h1.8v0.8h-1.8zM1136.3 220.3h1.7v0.9h-1.7zM1124.9 221.3h1.8v0.9h-1.8zM1145.2 217.1h0.9v1.0h-0.9zM1166.8 221.0h1.6v1.0h-1.6z"/><path fill="#a07458" d="M1143.4 221.1h0.8v0.8h-0.8zM1121.8 219.2h0.8v0.7h-0.8zM1153.2 216.5h1.6v1.1h-1.6zM1120.5 220.5h1.7v0.7h-1.7zM1128.7 223.3h2.0v0.5h-2.0zM1196.8 223.2h0.9v1.0h-0.9zM1133.3 217.4h1.4v1.0h-1.4zM1141.9 221.6h2.0v0.6h-2.0zM1157.3 221.7h1.2v1.0h-1.2zM1152.6 220.5h1.7v0.6h-1.7zM1161.5 219.9h1.6v0.6h-1.6zM1143.1 217.8h1.5v0.6h-1.5zM1164.3 218.4h0.8v0.8h-0.8zM1156.3 220.1h2.0v0.6h-2.0zM1132.8 217.2h1.9v0.5h-1.9zM1135.9 221.5h1.6v0.6h-1.6zM1171.0 222.1h1.6v1.1h-1.6zM1154.7 221.3h1.1v0.8h-1.1zM1172.6 218.7h1.8v0.9h-1.8zM1146.9 218.6h1.7v0.7h-1.7zM1138.7 221.6h1.6v0.9h-1.6zM1166.9 221.6h2.0v0.6h-2.0zM1121.5 218.9h1.6v0.6h-1.6zM1155.7 220.2h1.8v0.8h-1.8zM1188.2 216.5h1.4v0.6h-1.4zM1178.7 222.0h1.2v1.0h-1.2zM1172.1 220.0h1.2v0.9h-1.2zM1187.3 222.6h1.8v0.7h-1.8zM1142.4 222.0h1.1v1.0h-1.1zM1132.3 221.0h1.6v0.6h-1.6zM1156.2 217.9h1.4v0.6h-1.4zM1155.7 220.0h1.5v0.7h-1.5zM1136.6 221.8h1.9v0.5h-1.9zM1189.1 217.4h1.3v0.7h-1.3zM1172.8 223.4h1.0v0.7h-1.0zM1187.3 222.9h1.4v0.7h-1.4zM1123.9 219.6h1.2v0.8h-1.2zM1171.1 220.8h1.0v0.9h-1.0zM1165.6 216.8h1.7v0.6h-1.7zM1196.9 218.3h0.8v1.0h-0.8zM1177.2 216.6h1.4v1.0h-1.4zM1167.6 220.0h1.7v0.8h-1.7zM1195.9 222.6h1.1v1.0h-1.1zM1191.7 220.9h0.7v0.5h-0.7zM1135.0 216.7h1.9v0.6h-1.9zM1179.2 221.0h1.1v1.1h-1.1zM1168.1 220.4h0.8v1.0h-0.8zM1195.6 218.5h1.1v0.9h-1.1zM1126.9 219.9h1.5v1.0h-1.5zM1151.8 219.7h1.0v0.7h-1.0zM1163.9 222.6h0.8v0.8h-0.8zM1129.9 223.3h1.6v0.8h-1.6zM1174.5 218.2h1.8v0.9h-1.8zM1154.8 219.3h0.8v1.0h-0.8zM1157.3 217.2h1.2v0.6h-1.2zM1151.2 222.9h0.8v1.1h-0.8zM1189.8 220.8h1.3v0.8h-1.3zM1175.9 217.3h0.9v1.0h-0.9zM1126.9 218.8h1.4v0.6h-1.4zM1174.1 216.9h1.3v0.8h-1.3zM1187.3 219.4h0.8v0.9h-0.8zM1195.7 218.9h2.0v0.9h-2.0zM1147.3 220.5h0.9v0.8h-0.9zM1196.8 221.7h1.7v0.8h-1.7zM1134.1 221.3h0.8v0.6h-0.8zM1151.6 222.2h0.6v1.1h-0.6zM1124.5 219.8h0.7v0.8h-0.7z"/><path fill="#6e5040" d="M1134.9 223.1h1.5v0.5h-1.5zM1192.2 219.3h1.9v0.7h-1.9zM1168.3 221.8h0.9v0.7h-0.9zM1143.5 221.6h1.8v0.8h-1.8zM1176.3 222.0h1.8v0.8h-1.8zM1157.3 221.7h1.1v0.8h-1.1zM1154.0 219.0h1.7v0.8h-1.7zM1135.3 221.5h1.1v1.1h-1.1zM1156.5 216.7h1.8v1.1h-1.8zM1139.6 218.5h1.7v0.6h-1.7zM1165.6 219.9h1.2v1.1h-1.2zM1160.9 218.8h1.6v0.8h-1.6zM1145.0 219.8h1.9v0.6h-1.9zM1158.3 221.0h1.9v1.0h-1.9zM1144.2 222.7h1.8v0.8h-1.8zM1124.1 217.7h0.6v0.7h-0.6zM1189.8 222.2h0.7v0.8h-0.7zM1162.3 217.4h0.9v1.1h-0.9zM1151.3 222.4h1.5v0.7h-1.5zM1148.5 223.3h1.9v0.6h-1.9zM1178.0 219.8h1.7v0.6h-1.7zM1196.4 221.0h1.6v0.6h-1.6zM1172.9 218.1h0.7v0.7h-0.7zM1178.0 218.2h1.7v0.5h-1.7zM1192.9 222.1h1.0v0.5h-1.0zM1197.0 220.6h1.3v0.6h-1.3zM1195.6 218.9h1.8v0.7h-1.8zM1187.4 223.0h1.7v0.6h-1.7zM1194.5 218.1h1.2v1.0h-1.2zM1164.2 216.5h1.1v0.7h-1.1zM1147.2 220.6h0.9v0.9h-0.9zM1175.5 223.5h1.1v0.9h-1.1zM1144.9 219.4h1.7v1.1h-1.7zM1122.3 217.6h1.4v0.7h-1.4zM1179.9 221.1h1.5v0.8h-1.5zM1184.7 217.9h0.7v1.0h-0.7zM1122.5 216.7h1.9v0.6h-1.9zM1160.2 223.5h1.6v0.5h-1.6zM1146.4 220.5h1.0v0.7h-1.0zM1132.0 219.5h1.0v0.7h-1.0zM1185.3 218.7h1.4v1.0h-1.4zM1123.5 220.4h1.6v0.5h-1.6zM1197.5 220.8h1.9v0.6h-1.9zM1144.8 218.7h0.9v1.0h-0.9zM1139.4 221.9h0.7v0.8h-0.7zM1131.7 220.0h1.5v1.0h-1.5zM1175.6 217.8h1.0v0.7h-1.0zM1129.9 216.9h0.9v0.7h-0.9zM1131.2 222.7h1.2v0.9h-1.2zM1132.5 219.8h2.0v1.0h-2.0zM1168.9 217.8h0.8v0.7h-0.8zM1196.1 222.0h1.6v0.5h-1.6zM1184.1 221.3h1.1v0.9h-1.1zM1176.7 221.3h1.0v0.5h-1.0zM1151.7 219.0h1.4v1.0h-1.4zM1185.9 220.1h1.6v0.6h-1.6zM1144.1 223.3h1.6v0.6h-1.6z"/><path fill="#b89878" d="M1158.9 219.4h1.8v1.0h-1.8zM1157.7 218.7h1.0v1.1h-1.0zM1122.2 223.4h1.9v0.8h-1.9zM1132.3 219.4h1.8v0.7h-1.8zM1190.3 223.0h1.2v0.7h-1.2zM1132.6 220.0h1.8v1.1h-1.8zM1169.1 222.9h0.6v1.0h-0.6zM1121.2 219.3h0.8v0.6h-0.8zM1194.8 218.5h1.9v0.8h-1.9zM1139.2 219.5h0.6v0.8h-0.6zM1181.4 223.2h0.9v0.5h-0.9zM1122.0 218.5h1.8v0.7h-1.8zM1169.9 218.7h1.1v1.1h-1.1zM1136.7 219.5h1.4v0.7h-1.4zM1195.5 218.9h1.1v0.9h-1.1zM1130.0 219.9h1.6v0.8h-1.6zM1153.4 219.9h1.6v0.7h-1.6zM1135.9 217.2h1.2v1.0h-1.2zM1144.6 221.9h1.5v0.9h-1.5zM1156.6 222.7h0.7v0.7h-0.7zM1176.0 218.5h1.8v0.9h-1.8zM1151.1 218.2h1.2v0.9h-1.2zM1154.9 220.7h1.2v0.5h-1.2zM1142.3 221.9h1.8v0.8h-1.8zM1184.9 219.1h1.8v0.7h-1.8zM1121.5 219.0h1.5v0.6h-1.5zM1172.9 223.2h1.2v0.7h-1.2zM1190.2 222.4h0.6v0.6h-0.6zM1127.3 223.2h0.8v1.0h-0.8zM1168.8 220.5h1.0v1.1h-1.0zM1150.3 221.8h1.3v0.8h-1.3zM1186.4 217.2h1.5v1.0h-1.5zM1133.8 218.4h1.4v0.9h-1.4zM1149.6 216.4h1.1v0.9h-1.1zM1135.2 218.3h1.6v0.7h-1.6zM1121.8 219.9h1.1v1.1h-1.1zM1196.2 221.7h1.2v0.6h-1.2zM1171.9 222.6h1.3v0.8h-1.3zM1182.5 218.8h1.8v0.9h-1.8zM1172.3 219.9h1.9v0.5h-1.9zM1127.4 222.8h1.7v0.6h-1.7zM1187.2 216.6h1.0v0.6h-1.0zM1140.9 219.7h1.2v1.0h-1.2zM1132.4 222.9h0.6v1.1h-0.6zM1165.1 220.8h1.6v1.0h-1.6zM1151.7 221.7h1.7v0.7h-1.7zM1141.2 223.3h1.7v0.6h-1.7zM1145.4 220.6h1.1v0.7h-1.1zM1168.3 219.2h2.0v0.7h-2.0zM1130.7 218.1h1.3v1.0h-1.3zM1159.2 220.7h0.9v0.9h-0.9zM1129.4 218.8h1.6v0.6h-1.6zM1142.3 219.5h0.7v1.0h-0.7zM1177.8 223.1h0.7v0.6h-0.7zM1194.3 221.3h1.5v0.9h-1.5zM1162.6 222.1h1.0v1.0h-1.0zM1194.3 223.4h1.2v0.7h-1.2zM1184.0 219.3h1.0v0.5h-1.0zM1144.4 217.6h0.9v1.1h-0.9zM1191.3 220.1h0.8v1.0h-0.8zM1165.3 220.6h1.7v0.7h-1.7zM1156.7 222.4h1.5v0.7h-1.5zM1189.6 221.6h0.8v0.6h-0.8zM1162.1 221.1h1.5v0.5h-1.5zM1184.9 222.4h1.9v1.1h-1.9zM1189.5 217.4h1.6v0.9h-1.6zM1158.0 219.7h1.6v0.8h-1.6zM1164.1 222.6h1.3v0.6h-1.3zM1124.9 219.8h1.6v0.7h-1.6zM1176.8 218.4h0.9v0.9h-0.9zM1139.7 217.4h1.9v1.0h-1.9zM1124.8 220.5h1.5v0.9h-1.5zM1142.4 216.5h0.7v0.7h-0.7zM1146.7 223.1h1.6v1.0h-1.6zM1131.9 219.0h1.0v0.6h-1.0zM1163.6 219.3h0.6v0.6h-0.6z"/><path fill="#7f9f98" d="M1166.9 223.5h1.4v0.9h-1.4zM1142.8 222.5h1.4v0.9h-1.4zM1168.0 223.0h0.9v0.5h-0.9zM1157.4 222.9h1.7v0.7h-1.7zM1121.3 217.6h1.4v0.5h-1.4zM1170.2 221.4h1.4v0.6h-1.4zM1144.2 221.5h1.7v0.9h-1.7zM1185.2 221.7h1.7v0.8h-1.7zM1163.2 217.9h1.3v0.6h-1.3zM1163.4 222.5h1.2v1.0h-1.2zM1143.3 220.5h1.5v1.0h-1.5zM1170.2 219.6h2.0v0.5h-2.0zM1160.7 220.4h0.6v0.6h-0.6zM1171.2 220.4h1.2v0.9h-1.2zM1180.3 220.3h1.8v0.6h-1.8zM1195.2 223.4h1.3v0.5h-1.3zM1122.3 218.6h1.0v0.9h-1.0zM1172.9 222.0h0.8v0.5h-0.8zM1184.5 218.0h1.8v1.0h-1.8zM1189.6 216.6h1.9v0.7h-1.9zM1155.4 221.3h1.6v1.0h-1.6zM1135.2 221.8h2.0v0.8h-2.0zM1132.3 218.6h1.9v0.9h-1.9zM1124.3 223.1h1.3v1.1h-1.3zM1120.9 220.6h1.0v0.9h-1.0zM1186.6 219.3h2.0v1.0h-2.0zM1190.3 222.1h1.1v0.6h-1.1zM1181.8 220.6h0.9v1.0h-0.9zM1162.9 216.5h1.5v0.6h-1.5zM1142.3 223.1h1.5v0.8h-1.5zM1192.7 222.2h0.7v0.6h-0.7zM1174.1 219.1h1.7v0.9h-1.7zM1196.4 221.0h0.8v0.6h-0.8zM1154.8 220.0h2.0v0.6h-2.0zM1121.1 218.1h0.8v0.6h-0.8zM1123.9 222.2h1.5v0.9h-1.5zM1191.7 216.4h0.8v0.8h-0.8zM1188.4 219.1h1.5v0.6h-1.5zM1175.5 217.2h1.6v0.5h-1.6zM1152.5 217.0h0.9v1.0h-0.9zM1188.3 219.6h1.3v0.9h-1.3zM1191.7 221.1h1.2v0.7h-1.2zM1154.1 216.8h1.6v0.7h-1.6zM1134.3 222.0h1.3v0.8h-1.3zM1155.6 218.3h0.9v1.1h-0.9zM1191.1 222.9h1.9v1.0h-1.9zM1145.5 223.4h1.2v0.8h-1.2zM1167.9 219.4h1.1v0.9h-1.1zM1151.9 220.1h1.3v0.7h-1.3zM1186.5 219.1h1.4v0.8h-1.4zM1146.5 220.5h1.8v1.0h-1.8zM1188.7 218.4h0.8v0.5h-0.8zM1159.7 218.7h0.9v0.6h-0.9zM1176.0 220.3h0.8v0.8h-0.8zM1194.6 219.9h0.9v1.1h-0.9zM1143.1 221.0h1.8v1.0h-1.8zM1181.2 222.0h1.5v0.8h-1.5zM1171.0 223.5h1.7v0.7h-1.7zM1131.6 221.2h1.6v0.7h-1.6zM1176.6 222.5h0.7v0.5h-0.7zM1141.9 217.8h1.6v0.9h-1.6zM1120.6 221.2h2.0v0.9h-2.0zM1188.7 223.3h1.6v0.9h-1.6zM1136.7 221.8h0.9v0.9h-0.9zM1187.0 219.9h2.0v0.5h-2.0zM1135.4 216.7h1.7v0.6h-1.7zM1170.4 218.9h1.3v0.8h-1.3zM1128.5 218.8h1.6v0.7h-1.6zM1133.2 220.4h1.6v0.8h-1.6zM1184.2 219.3h2.0v1.0h-2.0zM1172.0 216.8h1.3v0.8h-1.3zM1168.1 221.5h1.7v1.0h-1.7zM1144.2 217.8h1.5v0.7h-1.5zM1126.2 217.2h1.1v0.7h-1.1zM1166.3 218.4h1.2v1.1h-1.2zM1130.9 220.8h1.7v0.9h-1.7z"/>
<path fill="#b08860" d="M1120.4 229.2h1.1v0.9h-1.1zM1175.4 228.6h0.6v1.1h-0.6zM1166.4 229.4h1.1v0.8h-1.1zM1131.7 229.9h1.2v1.0h-1.2zM1187.5 227.6h0.8v1.0h-0.8zM1128.6 230.1h1.5v1.0h-1.5zM1156.6 228.4h1.4v1.0h-1.4zM1174.1 228.0h0.7v1.0h-0.7zM1121.7 228.0h1.5v0.9h-1.5zM1168.9 229.2h0.7v0.9h-0.7zM1153.6 229.7h1.0v0.9h-1.0zM1173.4 227.6h1.5v0.7h-1.5zM1146.5 227.9h1.3v0.7h-1.3zM1172.8 228.3h1.3v0.5h-1.3zM1152.3 228.2h1.7v0.7h-1.7zM1146.8 227.6h0.8v0.6h-0.8zM1153.3 229.0h1.5v0.9h-1.5zM1164.7 227.5h1.6v0.8h-1.6zM1129.4 229.0h0.8v0.7h-0.8zM1153.2 229.8h1.3v1.1h-1.3zM1180.9 227.5h1.8v1.0h-1.8zM1183.8 228.9h1.0v1.0h-1.0zM1168.4 228.7h1.1v1.0h-1.1z"/><path fill="#8a7060" d="M1152.1 228.5h1.4v1.0h-1.4zM1120.9 228.7h1.6v0.6h-1.6zM1163.6 228.2h1.3v0.6h-1.3zM1153.2 229.0h1.6v1.0h-1.6zM1167.0 227.8h0.7v0.6h-0.7zM1133.4 228.5h1.6v0.7h-1.6zM1140.6 230.0h1.5v0.6h-1.5zM1170.5 228.1h1.2v1.0h-1.2zM1175.9 228.7h0.9v0.8h-0.9zM1141.1 229.6h1.4v1.0h-1.4zM1127.1 228.1h1.8v0.9h-1.8zM1173.2 227.8h1.6v0.9h-1.6zM1196.9 227.9h1.8v0.6h-1.8zM1176.4 229.4h1.4v0.6h-1.4zM1139.2 228.9h1.4v1.1h-1.4zM1190.9 227.7h1.2v0.8h-1.2zM1193.6 227.4h0.6v0.7h-0.6zM1153.2 228.4h0.8v0.9h-0.8zM1139.1 228.0h0.6v0.8h-0.6zM1150.9 227.7h1.8v1.1h-1.8zM1148.4 230.1h1.0v0.9h-1.0zM1192.8 228.3h1.2v0.7h-1.2zM1144.6 228.7h0.8v0.6h-0.8zM1180.0 228.4h1.6v1.0h-1.6zM1127.0 229.8h0.7v0.9h-0.7z"/><path fill="#e0a040" d="M1167.0 227.5h1.0v1.0h-1.0zM1134.8 227.7h0.7v0.7h-0.7zM1166.1 229.2h0.6v0.8h-0.6zM1139.6 230.1h1.1v1.0h-1.1zM1197.6 229.5h1.8v0.5h-1.8zM1179.4 228.9h1.0v0.7h-1.0zM1179.6 228.1h1.0v0.7h-1.0zM1173.5 230.0h1.3v0.7h-1.3zM1162.4 228.1h1.1v0.7h-1.1zM1155.0 228.8h1.6v0.8h-1.6zM1133.8 229.1h0.6v0.7h-0.6zM1178.3 229.3h0.7v0.5h-0.7zM1188.0 227.8h1.6v0.5h-1.6zM1155.7 228.3h1.4v0.8h-1.4zM1175.9 227.9h0.7v0.8h-0.7zM1183.7 227.9h1.5v0.8h-1.5zM1139.5 227.4h1.2v1.0h-1.2zM1122.2 229.3h1.1v0.7h-1.1zM1149.0 227.9h1.5v0.7h-1.5zM1127.6 230.1h0.9v0.7h-0.9zM1125.3 227.6h1.5v0.9h-1.5zM1125.8 229.3h1.5v0.8h-1.5zM1197.6 227.4h1.3v0.7h-1.3zM1163.4 227.5h1.5v1.0h-1.5zM1135.4 228.9h1.2v0.6h-1.2z"/><path fill="#a9c8be" d="M1184.0 227.7h1.4v0.7h-1.4zM1179.1 229.3h1.2v1.0h-1.2zM1131.7 228.0h1.0v0.6h-1.0zM1174.1 229.4h0.8v1.1h-0.8zM1196.9 228.8h1.0v0.5h-1.0zM1142.4 228.9h1.5v1.1h-1.5zM1196.0 228.9h0.8v1.0h-0.8zM1120.9 229.7h1.0v0.7h-1.0zM1145.3 229.5h1.3v0.8h-1.3zM1158.4 229.2h1.0v0.9h-1.0zM1150.2 228.8h1.4v0.7h-1.4zM1167.4 229.2h1.4v0.5h-1.4zM1158.6 229.8h0.9v0.5h-0.9zM1177.1 230.0h1.4v0.9h-1.4zM1145.3 227.9h1.6v0.8h-1.6zM1128.3 228.8h1.1v0.9h-1.1zM1121.8 227.9h1.0v0.9h-1.0zM1186.6 229.4h1.3v0.8h-1.3zM1166.3 229.4h1.5v0.7h-1.5zM1148.9 229.9h1.6v1.1h-1.6zM1149.6 229.2h1.3v0.9h-1.3zM1134.3 229.2h1.2v0.8h-1.2zM1152.0 227.8h1.0v1.1h-1.0zM1179.5 230.0h1.1v0.7h-1.1zM1184.1 228.0h1.2v1.1h-1.2zM1156.9 228.1h1.2v0.7h-1.2zM1174.0 228.0h1.1v0.5h-1.1z"/>
<path fill="#6a6058" d="M1151.2 225.7h1.2v0.9h-1.2zM1156.3 225.9h1.0v1.1h-1.0zM1124.7 225.5h0.9v0.9h-0.9zM1157.7 225.8h0.9v0.9h-0.9zM1125.7 225.2h1.0v0.6h-1.0zM1145.4 225.6h0.5v0.9h-0.5z"/><path fill="#8a7a70" d="M1139.7 225.1h1.0v1.0h-1.0zM1132.0 225.4h0.9v0.7h-0.9zM1191.2 224.8h0.6v1.0h-0.6zM1120.6 225.7h1.1v0.9h-1.1zM1146.9 225.6h1.2v0.5h-1.2zM1177.4 225.8h0.9v0.9h-0.9zM1146.2 225.1h0.8v0.6h-0.8zM1125.9 224.8h0.7v0.9h-0.7zM1163.4 224.8h1.1v0.9h-1.1zM1146.8 224.9h0.9v0.8h-0.9z"/>
<line x1="1089.0" y1="215.3" x2="1198.8" y2="215.3" stroke="#ff1c10" stroke-width="1.9"/>
<line x1="1089.0" y1="232.1" x2="1198.8" y2="232.1" stroke="#ff1c10" stroke-width="1.9"/>
<rect x="1423.2" y="281.0" width="109.0" height="27.0" fill="#fdeedd"/>
<rect x="1450.0" y="281.2" width="82.2" height="26.4" fill="#b0d4cc"/>
<rect x="1450.0" y="294.3" width="82.2" height="2.3" fill="#76887e"/>
<rect x="1423.2" y="294.6" width="27.0" height="1.6" fill="#c4b8a8"/>
<rect x="1423.2" y="288.0" width="27.0" height="4.5" fill="#b8d8d0"/>
<rect x="1423.2" y="302.5" width="27.0" height="3.2" fill="#b8d8d0"/>
<line x1="1450.4" y1="281.2" x2="1450.4" y2="307.6" stroke="#6a6a60" stroke-width="0.9"/>
<path fill="#8a5a40" d="M1496.9 284.4h1.6v0.6h-1.6zM1464.7 305.4h2.6v0.9h-2.6zM1489.5 300.9h2.2v0.6h-2.2zM1525.1 289.8h1.5v0.9h-1.5zM1461.4 303.7h1.7v0.7h-1.7zM1511.4 297.9h2.2v1.1h-2.2zM1502.6 291.4h1.1v1.0h-1.1zM1525.4 305.5h1.7v0.9h-1.7zM1517.7 300.5h2.0v0.8h-2.0zM1504.7 297.4h0.7v0.8h-0.7zM1489.5 299.0h1.1v0.7h-1.1zM1455.6 281.9h1.1v1.0h-1.1zM1515.6 301.3h1.9v0.6h-1.9zM1463.3 302.2h2.2v0.8h-2.2zM1484.2 303.7h1.5v0.9h-1.5zM1483.3 282.3h2.5v0.6h-2.5zM1509.6 299.5h2.1v0.7h-2.1zM1460.5 288.7h0.8v1.0h-0.8zM1520.6 291.8h1.0v0.7h-1.0zM1514.3 300.6h1.4v1.1h-1.4zM1509.2 288.1h1.4v0.7h-1.4zM1474.1 284.7h2.1v0.7h-2.1zM1501.6 289.3h1.8v0.9h-1.8zM1476.0 299.6h1.0v0.8h-1.0zM1517.7 300.3h1.0v0.7h-1.0zM1451.6 298.7h1.4v0.8h-1.4zM1495.5 296.0h1.4v0.8h-1.4zM1456.3 286.0h2.2v0.6h-2.2zM1508.9 299.7h2.3v0.8h-2.3zM1451.6 282.8h1.6v0.5h-1.6zM1453.3 284.3h1.5v1.1h-1.5zM1510.0 292.1h1.7v0.8h-1.7zM1524.0 303.3h0.8v0.7h-0.8zM1500.8 290.9h2.2v0.9h-2.2zM1494.1 285.4h1.8v1.1h-1.8zM1522.5 284.6h1.0v0.9h-1.0zM1510.8 289.8h1.3v0.9h-1.3zM1484.2 296.0h2.3v0.7h-2.3zM1515.4 287.1h1.4v0.9h-1.4zM1481.0 303.3h1.0v1.0h-1.0zM1460.1 296.5h1.3v0.9h-1.3zM1497.8 299.5h1.0v1.1h-1.0zM1526.7 300.3h0.9v0.6h-0.9zM1485.2 294.3h2.5v0.8h-2.5zM1454.2 290.0h2.1v1.0h-2.1zM1461.3 292.3h1.2v1.1h-1.2zM1515.2 300.8h2.0v0.9h-2.0zM1487.6 300.8h1.1v0.6h-1.1zM1456.7 291.3h2.5v1.0h-2.5zM1489.5 292.2h0.9v0.6h-0.9zM1479.5 306.0h2.5v0.6h-2.5zM1455.5 296.6h0.9v0.9h-0.9zM1460.9 304.6h0.9v1.0h-0.9zM1497.1 295.8h1.5v0.7h-1.5zM1483.4 298.2h2.1v0.7h-2.1zM1493.1 292.4h2.2v1.0h-2.2zM1515.7 301.1h1.8v0.9h-1.8zM1462.4 290.2h1.7v0.6h-1.7zM1457.4 305.7h1.3v0.8h-1.3zM1503.2 298.8h0.9v0.8h-0.9zM1496.5 285.9h1.9v0.6h-1.9zM1484.7 306.2h1.5v1.1h-1.5zM1464.3 293.2h2.4v0.6h-2.4zM1467.6 285.3h0.9v0.9h-0.9zM1475.3 297.0h2.0v0.7h-2.0zM1472.6 282.9h1.3v0.8h-1.3zM1505.9 287.2h1.9v0.7h-1.9zM1469.8 306.3h1.7v1.0h-1.7zM1507.4 289.9h1.6v0.6h-1.6zM1506.5 282.3h0.9v0.8h-0.9zM1469.1 303.0h1.8v1.1h-1.8zM1525.4 287.3h1.7v0.7h-1.7zM1513.8 290.4h1.1v0.9h-1.1zM1527.7 298.3h1.6v0.9h-1.6zM1451.4 289.1h1.3v0.8h-1.3zM1477.3 294.3h1.8v1.0h-1.8zM1492.8 287.6h1.2v0.6h-1.2zM1481.3 300.7h1.9v0.6h-1.9zM1509.9 300.4h0.9v1.1h-0.9zM1484.0 291.8h1.0v1.0h-1.0zM1456.3 305.0h2.1v0.8h-2.1zM1521.3 296.6h2.6v0.6h-2.6zM1476.1 285.1h1.3v0.9h-1.3zM1486.5 287.3h1.2v0.7h-1.2zM1455.1 303.8h0.9v0.9h-0.9zM1507.9 303.3h2.5v1.0h-2.5zM1529.1 305.9h1.2v1.1h-1.2zM1493.1 296.1h0.8v0.8h-0.8zM1481.1 301.9h1.6v0.8h-1.6zM1514.1 291.3h1.1v0.5h-1.1zM1521.5 295.6h1.6v0.7h-1.6zM1498.7 302.4h1.3v1.0h-1.3zM1463.1 284.7h1.3v0.6h-1.3zM1457.8 294.5h1.9v0.7h-1.9zM1515.8 303.2h1.6v0.6h-1.6zM1527.2 283.3h2.5v0.7h-2.5zM1502.6 299.3h1.4v0.6h-1.4zM1481.5 294.0h1.6v0.8h-1.6zM1469.7 297.3h1.1v0.9h-1.1zM1470.1 305.1h0.9v0.7h-0.9zM1468.5 288.5h0.8v1.1h-0.8zM1505.6 284.4h0.9v1.1h-0.9zM1494.5 297.2h2.0v0.9h-2.0zM1451.2 288.2h1.9v0.7h-1.9zM1518.4 289.9h1.1v0.7h-1.1zM1465.1 292.8h1.2v0.7h-1.2zM1493.6 298.7h2.4v0.6h-2.4zM1507.0 300.7h1.0v0.7h-1.0zM1494.2 297.0h1.0v0.9h-1.0zM1500.7 293.4h1.9v0.6h-1.9zM1481.4 300.7h2.2v0.7h-2.2zM1467.4 293.3h1.6v0.8h-1.6zM1486.9 296.4h1.2v1.0h-1.2zM1461.4 294.5h2.4v0.8h-2.4zM1480.4 286.3h2.3v1.0h-2.3zM1453.0 298.5h1.5v0.9h-1.5zM1485.0 301.7h1.9v0.7h-1.9zM1490.4 301.0h1.7v0.7h-1.7z"/><path fill="#9c6a4a" d="M1451.8 293.0h2.6v0.7h-2.6zM1480.7 305.0h2.2v0.9h-2.2zM1501.1 305.7h1.4v0.5h-1.4zM1501.8 291.7h1.6v0.9h-1.6zM1525.2 286.6h1.5v1.0h-1.5zM1519.7 296.0h1.3v0.8h-1.3zM1456.7 303.1h1.1v1.1h-1.1zM1462.3 281.6h2.2v1.0h-2.2zM1521.4 301.7h2.5v0.5h-2.5zM1490.7 285.7h1.3v0.7h-1.3zM1483.6 285.2h1.0v0.6h-1.0zM1477.2 290.0h1.3v0.9h-1.3zM1492.5 289.1h2.4v0.7h-2.4zM1466.8 286.4h0.9v0.7h-0.9zM1476.3 291.9h2.2v0.8h-2.2zM1462.3 294.1h1.2v0.6h-1.2zM1473.7 281.8h1.0v1.0h-1.0zM1486.4 300.4h1.7v0.6h-1.7zM1486.6 289.0h0.7v0.6h-0.7zM1484.3 295.3h2.5v1.0h-2.5zM1520.5 282.2h0.8v1.0h-0.8zM1505.4 295.7h1.0v0.7h-1.0zM1470.4 295.7h1.6v0.8h-1.6zM1461.0 283.1h2.3v0.8h-2.3zM1495.2 283.4h2.2v0.5h-2.2zM1521.4 286.1h1.8v0.9h-1.8zM1504.4 286.5h0.8v1.0h-0.8zM1454.8 297.1h1.1v0.6h-1.1zM1530.4 302.2h0.9v1.0h-0.9zM1502.2 290.6h1.0v0.8h-1.0zM1476.7 303.1h1.7v0.6h-1.7zM1457.6 296.0h2.0v1.0h-2.0zM1497.1 293.1h1.5v0.9h-1.5zM1458.6 297.1h1.4v0.8h-1.4zM1481.2 300.5h1.6v0.9h-1.6zM1479.1 297.5h0.9v0.9h-0.9zM1472.1 295.4h1.8v0.9h-1.8zM1526.2 282.0h0.9v1.0h-0.9zM1472.0 283.8h1.5v0.9h-1.5zM1466.1 301.3h1.5v0.9h-1.5zM1464.1 283.0h1.4v1.0h-1.4zM1528.0 290.0h1.9v1.1h-1.9zM1507.1 299.6h1.0v0.6h-1.0zM1490.4 283.3h1.6v0.6h-1.6zM1530.0 288.1h1.2v1.0h-1.2zM1458.5 292.9h2.2v1.0h-2.2zM1477.6 305.4h2.5v0.9h-2.5zM1511.2 294.2h2.1v0.6h-2.1zM1481.3 288.8h2.2v1.1h-2.2zM1496.4 295.1h1.4v0.8h-1.4zM1527.8 290.8h2.0v0.9h-2.0zM1502.0 305.7h1.3v0.8h-1.3zM1451.3 283.8h2.6v0.8h-2.6zM1516.6 298.9h2.0v0.7h-2.0zM1504.4 305.5h1.0v0.6h-1.0zM1473.6 306.0h2.2v0.6h-2.2zM1492.8 306.3h2.1v0.8h-2.1zM1494.0 300.3h2.4v0.8h-2.4zM1487.0 289.1h2.4v0.7h-2.4zM1480.2 300.1h1.9v0.7h-1.9zM1455.8 293.2h1.3v0.7h-1.3zM1479.7 285.3h1.0v0.9h-1.0zM1479.8 294.7h2.4v0.6h-2.4zM1482.6 295.0h1.9v0.6h-1.9zM1482.3 299.9h0.8v0.6h-0.8zM1494.7 293.2h1.3v0.7h-1.3zM1519.8 282.8h2.6v0.6h-2.6zM1475.2 286.6h1.6v1.1h-1.6zM1491.2 282.8h2.5v1.0h-2.5zM1461.8 302.1h2.3v0.9h-2.3zM1502.1 285.7h1.6v0.6h-1.6zM1497.3 305.4h0.9v0.6h-0.9zM1467.7 295.8h2.5v0.8h-2.5zM1489.9 286.7h2.6v1.0h-2.6zM1523.2 281.8h2.3v0.8h-2.3zM1467.4 302.3h1.8v0.8h-1.8zM1521.3 306.3h1.1v0.7h-1.1zM1470.1 287.8h1.5v0.7h-1.5zM1529.8 300.3h2.3v0.6h-2.3zM1522.4 289.0h1.4v0.7h-1.4zM1506.1 293.6h1.5v0.9h-1.5zM1498.4 283.0h2.0v0.8h-2.0zM1480.3 305.1h1.2v0.9h-1.2zM1473.4 302.7h2.6v0.9h-2.6zM1456.5 296.6h1.5v0.7h-1.5zM1460.5 292.7h1.7v0.6h-1.7zM1500.4 288.5h2.4v1.1h-2.4zM1523.1 282.4h1.1v1.0h-1.1zM1515.6 298.6h1.6v0.7h-1.6zM1527.3 282.6h0.7v0.8h-0.7zM1469.5 295.6h2.3v0.7h-2.3zM1506.6 299.1h1.9v0.7h-1.9zM1453.2 305.2h2.4v0.9h-2.4zM1487.7 294.9h1.4v0.9h-1.4zM1503.1 282.2h1.4v0.8h-1.4zM1492.7 287.0h2.1v0.8h-2.1zM1478.0 294.4h1.3v1.0h-1.3zM1457.3 294.3h2.5v1.1h-2.5zM1490.9 295.8h1.4v1.0h-1.4zM1491.8 293.7h1.4v1.0h-1.4zM1513.0 286.6h1.3v1.1h-1.3zM1513.5 291.7h1.6v0.9h-1.6zM1515.4 281.9h2.0v0.7h-2.0zM1491.2 299.6h1.3v1.1h-1.3zM1527.7 286.5h1.5v1.0h-1.5zM1474.8 292.7h0.8v1.0h-0.8zM1493.3 304.6h2.5v0.8h-2.5zM1457.4 303.6h1.5v0.7h-1.5zM1485.7 300.4h2.5v0.8h-2.5zM1464.2 297.8h1.0v0.8h-1.0zM1501.3 300.5h1.9v0.9h-1.9zM1458.0 289.2h1.8v0.7h-1.8zM1505.1 295.4h1.7v0.8h-1.7zM1461.8 294.2h2.2v0.6h-2.2zM1511.9 300.6h1.3v0.6h-1.3zM1473.9 283.4h1.9v0.6h-1.9zM1460.7 288.4h0.8v1.1h-0.8zM1496.6 304.3h2.3v0.8h-2.3zM1471.3 294.1h2.0v0.6h-2.0zM1488.0 291.0h1.7v0.8h-1.7zM1488.6 304.5h0.9v0.5h-0.9zM1473.1 306.1h0.8v0.5h-0.8zM1477.5 300.8h1.2v1.0h-1.2zM1462.8 299.7h2.2v0.5h-2.2zM1501.3 297.5h2.6v0.9h-2.6zM1488.8 286.8h2.3v0.6h-2.3z"/><path fill="#7a5444" d="M1502.3 297.2h1.2v1.0h-1.2zM1510.4 284.5h0.7v0.6h-0.7zM1518.0 282.6h2.5v0.6h-2.5zM1505.6 292.8h0.7v1.0h-0.7zM1527.9 290.2h1.4v0.9h-1.4zM1460.9 299.0h1.4v0.9h-1.4zM1480.8 303.5h1.6v0.5h-1.6zM1527.3 291.7h1.2v0.8h-1.2zM1470.5 283.7h1.0v0.6h-1.0zM1523.3 282.6h2.0v0.7h-2.0zM1516.4 303.7h1.9v0.7h-1.9zM1504.3 293.8h2.5v0.7h-2.5zM1503.9 281.9h1.6v0.7h-1.6zM1489.0 300.1h2.2v0.6h-2.2zM1476.7 304.4h2.1v0.9h-2.1zM1476.7 281.9h1.2v0.6h-1.2zM1485.8 295.1h2.6v0.6h-2.6zM1464.3 303.2h1.4v0.7h-1.4zM1480.9 302.3h1.9v0.5h-1.9zM1481.5 290.8h1.1v0.9h-1.1zM1512.3 293.7h1.6v1.0h-1.6zM1499.6 303.1h1.5v0.9h-1.5zM1479.1 289.2h1.1v1.0h-1.1zM1484.4 290.0h0.8v1.0h-0.8zM1508.4 298.8h1.3v0.7h-1.3zM1471.5 286.1h1.4v0.8h-1.4zM1510.8 300.9h2.5v1.1h-2.5zM1464.9 287.1h1.6v1.0h-1.6zM1512.8 299.3h1.7v0.9h-1.7zM1462.8 295.0h1.6v0.9h-1.6zM1478.2 305.9h1.8v0.7h-1.8zM1466.9 290.4h0.8v0.8h-0.8zM1487.8 294.4h1.3v0.8h-1.3zM1522.0 304.0h2.1v0.6h-2.1zM1486.4 287.9h1.5v0.6h-1.5zM1519.0 285.8h1.5v0.7h-1.5zM1505.9 282.6h0.9v0.7h-0.9zM1465.0 305.0h0.7v0.6h-0.7zM1499.4 292.3h1.3v0.9h-1.3zM1525.8 297.2h1.9v0.6h-1.9zM1460.1 301.9h1.1v1.1h-1.1zM1471.5 286.6h1.3v1.0h-1.3zM1530.8 292.9h1.3v0.8h-1.3zM1495.1 285.0h1.2v0.8h-1.2zM1454.7 282.3h2.6v0.8h-2.6zM1517.5 301.7h2.1v1.1h-2.1zM1468.6 302.1h1.5v0.7h-1.5zM1472.9 300.4h1.2v0.7h-1.2zM1531.1 289.2h1.2v0.7h-1.2zM1511.0 300.4h1.6v0.5h-1.6zM1523.1 305.2h2.2v0.9h-2.2zM1507.5 303.9h1.1v0.6h-1.1zM1484.8 297.5h2.3v0.9h-2.3zM1483.7 284.8h1.0v0.7h-1.0zM1459.6 305.4h2.1v0.8h-2.1zM1504.5 282.8h1.2v1.0h-1.2zM1483.4 296.0h2.2v0.8h-2.2zM1505.0 303.3h1.7v1.0h-1.7zM1470.2 299.9h1.9v0.5h-1.9zM1519.4 282.0h1.2v0.6h-1.2zM1511.3 301.6h1.3v1.1h-1.3zM1475.0 295.0h1.2v0.8h-1.2zM1481.5 299.0h1.3v0.8h-1.3zM1527.5 304.1h0.8v0.8h-0.8zM1517.9 293.2h2.1v1.0h-2.1zM1468.6 281.8h1.3v0.9h-1.3zM1479.9 304.0h2.1v0.7h-2.1zM1518.2 291.1h2.4v0.7h-2.4zM1470.7 301.5h2.3v0.5h-2.3zM1514.2 296.1h2.5v1.0h-2.5zM1462.2 302.0h1.4v1.1h-1.4zM1524.6 305.7h2.5v0.7h-2.5zM1501.9 305.3h2.4v1.1h-2.4zM1493.0 297.0h1.9v0.8h-1.9zM1523.5 282.4h2.3v1.0h-2.3zM1456.0 289.4h2.2v0.6h-2.2zM1522.7 305.0h0.8v1.0h-0.8zM1485.3 298.6h1.8v1.1h-1.8zM1476.2 303.8h0.7v0.7h-0.7zM1454.0 288.5h1.6v1.0h-1.6zM1515.5 292.2h1.8v0.6h-1.8zM1477.7 286.0h2.1v0.9h-2.1zM1513.8 301.7h1.8v0.8h-1.8zM1525.1 299.1h2.3v1.0h-2.3zM1473.3 303.2h1.7v0.9h-1.7zM1452.2 302.0h1.4v0.5h-1.4zM1471.6 293.1h1.7v1.1h-1.7zM1495.4 288.7h1.0v0.6h-1.0zM1503.9 288.1h1.8v0.7h-1.8zM1491.3 286.4h1.6v0.9h-1.6zM1454.9 300.3h2.0v0.9h-2.0zM1503.1 299.3h1.9v0.8h-1.9zM1510.3 294.9h2.4v1.0h-2.4zM1503.3 291.4h2.3v0.6h-2.3zM1478.7 288.6h1.5v0.6h-1.5zM1500.3 305.0h0.9v0.8h-0.9zM1466.8 302.1h1.4v0.9h-1.4zM1504.4 296.3h1.1v0.6h-1.1zM1470.0 292.3h1.7v0.9h-1.7zM1471.7 302.7h1.2v0.6h-1.2zM1483.8 291.7h1.9v0.6h-1.9zM1510.9 291.3h2.2v0.9h-2.2zM1471.7 303.8h1.2v0.9h-1.2zM1522.9 301.3h1.9v1.0h-1.9zM1472.2 296.6h1.2v0.5h-1.2zM1524.7 302.3h1.6v1.1h-1.6zM1452.3 287.8h2.3v0.9h-2.3zM1456.6 284.9h2.4v1.0h-2.4zM1501.3 303.7h1.8v0.9h-1.8zM1510.8 302.1h0.9v0.9h-0.9zM1468.5 298.9h1.5v0.7h-1.5zM1491.6 289.1h1.7v0.8h-1.7zM1465.5 285.9h1.0v1.0h-1.0zM1489.9 296.3h1.0v0.6h-1.0zM1486.3 304.8h1.3v0.9h-1.3zM1517.5 283.2h1.2v0.7h-1.2zM1472.9 281.8h2.1v0.6h-2.1zM1492.1 306.1h2.3v0.9h-2.3zM1486.6 299.5h0.7v1.0h-0.7zM1500.7 298.6h0.8v0.7h-0.8zM1460.2 302.4h2.2v0.7h-2.2zM1475.8 292.0h1.8v0.6h-1.8zM1521.5 285.5h2.4v0.9h-2.4zM1481.0 286.5h0.9v0.8h-0.9z"/><path fill="#b08870" d="M1493.5 285.8h1.3v0.8h-1.3zM1487.6 298.3h1.6v1.1h-1.6zM1491.9 287.3h1.5v0.7h-1.5zM1479.0 288.2h2.6v0.7h-2.6zM1471.4 305.5h0.8v0.7h-0.8zM1500.5 292.2h2.5v0.9h-2.5zM1476.0 293.6h1.5v1.1h-1.5zM1513.5 297.2h1.2v0.5h-1.2zM1525.2 300.3h0.9v0.7h-0.9zM1502.2 302.0h2.0v0.5h-2.0zM1487.7 297.1h2.1v1.0h-2.1zM1486.2 287.0h1.8v0.8h-1.8zM1495.2 285.3h2.2v1.1h-2.2zM1509.4 282.8h1.2v0.8h-1.2zM1506.7 297.1h0.8v0.7h-0.8zM1469.8 302.1h1.1v1.0h-1.1zM1509.8 303.9h2.6v1.0h-2.6zM1495.2 296.1h2.0v0.9h-2.0zM1461.4 296.9h1.3v1.0h-1.3zM1469.6 284.7h0.9v0.7h-0.9zM1523.2 289.7h1.7v1.0h-1.7zM1516.0 293.1h1.3v0.5h-1.3zM1505.7 301.9h1.0v0.5h-1.0zM1477.3 293.3h2.4v0.5h-2.4zM1451.2 305.7h2.4v0.9h-2.4zM1471.2 302.4h1.0v0.9h-1.0zM1483.3 290.8h2.4v0.8h-2.4zM1516.8 297.6h2.5v0.9h-2.5zM1473.8 293.1h1.4v0.9h-1.4zM1464.3 282.7h1.4v0.9h-1.4zM1495.3 296.3h2.6v0.7h-2.6zM1466.9 281.8h1.3v0.6h-1.3zM1526.4 305.5h2.2v0.7h-2.2zM1516.8 300.6h2.1v1.0h-2.1zM1510.1 287.6h1.9v0.9h-1.9zM1506.9 304.0h1.7v1.0h-1.7zM1521.3 304.4h2.3v0.5h-2.3zM1479.9 299.1h1.8v0.9h-1.8zM1525.0 298.6h1.8v0.9h-1.8zM1486.8 305.5h2.5v0.8h-2.5zM1513.1 300.6h1.3v1.1h-1.3zM1459.8 304.9h1.2v1.0h-1.2zM1486.5 302.3h2.6v0.7h-2.6zM1501.8 302.4h2.6v0.7h-2.6zM1510.5 286.7h2.5v1.0h-2.5zM1484.1 289.7h1.3v0.7h-1.3zM1480.7 293.5h1.5v0.8h-1.5zM1518.9 303.6h1.1v0.5h-1.1zM1527.7 282.1h0.8v0.8h-0.8zM1522.0 297.3h2.5v0.5h-2.5zM1500.5 299.7h2.6v0.7h-2.6zM1470.9 283.2h1.0v0.6h-1.0zM1489.9 283.7h2.1v0.6h-2.1zM1494.6 301.7h2.2v0.8h-2.2zM1459.4 291.6h2.3v0.5h-2.3zM1452.0 282.5h0.8v1.0h-0.8zM1510.0 295.5h2.3v0.8h-2.3zM1502.3 288.6h1.8v0.8h-1.8zM1501.6 285.3h1.6v0.6h-1.6zM1500.9 292.6h1.5v0.8h-1.5zM1486.7 304.1h1.5v0.8h-1.5zM1466.9 286.8h0.8v0.6h-0.8zM1476.2 301.9h0.8v1.1h-0.8zM1510.8 304.6h0.9v1.0h-0.9zM1485.7 295.7h1.8v0.6h-1.8zM1520.3 290.7h1.0v0.9h-1.0zM1498.1 284.8h2.3v0.9h-2.3zM1488.0 287.3h1.9v0.9h-1.9zM1464.4 296.1h2.0v0.9h-2.0zM1455.3 289.1h2.5v1.0h-2.5zM1486.5 303.6h1.3v0.9h-1.3zM1517.7 281.9h1.7v1.1h-1.7zM1476.4 290.7h2.3v0.7h-2.3zM1496.8 296.7h0.9v0.6h-0.9zM1470.6 281.8h1.8v1.0h-1.8zM1484.0 304.5h2.0v1.0h-2.0zM1525.9 290.5h1.0v1.1h-1.0zM1461.7 289.5h1.8v1.0h-1.8zM1478.5 291.8h1.2v0.5h-1.2zM1455.5 297.5h1.6v0.9h-1.6zM1473.4 305.4h1.1v0.6h-1.1zM1469.6 302.9h2.3v0.5h-2.3zM1483.3 290.6h1.3v0.8h-1.3zM1496.7 292.8h1.7v0.8h-1.7zM1499.0 292.0h2.2v0.8h-2.2zM1459.1 305.8h1.9v0.8h-1.9zM1510.5 287.3h1.9v1.0h-1.9zM1452.7 303.6h0.7v0.9h-0.7zM1496.0 289.2h1.4v1.1h-1.4zM1514.6 303.5h2.0v0.6h-2.0zM1494.5 293.0h2.4v0.6h-2.4zM1517.3 296.1h2.5v1.0h-2.5zM1467.9 285.6h1.3v0.8h-1.3zM1488.5 294.9h2.3v0.8h-2.3zM1500.7 299.1h1.0v1.0h-1.0zM1478.5 291.2h2.4v0.7h-2.4zM1485.1 284.0h1.8v1.0h-1.8zM1522.5 296.2h0.7v0.7h-0.7zM1485.6 284.0h2.1v0.9h-2.1zM1520.8 297.1h2.2v0.6h-2.2zM1493.2 294.8h1.9v0.5h-1.9zM1467.9 300.3h1.6v1.1h-1.6zM1491.8 296.4h1.6v0.8h-1.6zM1524.9 295.0h1.4v0.7h-1.4zM1461.3 302.9h2.5v0.9h-2.5zM1523.9 305.7h2.2v0.5h-2.2zM1491.1 303.8h2.3v0.9h-2.3zM1519.5 305.8h0.7v0.8h-0.7zM1486.7 289.2h1.1v1.0h-1.1zM1482.5 297.7h1.3v0.6h-1.3zM1517.7 295.9h1.4v0.8h-1.4zM1474.7 288.6h2.1v0.9h-2.1zM1492.2 298.2h1.1v0.5h-1.1zM1464.7 306.0h1.9v0.7h-1.9zM1459.7 282.6h1.5v0.9h-1.5zM1459.8 305.2h2.3v0.7h-2.3zM1529.2 297.4h2.5v0.6h-2.5zM1485.2 305.5h1.0v0.8h-1.0zM1529.2 284.5h1.5v0.7h-1.5zM1476.3 286.0h1.3v0.8h-1.3z"/><path fill="#90b0a8" d="M1466.1 282.2h1.3v0.7h-1.3zM1506.7 288.1h1.3v0.9h-1.3zM1492.5 294.9h2.6v0.5h-2.6zM1464.5 284.4h2.2v0.8h-2.2zM1509.5 282.1h2.1v0.8h-2.1zM1493.8 284.9h1.0v0.5h-1.0zM1490.8 291.5h0.9v1.0h-0.9zM1479.8 293.9h1.9v0.8h-1.9zM1502.1 293.0h1.2v0.6h-1.2zM1508.8 306.4h1.3v0.8h-1.3zM1521.8 301.6h2.1v1.1h-2.1zM1530.2 293.7h2.1v0.7h-2.1zM1520.3 302.2h2.1v0.6h-2.1zM1466.8 291.6h1.3v0.9h-1.3zM1518.2 286.6h1.4v0.8h-1.4zM1468.0 305.2h1.7v1.0h-1.7zM1518.0 294.1h1.1v1.0h-1.1zM1471.3 290.0h2.5v0.9h-2.5zM1501.6 295.7h1.0v1.1h-1.0zM1498.8 284.1h2.1v0.7h-2.1zM1479.0 304.2h1.0v1.1h-1.0zM1501.2 295.8h1.2v0.9h-1.2zM1483.2 283.6h2.1v0.6h-2.1zM1502.4 287.7h1.4v0.8h-1.4zM1487.1 306.2h1.6v0.5h-1.6zM1461.5 299.8h1.8v0.6h-1.8zM1474.0 290.4h1.6v0.8h-1.6zM1500.9 295.3h1.6v1.1h-1.6zM1484.1 285.8h1.5v0.8h-1.5zM1507.6 302.4h1.4v0.9h-1.4zM1484.1 299.2h2.6v1.0h-2.6zM1503.8 295.3h1.2v0.6h-1.2zM1505.2 302.2h1.1v0.7h-1.1zM1492.7 287.6h2.1v0.7h-2.1zM1461.0 294.2h1.2v0.9h-1.2zM1458.7 286.9h1.3v0.7h-1.3zM1451.6 293.6h2.3v1.1h-2.3zM1469.7 285.3h0.9v0.6h-0.9zM1496.2 289.5h1.9v0.7h-1.9zM1521.2 297.6h2.0v0.9h-2.0zM1520.2 294.3h2.2v0.9h-2.2zM1476.4 299.3h0.9v1.0h-0.9zM1489.4 285.6h0.9v0.9h-0.9zM1459.2 302.3h0.7v0.6h-0.7zM1492.8 286.5h1.6v0.7h-1.6zM1504.9 291.9h0.7v0.5h-0.7zM1508.9 304.2h1.2v0.7h-1.2zM1481.8 285.8h2.3v0.6h-2.3zM1467.1 301.2h0.8v0.6h-0.8zM1475.5 287.6h1.3v0.5h-1.3zM1501.6 302.3h1.4v0.9h-1.4zM1527.3 306.4h0.9v0.8h-0.9zM1507.6 296.9h1.4v0.7h-1.4zM1511.4 283.7h0.8v0.8h-0.8zM1460.7 305.6h1.4v0.8h-1.4zM1479.7 285.9h1.2v0.8h-1.2zM1502.8 285.6h1.1v0.7h-1.1zM1511.1 295.5h1.7v0.9h-1.7zM1529.1 302.0h1.5v1.1h-1.5zM1461.5 301.0h1.9v0.5h-1.9zM1463.8 300.5h1.4v0.9h-1.4zM1514.2 288.5h1.3v1.0h-1.3zM1456.1 282.0h1.9v0.9h-1.9zM1499.2 293.2h2.5v0.9h-2.5zM1516.0 282.8h1.8v0.7h-1.8zM1461.4 293.0h1.2v1.0h-1.2zM1493.3 285.9h2.6v0.7h-2.6zM1469.3 297.6h1.8v0.7h-1.8zM1498.1 292.2h1.3v0.6h-1.3zM1525.8 287.5h1.6v1.1h-1.6zM1464.8 285.3h2.4v1.1h-2.4zM1478.6 298.5h1.1v1.1h-1.1zM1491.2 292.2h1.8v0.5h-1.8zM1456.3 300.5h0.8v0.9h-0.8zM1486.5 287.5h1.0v0.8h-1.0zM1479.8 300.7h0.7v0.8h-0.7zM1508.9 282.7h1.7v0.5h-1.7zM1479.8 306.0h1.3v0.6h-1.3zM1525.1 293.2h1.2v0.8h-1.2zM1513.5 285.7h1.3v0.8h-1.3zM1499.6 302.4h1.1v0.7h-1.1zM1472.8 285.1h1.2v0.7h-1.2zM1473.3 284.2h2.0v1.1h-2.0zM1473.2 298.1h2.4v0.5h-2.4zM1506.0 287.2h1.0v0.7h-1.0zM1526.9 283.9h0.7v0.9h-0.7zM1508.9 304.6h1.6v0.5h-1.6zM1483.2 297.4h1.8v0.5h-1.8zM1522.1 302.6h1.0v1.1h-1.0zM1482.3 287.4h1.2v1.0h-1.2zM1513.2 283.2h0.9v0.7h-0.9zM1514.6 287.4h2.2v0.9h-2.2zM1523.7 304.9h2.1v0.5h-2.1zM1528.7 286.9h1.7v0.5h-1.7zM1517.8 287.0h1.1v0.7h-1.1zM1516.3 305.0h2.2v0.5h-2.2zM1481.3 283.1h2.2v0.6h-2.2zM1477.2 292.0h1.9v0.9h-1.9zM1497.0 288.8h1.7v0.6h-1.7zM1466.9 281.9h1.4v0.6h-1.4zM1452.7 295.9h2.2v0.8h-2.2zM1510.1 292.7h2.0v1.0h-2.0zM1515.2 302.0h2.0v0.9h-2.0zM1523.9 289.1h2.4v0.9h-2.4zM1466.2 283.1h1.3v0.9h-1.3zM1508.5 306.1h1.3v0.9h-1.3zM1524.1 302.8h2.4v1.1h-2.4zM1501.8 283.4h2.6v0.7h-2.6zM1501.2 283.6h1.3v0.5h-1.3zM1476.9 291.0h1.5v1.1h-1.5zM1517.5 301.2h1.9v0.8h-1.9zM1462.9 305.7h2.3v0.9h-2.3zM1452.4 299.0h1.9v0.6h-1.9zM1508.0 285.1h2.1v0.9h-2.1zM1463.7 287.1h2.2v1.0h-2.2zM1458.3 281.7h1.6v0.9h-1.6zM1467.4 297.6h1.3v0.5h-1.3zM1476.1 301.2h2.4v0.9h-2.4zM1457.0 304.1h2.5v0.9h-2.5zM1529.8 291.3h1.7v1.1h-1.7zM1523.3 289.6h1.7v0.9h-1.7zM1458.3 284.9h2.1v0.8h-2.1zM1462.6 285.8h1.0v1.0h-1.0zM1485.8 301.9h2.5v0.8h-2.5zM1472.1 285.1h2.5v0.6h-2.5zM1459.0 298.2h1.8v0.6h-1.8zM1522.3 288.6h0.8v0.7h-0.8zM1465.5 289.5h1.5v0.9h-1.5zM1506.2 291.3h2.0v0.8h-2.0zM1528.0 306.1h2.5v0.8h-2.5zM1513.5 294.3h2.4v1.1h-2.4zM1520.9 303.0h1.2v0.6h-1.2z"/>
<path fill="#9a7a68" d="M1436.1 288.7h1.3v1.0h-1.3zM1442.4 289.9h1.9v0.6h-1.9zM1439.1 288.3h0.8v0.9h-0.8zM1428.7 288.3h2.3v0.5h-2.3zM1429.8 289.8h0.7v1.1h-0.7zM1428.8 289.6h0.9v0.7h-0.9zM1428.8 289.3h0.7v0.8h-0.7zM1445.7 291.0h0.7v1.0h-0.7zM1445.2 289.5h1.8v0.9h-1.8zM1446.5 288.8h1.7v0.6h-1.7zM1425.6 290.2h1.8v0.7h-1.8zM1445.5 291.1h0.7v0.6h-0.7zM1427.7 289.3h1.1v0.6h-1.1zM1441.7 288.6h2.4v0.6h-2.4zM1447.2 289.9h2.0v0.7h-2.0zM1443.3 290.8h1.7v1.1h-1.7zM1433.7 289.0h1.4v0.5h-1.4z"/><path fill="#8aa098" d="M1447.0 289.6h1.9v1.0h-1.9zM1436.1 289.0h1.0v1.0h-1.0zM1445.9 290.9h2.1v0.6h-2.1zM1446.3 290.1h0.9v0.7h-0.9zM1444.0 288.6h1.1v0.6h-1.1zM1426.4 288.7h2.2v0.5h-2.2zM1431.7 290.2h2.0v0.7h-2.0zM1441.6 291.0h2.0v0.8h-2.0zM1440.4 290.5h1.4v0.5h-1.4zM1434.5 288.7h1.3v0.8h-1.3zM1431.0 288.8h1.1v0.9h-1.1zM1444.3 288.5h1.3v1.0h-1.3zM1446.6 288.7h1.5v1.1h-1.5zM1447.7 289.4h1.9v0.9h-1.9zM1435.3 289.7h0.9v0.8h-0.9zM1430.7 288.8h2.0v0.8h-2.0zM1444.8 288.8h2.0v0.9h-2.0z"/>
<path fill="#9a7a68" d="M1428.1 303.3h1.0v0.7h-1.0zM1434.1 303.9h1.9v1.0h-1.9zM1446.5 302.9h2.1v0.6h-2.1zM1440.7 303.6h1.2v0.8h-1.2zM1429.2 304.1h0.9v0.8h-0.9zM1442.1 303.2h1.7v0.6h-1.7zM1434.1 303.2h2.1v0.9h-2.1zM1446.3 303.1h2.3v0.7h-2.3zM1436.7 304.1h1.2v0.7h-1.2zM1436.5 304.5h1.8v0.6h-1.8zM1439.5 304.2h2.3v0.9h-2.3zM1424.5 302.8h0.7v0.9h-0.7zM1434.9 303.1h1.5v0.6h-1.5zM1429.8 304.5h1.8v0.7h-1.8zM1427.5 303.2h2.1v0.6h-2.1z"/><path fill="#8aa098" d="M1425.0 303.4h0.9v1.0h-0.9zM1434.1 304.1h2.1v1.1h-2.1zM1443.6 303.5h1.4v0.9h-1.4zM1430.2 304.3h1.3v0.8h-1.3zM1435.6 302.9h1.3v0.8h-1.3zM1444.6 303.7h1.0v1.1h-1.0zM1441.8 302.9h1.6v1.1h-1.6zM1436.1 303.0h0.8v0.6h-0.8zM1425.4 303.6h1.5v0.6h-1.5zM1428.7 304.2h1.6v0.9h-1.6zM1432.4 303.4h1.1v0.5h-1.1zM1446.1 302.7h1.4v0.5h-1.4zM1430.0 302.6h1.5v1.1h-1.5zM1435.6 303.8h1.3v0.6h-1.3zM1436.5 304.5h0.7v0.6h-0.7z"/>
<line x1="1423.2" y1="280.4" x2="1532.2" y2="280.4" stroke="#ff1c10" stroke-width="2.0"/>
<line x1="1423.2" y1="308.4" x2="1532.2" y2="308.4" stroke="#ff1c10" stroke-width="2.0"/>
</g>
<g id="corr" fill="none" stroke-linejoin="miter" stroke-miterlimit="10">
<polyline points="0.0,416.3 1536.0,416.3" stroke="#990000" stroke-width="5.8"/>
<polyline points="1.5,358.4 312.5,358.4 334.5,364.0 535.5,364.0 557.0,342.4 867.5,342.4 889.5,286.0 1200.0,286.0 1222.0,345.8 1533.0,345.8" stroke="#00c890" stroke-width="5.8"/>
<polyline points="1.0,298.1 312.5,298.1 334.5,195.0 535.5,195.0 557.0,276.7 867.5,276.7 889.5,190.2 1200.0,190.2 1222.0,256.4 1533.0,256.4" stroke="#ff6600" stroke-width="5.8"/>
<polyline points="1.5,194.7 312.5,194.7 334.5,169.5 535.5,169.5 557.0,205.4 867.5,205.4 889.5,104.0 1200.0,104.0 1222.0,164.2 1533.0,164.2" stroke="#fedc0c" stroke-width="5.8"/>
</g>
<g id="titles">
<rect x="78.5" y="10.7" width="101.5" height="24.4" fill="#fff" stroke="#444" stroke-width="1.1"/>
<text class="tt" x="87.5" y="30.9" text-anchor="start" textLength="83.7" lengthAdjust="spacingAndGlyphs">1-OGX-15</text>
<rect x="383.5" y="10.7" width="94.0" height="24.4" fill="#fff" stroke="#444" stroke-width="1.1"/>
<text class="tt" x="389.3" y="30.9" text-anchor="start" textLength="82.5" lengthAdjust="spacingAndGlyphs">3-OGX-61</text>
<rect x="667.5" y="10.7" width="88.5" height="24.4" fill="#fff" stroke="#444" stroke-width="1.1"/>
<text class="tt" x="676.0" y="30.9" text-anchor="start" textLength="71.5" lengthAdjust="spacingAndGlyphs">1-OGX-6</text>
<rect x="975.5" y="9.9" width="108.5" height="24.4" fill="#fff" stroke="#444" stroke-width="1.1"/>
<text class="tt" x="981.5" y="30.1" text-anchor="start" textLength="96.5" lengthAdjust="spacingAndGlyphs">3-OGX-21D</text>
<rect x="1328.5" y="9.9" width="99.5" height="24.4" fill="#fff" stroke="#444" stroke-width="1.1"/>
<text class="tt" x="1336.5" y="30.1" text-anchor="start" textLength="83.5" lengthAdjust="spacingAndGlyphs">3-OGX-54</text>
</g>
<g id="headers">
<text class="hd" x="13.5" y="58.0" text-anchor="start" textLength="18.0" lengthAdjust="spacingAndGlyphs">(m)</text>
<text class="hd" x="45.2" y="58.0" text-anchor="start" textLength="42.8" lengthAdjust="spacingAndGlyphs">lithology</text>
<text class="hd" x="96.7" y="58.0" text-anchor="start" textLength="6.1" lengthAdjust="spacingAndGlyphs">0</text>
<text class="hd" x="135.2" y="58.0" text-anchor="start" textLength="14.8" lengthAdjust="spacingAndGlyphs">GR</text>
<text class="hd" x="180.4" y="58.0" text-anchor="start" textLength="19.2" lengthAdjust="spacingAndGlyphs">200</text>
<text class="hd" x="224.0" y="58.0" text-anchor="start" textLength="66.2" lengthAdjust="spacingAndGlyphs">core sample</text>
<text class="hd" x="347.0" y="58.0" text-anchor="start" textLength="18.0" lengthAdjust="spacingAndGlyphs">(m)</text>
<text class="hd" x="380.0" y="58.0" text-anchor="start" textLength="43.0" lengthAdjust="spacingAndGlyphs">lithology</text>
<text class="hd" x="443.5" y="58.0" text-anchor="start" textLength="66.5" lengthAdjust="spacingAndGlyphs">core sample</text>
<text class="hd" x="570.0" y="58.0" text-anchor="start" textLength="18.0" lengthAdjust="spacingAndGlyphs">(m)</text>
<text class="hd" x="600.6" y="58.0" text-anchor="start" textLength="43.0" lengthAdjust="spacingAndGlyphs">lithology</text>
<text class="hd" x="651.1" y="58.0" text-anchor="start" textLength="6.2" lengthAdjust="spacingAndGlyphs">0</text>
<text class="hd" x="690.6" y="58.0" text-anchor="start" textLength="14.8" lengthAdjust="spacingAndGlyphs">GR</text>
<text class="hd" x="737.5" y="58.0" text-anchor="start" textLength="19.5" lengthAdjust="spacingAndGlyphs">200</text>
<text class="hd" x="781.0" y="58.0" text-anchor="start" textLength="66.2" lengthAdjust="spacingAndGlyphs">core sample</text>
<text class="hd" x="885.0" y="57.4" text-anchor="start" textLength="18.6" lengthAdjust="spacingAndGlyphs">(m)</text>
<text class="hd" x="930.0" y="57.4" text-anchor="start" textLength="43.0" lengthAdjust="spacingAndGlyphs">lithology</text>
<text class="hd" x="980.9" y="57.4" text-anchor="start" textLength="6.2" lengthAdjust="spacingAndGlyphs">0</text>
<text class="hd" x="1019.1" y="57.4" text-anchor="start" textLength="15.8" lengthAdjust="spacingAndGlyphs">GR</text>
<text class="hd" x="1065.0" y="57.4" text-anchor="start" textLength="19.5" lengthAdjust="spacingAndGlyphs">200</text>
<text class="hd" x="1107.6" y="57.4" text-anchor="start" textLength="66.4" lengthAdjust="spacingAndGlyphs">core sample</text>
<text class="hd" x="1235.4" y="57.4" text-anchor="start" textLength="18.0" lengthAdjust="spacingAndGlyphs">(m)</text>
<text class="hd" x="1267.6" y="57.4" text-anchor="start" textLength="43.3" lengthAdjust="spacingAndGlyphs">lithology</text>
<text class="hd" x="1318.6" y="57.4" text-anchor="start" textLength="6.2" lengthAdjust="spacingAndGlyphs">0</text>
<text class="hd" x="1357.7" y="57.4" text-anchor="start" textLength="15.1" lengthAdjust="spacingAndGlyphs">GR</text>
<text class="hd" x="1402.8" y="57.4" text-anchor="start" textLength="19.2" lengthAdjust="spacingAndGlyphs">200</text>
<text class="hd" x="1446.0" y="57.4" text-anchor="start" textLength="66.5" lengthAdjust="spacingAndGlyphs">core sample</text>
</g>
<g id="legend" class="lg">
<rect x="1.4" y="439.4" width="865.4" height="142.8" fill="#fff" stroke="#111" stroke-width="1.8"/>
<text class="lg" x="14.9" y="463.8" text-anchor="start" textLength="58.7" lengthAdjust="spacingAndGlyphs" font-size="17.6">Legend</text>
<rect x="14.3" y="481.4" width="46.4" height="10.4" fill="#fedc0c"/>
<text class="lg" x="69.6" y="490.4" text-anchor="start" textLength="195.4" lengthAdjust="spacingAndGlyphs" font-size="14.65">Top MAC3 (top Macaé Group)</text>
<rect x="287" y="481.4" width="46" height="10.4" fill="#ff6600"/>
<text class="lg" x="341.8" y="490.4" text-anchor="start" textLength="67.9" lengthAdjust="spacingAndGlyphs" font-size="14.65">Top MAC2</text>
<rect x="433.4" y="481.4" width="46" height="10.4" fill="#00c890"/>
<text class="lg" x="488.9" y="490.4" text-anchor="start" textLength="66.5" lengthAdjust="spacingAndGlyphs" font-size="14.65">Top MAC1</text>
<rect x="579.3" y="481.4" width="45.8" height="10.4" fill="#990000"/>
<text class="lg" x="634.4" y="490.4" text-anchor="start" textLength="216.0" lengthAdjust="spacingAndGlyphs" font-size="14.65">Base Albian (base Macaé Group)</text>
<text class="lg" x="12.9" y="526.8" text-anchor="start" textLength="158.4" lengthAdjust="spacingAndGlyphs" font-size="13.9">Chronostratigraphic units:</text>
<rect x="179.6" y="511" width="46.6" height="22.6" fill="#f8e8b4"/>
<text class="lg" x="235.5" y="527.0" text-anchor="start" textLength="41.0" lengthAdjust="spacingAndGlyphs" font-size="14.5">MAC3</text>
<rect x="332.3" y="511" width="46.7" height="22.6" fill="#fde4cc"/>
<text class="lg" x="386.2" y="527.0" text-anchor="start" textLength="40.1" lengthAdjust="spacingAndGlyphs" font-size="14.5">MAC2</text>
<rect x="476.3" y="511" width="46.4" height="22.6" fill="#c6f4c8"/>
<text class="lg" x="534.4" y="527.0" text-anchor="start" textLength="38.9" lengthAdjust="spacingAndGlyphs" font-size="14.5">MAC1</text>
<text class="lg" x="12.9" y="566.2" text-anchor="start" textLength="171.3" lengthAdjust="spacingAndGlyphs" font-size="13.95">Lithology curve (Macaé Gr.)</text>
<rect x="190.5" y="548.9" width="27.2" height="22.4" fill="#0066ff"/>
<text class="lg" x="226.3" y="566.2" text-anchor="start" textLength="70.7" lengthAdjust="spacingAndGlyphs" font-size="14.5">calcarenite</text>
<rect x="316" y="548.9" width="27.5" height="22.4" fill="#00ffff"/>
<text class="lg" x="349.5" y="566.2" text-anchor="start" textLength="59.3" lengthAdjust="spacingAndGlyphs" font-size="14.5">calcilutite</text>
<rect x="431" y="548.9" width="27" height="22.2" fill="#008000"/>
<text class="lg" x="464.0" y="566.2" text-anchor="start" textLength="34.7" lengthAdjust="spacingAndGlyphs" font-size="14.5">shale</text>
<rect x="517.3" y="548.9" width="27" height="22.2" fill="#cf9fff"/>
<text class="lg" x="550.2" y="566.2" text-anchor="start" textLength="27.8" lengthAdjust="spacingAndGlyphs" font-size="14.5">marl</text>
<rect x="605.3" y="548.9" width="27" height="22.2" fill="#ffe800"/>
<text class="lg" x="638.0" y="566.2" text-anchor="start" textLength="67.3" lengthAdjust="spacingAndGlyphs" font-size="14.5">sandstone</text>
<rect x="723" y="548.9" width="27" height="22.2" fill="#ccb8d6"/>
<text class="lg" x="755.6" y="566.2" text-anchor="start" textLength="63.2" lengthAdjust="spacingAndGlyphs" font-size="14.5">dolostone</text>
</g>
<g id="map">
<rect x="1240.4" y="434.8" width="266.4" height="191.2" fill="#fff" stroke="#222" stroke-width="1.1"/>
<line x1="1274.2" y1="626" x2="1274.2" y2="628.0" stroke="#333" stroke-width="0.9"/>
<line x1="1301.1" y1="626" x2="1301.1" y2="629.6" stroke="#333" stroke-width="0.9"/>
<line x1="1328.0" y1="626" x2="1328.0" y2="628.0" stroke="#333" stroke-width="0.9"/>
<line x1="1354.9" y1="626" x2="1354.9" y2="629.6" stroke="#333" stroke-width="0.9"/>
<line x1="1381.8" y1="626" x2="1381.8" y2="628.0" stroke="#333" stroke-width="0.9"/>
<line x1="1408.7" y1="626" x2="1408.7" y2="629.6" stroke="#333" stroke-width="0.9"/>
<line x1="1435.6" y1="626" x2="1435.6" y2="628.0" stroke="#333" stroke-width="0.9"/>
<line x1="1462.5" y1="626" x2="1462.5" y2="629.6" stroke="#333" stroke-width="0.9"/>
<line x1="1489.4" y1="626" x2="1489.4" y2="628.0" stroke="#333" stroke-width="0.9"/>
<text class="ax" x="1276.0" y="636.8" text-anchor="middle" textLength="31.5" lengthAdjust="spacingAndGlyphs">856000</text>
<text class="ax" x="1329.8" y="636.8" text-anchor="middle" textLength="31.5" lengthAdjust="spacingAndGlyphs">860000</text>
<text class="ax" x="1383.6" y="636.8" text-anchor="middle" textLength="31.5" lengthAdjust="spacingAndGlyphs">864000</text>
<text class="ax" x="1437.4" y="636.8" text-anchor="middle" textLength="31.5" lengthAdjust="spacingAndGlyphs">868000</text>
<text class="ax" x="1491.2" y="636.8" text-anchor="middle" textLength="31.5" lengthAdjust="spacingAndGlyphs">872000</text>
<line x1="1506.5" y1="449.4" x2="1509" y2="449.4" stroke="#333" stroke-width="0.8"/>
<line x1="1506.5" y1="473.2" x2="1509" y2="473.2" stroke="#333" stroke-width="0.8"/>
<line x1="1506.5" y1="500.0" x2="1509" y2="500.0" stroke="#333" stroke-width="0.8"/>
<line x1="1506.5" y1="526.7" x2="1509" y2="526.7" stroke="#333" stroke-width="0.8"/>
<line x1="1506.5" y1="553.5" x2="1509" y2="553.5" stroke="#333" stroke-width="0.8"/>
<line x1="1506.5" y1="580.8" x2="1509" y2="580.8" stroke="#333" stroke-width="0.8"/>
<line x1="1506.5" y1="607.7" x2="1509" y2="607.7" stroke="#333" stroke-width="0.8"/>
<text class="ax" transform="translate(1512.7,450.9) rotate(90)" text-anchor="middle" textLength="36.4" lengthAdjust="spacingAndGlyphs" font-size="9.7">7400000</text>
<text class="ax" transform="translate(1512.7,505.0) rotate(90)" text-anchor="middle" textLength="36.4" lengthAdjust="spacingAndGlyphs" font-size="9.7">7396000</text>
<text class="ax" transform="translate(1512.7,558.4) rotate(90)" text-anchor="middle" textLength="36.4" lengthAdjust="spacingAndGlyphs" font-size="9.7">7392000</text>
<text class="ax" transform="translate(1512.7,610.4) rotate(90)" text-anchor="middle" textLength="36.4" lengthAdjust="spacingAndGlyphs" font-size="9.7">7388000</text>
<text x="1256.4" y="454.9" text-anchor="middle" font-family="&quot;Liberation Serif&quot;,serif" font-size="11.5" fill="#111">N</text>
<line x1="1256.5" y1="482.4" x2="1256.5" y2="466" stroke="#000" stroke-width="0.9"/>
<path d="M1256.5 459.2 L1261.3 467.6 L1256.5 465.6 L1251.7 467.6 Z" fill="#000"/>
<g stroke="#1f6fff" stroke-width="1.75" fill="none"><circle cx="1385.8" cy="455.9" r="5.6"/><line x1="1381.3999999999999" y1="455.9" x2="1390.2" y2="455.9"/><line x1="1385.8" y1="451.5" x2="1385.8" y2="460.29999999999995"/></g>
<text class="mp" x="1308.6" y="453.5" text-anchor="start" textLength="57.4" lengthAdjust="spacingAndGlyphs">1-OGX-15</text>
<g stroke="#1f6fff" stroke-width="1.75" fill="none"><circle cx="1390.6" cy="469.6" r="5.6"/><line x1="1386.1999999999998" y1="469.6" x2="1395.0" y2="469.6"/><line x1="1390.6" y1="465.20000000000005" x2="1390.6" y2="474.0"/></g>
<text class="mp" x="1361.3" y="488.8" text-anchor="start" textLength="50.4" lengthAdjust="spacingAndGlyphs">1-OGX-6</text>
<g stroke="#1f6fff" stroke-width="1.75" fill="none"><circle cx="1449.7" cy="468.4" r="5.6"/><line x1="1445.3" y1="468.4" x2="1454.1000000000001" y2="468.4"/><line x1="1449.7" y1="464.0" x2="1449.7" y2="472.79999999999995"/></g>
<text class="mp" x="1432.6" y="487.0" text-anchor="start" textLength="57.4" lengthAdjust="spacingAndGlyphs">3-OGX-61</text>
<g stroke="#1f6fff" stroke-width="1.75" fill="none"><circle cx="1395.9" cy="565.9" r="5.6"/><line x1="1391.5" y1="565.9" x2="1400.3000000000002" y2="565.9"/><line x1="1395.9" y1="561.5" x2="1395.9" y2="570.3"/></g>
<text class="mp" x="1366.5" y="553.8" text-anchor="start" textLength="67.7" lengthAdjust="spacingAndGlyphs">3-OGX-21D</text>
<g stroke="#1f6fff" stroke-width="1.75" fill="none"><circle cx="1303.3" cy="605.1" r="5.6"/><line x1="1298.8999999999999" y1="605.1" x2="1307.7" y2="605.1"/><line x1="1303.3" y1="600.7" x2="1303.3" y2="609.5"/></g>
<text class="mp" x="1274.2" y="591.9" text-anchor="start" textLength="58.0" lengthAdjust="spacingAndGlyphs">3-OGX-54</text>
<rect x="1432.2" y="616.6" width="67.1" height="2.9" fill="#000"/>
<text class="lg" x="1451.0" y="612.9" text-anchor="start" textLength="31.0" lengthAdjust="spacingAndGlyphs" font-size="11.4">10 km</text>
</g>
</svg></body></html>
